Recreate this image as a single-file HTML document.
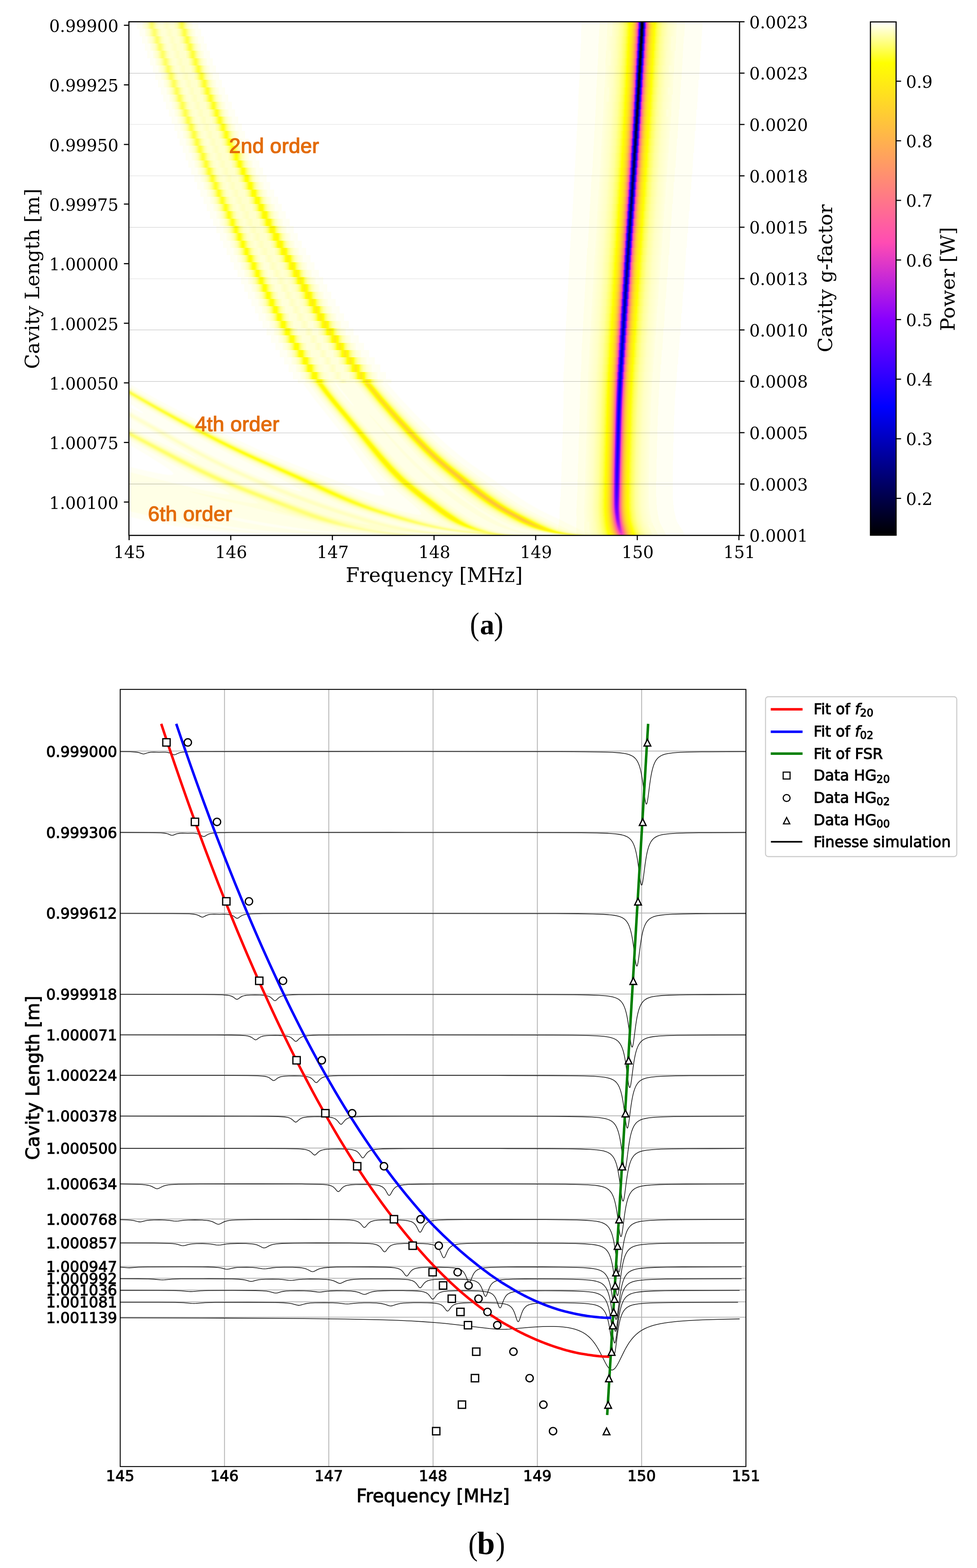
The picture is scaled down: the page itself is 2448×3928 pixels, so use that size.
<!DOCTYPE html>
<html><head><meta charset="utf-8"><title>Cavity scan</title>
<style>
html,body{margin:0;padding:0;background:#fff}
#page{position:relative;width:2448px;height:3928px;overflow:hidden;background:#fff}
#heat i{position:absolute;left:0;width:100%;display:block}
#heat svg.hb{position:absolute;left:0;mix-blend-mode:multiply;filter:blur(1.2px)}
#heat .m{mix-blend-mode:multiply}
#ov{position:absolute;left:0;top:0}
</style></head><body><div id="page">
<div id="heat" style="position:absolute;left:323px;top:54.5px;width:1530px;height:1286.7px;overflow:hidden;background:#fff;isolation:isolate">
<i style="top:0px;height:18.44px;background:linear-gradient(90deg,#fff 0px 20.2px,#fffff3 20.2px 33.2px,#ffffec 33.2px,#ffffcb 44px,#ffffb1 48px,#ffff76 54.5px,#ffff6a 57.5px,#ffff74 60px,#ffffbc 69px,#ffffd4 75.5px,#ffffd8 83.5px,#ffffc2 95px,#ffffd4 105.5px,#ffffd2 112px,#ffffb1 120.5px,#ffff52 130px,#ffff46 132.5px,#ffff54 135.5px,#ffff9d 142px,#ffffc2 146.5px,#ffffdc 152.5px,#ffffec 159.8px,#fffff3 159.8px 173.8px,#fff 173.8px 1134.2px,#fffff3 1134.2px 1178.8px,#ffffe6 1178.8px 1198.8px,#ffffda 1198.8px 1210.8px,#ffffd3 1210.8px,#ffffb7 1226px,#ffff8c 1238px,#ffff51 1247px,#ff0 1254px,#ffe817 1261px,#ffc53a 1266.5px,#ff946b 1271px,#f5a 1274.5px,#fb4ab5 1275px,#e93ec1 1275.5px,#7b00ff 1278px,#1200ff 1280px,#0000f4 1280.5px,#00008e 1282px,#00003a 1283.5px,#000009 1285px,#000002 1286px,#001 1287px,#000035 1288px,#008 1289.5px,#0000ed 1291px,#0d00ff 1291.5px,#8e04fb 1294px,#f848b7 1296.5px,#ff53ac 1297px,#ff926d 1300.5px,#ffc43b 1305px,#ffe718 1310.5px,#ff0 1317.5px,#ffff32 1321.5px,#ffff5d 1326px,#ffff9b 1337px,#ffffc5 1352px,#ffffdf 1372.8px,#ffffe6 1372.8px 1392.8px,#fffff3 1392.8px 1437.2px,#fff 1437.2px 1530px)"></i>
<i style="top:17.94px;height:18.78px;background:linear-gradient(90deg,#fff 0px 26.8px,#fffff3 26.8px 39.8px,#ffffec 39.8px,#ffffc9 51px,#ffff72 61.5px,#ffff68 64px,#ffff73 67px,#ffffba 75.5px,#ffffd4 82.5px,#ffffd7 90px,#ffffc2 102px,#ffffd3 112.5px,#ffffd0 119px,#ffffb1 127px,#ffff93 130.5px,#ffff50 136.5px,#ffff42 139.5px,#ffff4f 142px,#ffff9f 149px,#ffffc2 153.5px,#ffd 159.5px,#ffffec 166.8px,#fffff3 166.8px 180.8px,#fff 180.8px 1133.2px,#fffff3 1133.2px 1178.2px,#ffffe6 1178.2px 1197.8px,#ffffda 1197.8px 1209.8px,#ffffd3 1209.8px,#ffffb7 1225px,#ffff8d 1237px,#ffff56 1245.5px,#fffe01 1253.5px,#ffe619 1260.5px,#ffc23d 1266px,#ff8e71 1270.5px,#fe4cb3 1274px,#7f00ff 1277px,#0000f9 1279.5px,#000094 1281px,#00003f 1282.5px,#00000d 1284px,#000005 1285px,#000014 1286px,#000037 1287px,#008 1288.5px,#0000ed 1290px,#0d00ff 1290.5px,#8e04fb 1293px,#f748b7 1295.5px,#ff53ac 1296px,#ff926d 1299.5px,#ffc43b 1304px,#ffe718 1309.5px,#ff0 1316.5px,#ff3 1320.5px,#ffff5d 1325px,#ffff9b 1336px,#ffffc5 1351px,#ffffdf 1371.8px,#ffffe6 1371.8px 1391.8px,#fffff3 1391.8px 1436.2px,#fff 1436.2px 1530px)"></i>
<i style="top:36.22px;height:18.78px;background:linear-gradient(90deg,#fff 0px 33.2px,#fffff3 33.2px 46.2px,#ffffec 46.2px,#ffffca 57.5px,#ffffaf 61.5px,#ffff73 68px,#ff6 71px,#ffff73 74px,#ffffba 82.5px,#ffffd3 89.5px,#ffffd7 97px,#ffffc2 108.5px,#ffffd2 119px,#ffffd0 125.5px,#ffffae 134px,#ffff4b 143.5px,#ffff3f 146px,#ffff4d 149px,#ffff9f 156px,#ffffc2 160.5px,#ffffdc 166.5px,#ffffec 173.8px,#fffff3 173.8px 187.8px,#fff 187.8px 1132.8px,#fffff3 1132.8px 1177.2px,#ffffe6 1177.2px 1197.2px,#ffffdf 1197.2px,#ffffc5 1218px,#ffff9a 1233px,#ffff5f 1243.5px,#fffe01 1252.5px,#ffe619 1259.5px,#ffc23d 1265px,#ff8f70 1269.5px,#ff4db2 1273px,#8200ff 1276px,#0000fe 1278.5px,#009 1280px,#004 1281.5px,#001 1283px,#000009 1284px,#000017 1285px,#000039 1286px,#00008a 1287.5px,#0000ed 1289px,#0d00ff 1289.5px,#8e04fb 1292px,#f848b7 1294.5px,#ff53ac 1295px,#ff926d 1298.5px,#ffc53a 1303px,#ffe718 1308.5px,#ff0 1315.5px,#ffff51 1322.5px,#ffff8c 1331.5px,#ffffb7 1343.5px,#ffffd3 1358.8px,#ffffda 1358.8px 1370.8px,#ffffe6 1370.8px 1390.2px,#fffff3 1390.2px 1434.8px,#fff 1434.8px 1530px)"></i>
<i style="top:54.5px;height:18.78px;background:linear-gradient(90deg,#fff 0px 39.8px,#fffff3 39.8px 53.2px,#ffffeb 53.2px,#ffffc9 64.5px,#ffffad 68.5px,#ffff6f 75px,#ffff64 77.5px,#ffff6e 80.5px,#ffffb9 89.5px,#ffffd1 95.5px,#ffffd7 102.5px,#ffffc2 114.5px,#ffffc6 119.8px,#ffffcd 119.8px 135.8px,#ffffc6 135.8px,#ffffa8 141.5px,#ffff47 150.5px,#ffff3c 153.5px,#ffff4b 156px,#ff9 162.5px,#ffffbe 167px,#ffffda 173px,#ffffec 181.2px,#fffff3 181.2px 195.2px,#fff 195.2px 1131.8px,#fffff3 1131.8px 1176.2px,#ffffe6 1176.2px 1196.2px,#ffffdf 1196.2px,#ffffc5 1217px,#ffff9b 1232px,#ffff5c 1243px,#fffe01 1251.5px,#ffe619 1258.5px,#ffc33c 1264px,#ff8f70 1268.5px,#ff4fb0 1272px,#c829d6 1273.5px,#8400ff 1275px,#0200ff 1277.5px,#00007e 1279.5px,#000048 1280.5px,#000015 1282px,#00000c 1283px,#00001a 1284px,#00003c 1285px,#00008c 1286.5px,#0000ef 1288px,#0e00ff 1288.5px,#8f05fa 1291px,#f848b7 1293.5px,#ff53ac 1294px,#ff936c 1297.5px,#ffc53a 1302px,#ffe718 1307.5px,#ff0 1314.5px,#ffff51 1321.5px,#ffff8c 1330.5px,#ffffb7 1342.5px,#ffffd3 1357.8px,#ffffda 1357.8px 1369.8px,#ffffe6 1369.8px 1389.2px,#fffff3 1389.2px 1433.8px,#fff 1433.8px 1530px)"></i>
<i style="top:72.79px;height:18.78px;background:linear-gradient(90deg,#fff 0px 46.2px,#fffff3 46.2px 59.8px,#ffffec 59.8px,#ffffc7 71.5px,#ffffab 75.5px,#ffff6c 82px,#ffff61 84.5px,#ffff6c 87.5px,#ffffb6 96px,#ffffd1 102.5px,#ffffd7 109.5px,#ffffc1 121.5px,#ffffc6 126.8px,#ffffcd 126.8px 142.8px,#ffffc5 142.8px,#ffffa7 148.5px,#ff4 157.5px,#ffff38 160.5px,#ffff47 163px,#ffff96 169.5px,#ffffbd 174px,#ffffda 180px,#ffffec 188.2px,#fffff3 188.2px 202.8px,#fff 202.8px 1131.2px,#fffff3 1131.2px 1175.8px,#ffffe6 1175.8px 1195.2px,#ffffda 1195.2px 1207.2px,#ffffd3 1207.2px,#ffffb7 1222.5px,#ffff8c 1234.5px,#ffff54 1243px,#ff0 1250.5px,#ffe619 1257.5px,#ffc33c 1263px,#ff906f 1267.5px,#ff4fb0 1271px,#de37c8 1272px,#8600ff 1274px,#0500ff 1276.5px,#00004c 1279.5px,#000025 1280.5px,#000012 1281.5px,#000014 1282.5px,#00003f 1284px,#00008e 1285.5px,#0000f1 1287px,#1000ff 1287.5px,#7800ff 1289.5px,#9006f9 1290px,#e63dc2 1292px,#f949b6 1292.5px,#ff54ab 1293px,#ff936c 1296.5px,#ffc53a 1301px,#ffe718 1306.5px,#ff0 1313.5px,#ffff2e 1317px,#ffff5a 1321.5px,#ffff9a 1332.5px,#ffffc5 1347.5px,#ffffdf 1368.2px,#ffffe6 1368.2px 1388.2px,#fffff3 1388.2px 1432.2px,#fff 1432.2px 1530px)"></i>
<i style="top:91.07px;height:18.78px;background:linear-gradient(90deg,#fff 0px 52.8px,#fffff3 52.8px 66.2px,#ffffec 66.2px,#ffffc9 78px,#ffffa9 82.5px,#ffff6a 89px,#ffff5f 91.5px,#ffff6a 94.5px,#ffffb5 103px,#ffffd0 109.5px,#ffffd7 116.5px,#ffffc1 128.5px,#ffffc6 133.8px,#ffffcd 133.8px 149.2px,#ffffc7 149.2px,#ffffa6 155.5px,#ffff42 164.5px,#ffff34 167.5px,#ffff43 170px,#ffff98 177px,#ffffbe 181.5px,#ffffda 187.5px,#ffffec 195.8px,#fffff3 195.8px 210.2px,#fff 210.2px 1130.2px,#fffff3 1130.2px 1174.8px,#ffffe6 1174.8px 1194.2px,#ffffda 1194.2px 1206.2px,#ffffd3 1206.2px,#ffffb7 1221.5px,#ffff8c 1233.5px,#ffff50 1242.5px,#ff0 1249.5px,#ffe718 1256.5px,#ffc33c 1262px,#ff906f 1266.5px,#ff50af 1270px,#df38c7 1271px,#8700ff 1273px,#0600ff 1275.5px,#00004f 1278.5px,#000028 1279.5px,#000015 1280.5px,#000018 1281.5px,#000043 1283px,#000092 1284.5px,#0000f4 1286px,#1200ff 1286.5px,#7a00ff 1288.5px,#e83ec1 1291px,#fa4ab5 1291.5px,#f5a 1292px,#ff946b 1295.5px,#ffc53a 1300px,#ffe817 1305.5px,#fffe01 1312px,#ffff5f 1321px,#ffff9a 1331.5px,#ffffc5 1346.5px,#ffffe0 1367.2px,#ffffe6 1367.2px 1386.8px,#fffff3 1386.8px 1431.2px,#fff 1431.2px 1530px)"></i>
<i style="top:109.35px;height:18.78px;background:linear-gradient(90deg,#fff 0px 59.8px,#fffff3 59.8px 73.2px,#ffffec 73.2px,#ffffc8 85px,#ffffa8 89.5px,#ffff67 96px,#ffff5c 98.5px,#ffff68 101.5px,#ffffb4 110px,#ffffcf 116.5px,#ffffd6 123.5px,#ffffc1 135.5px,#ffffc6 141.2px,#ffffcd 141.2px 156.2px,#ffffc6 156.2px,#ffffa2 163px,#ffff41 171.5px,#ffff30 174.5px,#ffff3d 177px,#ffff94 184px,#ffffbf 189px,#ffffda 195px,#ffffec 203.2px,#fffff3 203.2px 217.8px,#fff 217.8px 1129.8px,#fffff3 1129.8px 1173.8px,#ffffe6 1173.8px 1193.8px,#ffffdf 1193.8px,#ffffc5 1214.5px,#ffff9a 1229.5px,#ffff5d 1240px,#ff3 1244.5px,#ff0 1248.5px,#ffe718 1255.5px,#ffc43b 1261px,#ff916e 1265.5px,#ff50af 1269px,#e038c7 1270px,#80f 1272px,#7000ff 1272.5px,#0800ff 1274.5px,#0000e7 1275px,#000087 1276.5px,#000052 1277.5px,#00002c 1278.5px,#000019 1279.5px,#00001b 1280.5px,#000047 1282px,#000096 1283.5px,#0000f8 1285px,#7c00ff 1287.5px,#fc4bb4 1290.5px,#ff8d72 1294px,#ffc23d 1298.5px,#ffe619 1304px,#fffe01 1311px,#ffff57 1319px,#ffff8e 1327.5px,#ffffb7 1339px,#ffffd3 1354.2px,#ffffda 1354.2px 1366.2px,#ffffe6 1366.2px 1385.8px,#fffff3 1385.8px 1429.8px,#fff 1429.8px 1530px)"></i>
<i style="top:127.63px;height:18.78px;background:linear-gradient(90deg,#fff 0px 66.2px,#fffff3 66.2px 79.8px,#ffffec 79.8px,#ffffde 86.5px,#ffffc7 92px,#ffffa6 96.5px,#ffff65 103px,#ffff59 105.5px,#ffff65 108.5px,#ffffb2 117px,#ffffcf 123.5px,#ffffd6 130.5px,#ffffc0 143px,#ffffc7 148.8px,#ffffcd 148.8px 163.2px,#ffffc7 163.2px,#ffffa3 170px,#ffff3b 179px,#ffff2c 182px,#ffff3b 184.5px,#ffff94 191.5px,#ffb 196px,#ffffda 202.5px,#ffffec 210.8px,#fffff3 210.8px 225.8px,#fff 225.8px 1128.8px,#fffff3 1128.8px 1173.2px,#ffffe6 1173.2px 1192.8px,#ffffdf 1192.8px,#ffffc5 1213.5px,#ffff9a 1228.5px,#ffff5e 1239px,#ff3 1243.5px,#ff0 1247.5px,#ffe718 1254.5px,#ffc43b 1260px,#ff916e 1264.5px,#ff50af 1268px,#e039c6 1269px,#8901fe 1271px,#7000ff 1271.5px,#0800ff 1273.5px,#0000e8 1274px,#008 1275.5px,#000054 1276.5px,#00002e 1277.5px,#00001c 1278.5px,#000020 1279.5px,#00004b 1281px,#00009b 1282.5px,#0000fd 1284px,#7f00ff 1286.5px,#fe4cb3 1289.5px,#ff8e71 1293px,#ffc23d 1297.5px,#ffe619 1303px,#fffe01 1310px,#ffff5c 1318.5px,#ffff9b 1329.5px,#ffffc4 1344px,#ffffdf 1364.8px,#ffffe6 1364.8px 1384.8px,#fffff3 1384.8px 1428.8px,#fff 1428.8px 1530px)"></i>
<i style="top:145.91px;height:18.78px;background:linear-gradient(90deg,#fff 0px 72.8px,#fffff3 72.8px 86.8px,#ffffec 86.8px,#ffffde 93.5px,#ffffc7 99px,#ffffa6 103.5px,#ffff63 110px,#ffff56 112.5px,#ffff61 115.5px,#ffffb4 124.5px,#ffffce 130.5px,#ffffd6 138px,#ffffc0 150px,#ffffc6 155.8px,#ffffcd 155.8px 170.8px,#ffffc6 170.8px,#ffffa1 177.5px,#ffff37 186.5px,#ffff29 189.5px,#ffff38 192px,#ffff93 199px,#ffb 203.5px,#ffffda 210px,#ffffec 218.8px,#fffff3 218.8px 233.2px,#fff 233.2px 1128.2px,#fffff3 1128.2px 1172.2px,#ffffe6 1172.2px 1191.8px,#ffffe0 1191.8px,#ffffc5 1212.5px,#ffff9a 1227.5px,#ffff5a 1238.5px,#ff3 1242.5px,#ff0 1246.5px,#ffe718 1253.5px,#ffc43b 1259px,#ff916e 1263.5px,#ff50af 1267px,#e038c7 1268px,#8801fe 1270px,#7000ff 1270.5px,#0800ff 1272.5px,#0000e8 1273px,#000089 1274.5px,#000056 1275.5px,#000031 1276.5px,#000020 1277.5px,#000024 1278.5px,#000051 1280px,#000083 1281px,#0200ff 1283px,#8300ff 1285.5px,#ff4eb1 1288.5px,#ff8f70 1292px,#ffc33c 1296.5px,#ffe619 1302px,#ff0 1309px,#ffff38 1313.5px,#ffff5d 1317.5px,#ffff9c 1328.5px,#ffffc5 1343px,#ffffdf 1363.8px,#ffffe6 1363.8px 1383.2px,#fffff3 1383.2px 1427.2px,#fff 1427.2px 1530px)"></i>
<i style="top:164.2px;height:18.78px;background:linear-gradient(90deg,#fff 0px 79.8px,#fffff3 79.8px 93.8px,#ffffec 93.8px,#ffd 100.5px,#ffffc6 106px,#ffffa5 110.5px,#ffff61 117px,#ffff53 120px,#ffff62 123px,#ffffae 131px,#ffffcd 137.5px,#ffffd6 145px,#ffffc0 157.5px,#ffffc6 163.2px,#ffffcd 163.2px 177.8px,#ffffc6 177.8px,#ffffa0 185px,#ff3 194px,#ffff25 197px,#ffff34 199.5px,#ffff91 206.5px,#ffffb9 211px,#ffffd9 217.5px,#ffffec 226.2px,#fffff3 226.2px 241.2px,#fff 241.2px 1127.2px,#fffff3 1127.2px 1171.2px,#ffffe6 1171.2px 1190.8px,#ffffda 1190.8px 1202.8px,#ffffd3 1202.8px,#ffffb6 1218px,#ffff8d 1229.5px,#ffff51 1238.5px,#ff0 1245.5px,#ffe718 1252.5px,#ffc43b 1258px,#ff916e 1262.5px,#ff50af 1266px,#df38c7 1267px,#80f 1269px,#6f00ff 1269.5px,#0800ff 1271.5px,#0000e8 1272px,#00008a 1273.5px,#000057 1274.5px,#003 1275.5px,#000023 1276.5px,#000028 1277.5px,#000056 1279px,#0700ff 1282px,#8700ff 1284.5px,#de38c7 1286.5px,#ff50af 1287.5px,#ff906f 1291px,#ffc43b 1295.5px,#ffe718 1301px,#ff0 1308px,#ffff51 1315px,#ffff8d 1324px,#ffffb6 1335.5px,#ffffd3 1350.8px,#ffffda 1350.8px 1362.8px,#ffffe6 1362.8px 1382.2px,#fffff3 1382.2px 1426.2px,#fff 1426.2px 1530px)"></i>
<i style="top:182.48px;height:18.78px;background:linear-gradient(90deg,#fff 0px 86.2px,#fffff3 86.2px 100.8px,#ffffec 100.8px,#ffffdc 108px,#ffffc3 113.5px,#ffffa5 117.5px,#ffff5b 124.5px,#ffff50 127px,#ffff5d 130px,#ffffaf 138.5px,#ffffcd 145px,#ffffd5 152.5px,#ffffc0 165px,#ffffc6 170.8px,#ffffcd 170.8px 185.2px,#ffffc6 185.2px,#ffff9f 192.5px,#ffff31 201.5px,#ffff21 204.5px,#ffff30 207px,#ffff8d 214px,#ffb 219px,#ffffd9 225.5px,#ffffec 234.2px,#fffff3 234.2px 249.2px,#fff 249.2px 1126.2px,#fffff3 1126.2px 1170.2px,#ffffe6 1170.2px 1189.8px,#ffffda 1189.8px 1201.8px,#ffffd3 1201.8px,#ffffb6 1217px,#ffff8d 1228.5px,#ffff51 1237.5px,#ff0 1244.5px,#ffe718 1251.5px,#ffc33c 1257px,#ff906f 1261.5px,#ff4fb0 1265px,#de37c8 1266px,#8600ff 1268px,#0700ff 1270.5px,#000058 1273.5px,#000035 1274.5px,#000027 1275.5px,#00002d 1276.5px,#000048 1277.5px,#000090 1279px,#00e 1280.5px,#0c00ff 1281px,#8b02fd 1283.5px,#e23ac5 1285.5px,#ff52ad 1286.5px,#ff926d 1290px,#ffc43b 1294.5px,#ffe718 1300px,#ffff01 1307px,#ffff2f 1310.5px,#ffff5b 1315px,#ffff9b 1326px,#ffffc4 1340.5px,#ffffdf 1361.2px,#ffffe6 1361.2px 1380.8px,#fffff3 1380.8px 1424.8px,#fff 1424.8px 1530px)"></i>
<i style="top:200.76px;height:18.78px;background:linear-gradient(90deg,#fff 0px 93.2px,#fffff3 93.2px 107.2px,#ffffec 107.2px,#ffd 114.5px,#ffffc3 120.5px,#ffffa0 125px,#ffff5a 131.5px,#ffff4d 134px,#ffff59 137px,#ffffb0 146px,#ffc 152px,#ffffd5 160px,#ffffc0 172.5px,#ffffc6 178.2px,#ffffcd 178.2px 192.8px,#ffffc6 192.8px,#ffff9f 200px,#ffff7a 203.5px,#ffff2f 209px,#ffff1c 212px,#ffff2a 214.5px,#ffff89 221.5px,#ffffb8 226.5px,#ffffd8 233px,#ffffec 242.2px,#fffff3 242.2px 257.8px,#fff 257.8px 1125.8px,#fffff3 1125.8px 1169.8px,#ffffe6 1169.8px 1189.2px,#ffffdf 1189.2px,#ffffc4 1210px,#ffff9a 1224.5px,#ffff5e 1235px,#ff3 1239.5px,#ff0 1243.5px,#ffe718 1250.5px,#ffc33c 1256px,#ff906f 1260.5px,#ff4eb1 1264px,#dc36c9 1265px,#8500ff 1267px,#0600ff 1269.5px,#000089 1271.5px,#000059 1272.5px,#000037 1273.5px,#00002a 1274.5px,#000032 1275.5px,#00004e 1276.5px,#000097 1278px,#0000f5 1279.5px,#1200ff 1280px,#9006f9 1282.5px,#f949b6 1285px,#ff54ab 1285.5px,#ff936c 1289px,#ffc53a 1293.5px,#ffe817 1299px,#fffe01 1305.5px,#ffff60 1314.5px,#ffff9b 1325px,#ffffc5 1339.5px,#ffffe0 1360.2px,#ffffe6 1360.2px 1379.8px,#fffff3 1379.8px 1423.8px,#fff 1423.8px 1530px)"></i>
<i style="top:219.04px;height:18.78px;background:linear-gradient(90deg,#fff 0px 100.2px,#fffff3 100.2px 114.2px,#ffffec 114.2px,#ffd 121.5px,#ffffc3 127.5px,#ffffa0 132px,#ffff58 138.5px,#ffff49 141.5px,#ffff58 144.5px,#ffffad 153px,#ffc 159.5px,#ffffd5 167.5px,#ffffc0 180px,#ffffc6 185.8px,#ffffcd 185.8px 200.2px,#ffffc6 200.2px,#ffffb5 204.5px,#ffff9c 208px,#ffff7c 211px,#ffff29 217px,#ffff18 220px,#ffff27 222.5px,#ffff89 229.5px,#ffffb8 234.5px,#ffffd8 241px,#ffffec 250.2px,#fffff3 250.2px 265.8px,#fff 265.8px 1124.8px,#fffff3 1124.8px 1168.8px,#ffffe6 1168.8px 1188.2px,#ffffdf 1188.2px,#ffffc4 1209px,#ffff9a 1223.5px,#ffff5e 1234px,#ff3 1238.5px,#ff0 1242.5px,#ffe718 1249.5px,#ffc33c 1255px,#ff8f70 1259.5px,#ff4db2 1263px,#8200ff 1266px,#0400ff 1268.5px,#008 1270.5px,#000059 1271.5px,#000039 1272.5px,#00002e 1273.5px,#000037 1274.5px,#005 1275.5px,#00009f 1277px,#0000fd 1278.5px,#7e00ff 1281px,#fd4bb4 1284px,#ff8d72 1287.5px,#ffc23d 1292px,#ffe619 1297.5px,#ff0 1304.5px,#ff5 1312px,#ffff8c 1320.5px,#ffffb6 1332px,#ffffd3 1347.2px,#ffffda 1347.2px 1359.2px,#ffffe6 1359.2px 1378.2px,#fffff3 1378.2px 1422.2px,#fff 1422.2px 1530px)"></i>
<i style="top:237.32px;height:18.78px;background:linear-gradient(90deg,#fff 0px 106.8px,#fffff3 106.8px 121.2px,#ffffec 121.2px,#ffffdb 129px,#ffffc0 135px,#ffff9c 139.5px,#ffff52 146px,#ffff45 148.5px,#ffff52 151.5px,#ffffae 160.5px,#ffc 167px,#ffffd5 175px,#ffffc0 187.5px,#ffffc6 193.2px,#ffffcd 193.2px 208.2px,#ffffc6 208.2px,#ffffb4 212.5px,#ffff9a 216px,#ffff79 219px,#ffff25 225px,#ffff14 228px,#ffff24 230.5px,#ffff87 237.5px,#ffffb7 242.5px,#ffffd9 249.5px,#ffffec 258.8px,#fffff3 258.8px 274.2px,#fff 274.2px 1123.8px,#fffff3 1123.8px 1167.8px,#ffffe6 1167.8px 1187.2px,#ffffdf 1187.2px,#ffffc4 1208px,#ffff9a 1222.5px,#ffff5e 1233px,#ffff38 1237px,#ff0 1241.5px,#ffe619 1248.5px,#ffc23d 1254px,#ff8e71 1258.5px,#fe4cb3 1262px,#8000ff 1265px,#0100ff 1267.5px,#0000a3 1269px,#000059 1270.5px,#00003b 1271.5px,#000032 1272.5px,#00003d 1273.5px,#00005c 1274.5px,#00008b 1275.5px,#0000e5 1277px,#0500ff 1277.5px,#8400ff 1280px,#ff4eb1 1283px,#ff8f70 1286.5px,#ffc33c 1291px,#ffe718 1296.5px,#ff0 1303.5px,#ffff34 1307.5px,#ffff5a 1311.5px,#ffff9b 1322.5px,#ffffc4 1337px,#ffffdf 1357.8px,#ffffe6 1357.8px 1377.2px,#fffff3 1377.2px 1421.2px,#fff 1421.2px 1530px)"></i>
<i style="top:255.61px;height:18.78px;background:linear-gradient(90deg,#fff 0px 113.8px,#fffff3 113.8px 128.2px,#ffffec 128.2px,#ffffdb 136px,#ffffc0 142px,#ffff9c 146.5px,#ffff51 153px,#ffff41 156px,#ffff51 159px,#ffa 167.5px,#ffffcb 174px,#ffffd6 182px,#ffffc0 195px,#ffffc7 201.2px,#ffffcd 201.2px 215.8px,#ffffc7 215.8px,#ffff9d 223.5px,#ff7 227px,#ff2 233px,#ffff10 236px,#ffff20 238.5px,#ffff84 245.5px,#ffffb5 250.5px,#ffffd8 257.5px,#ffffec 267.2px,#fffff3 267.2px 282.8px,#fff 282.8px 1122.8px,#fffff3 1122.8px 1166.8px,#ffffe6 1166.8px 1186.2px,#ffffdf 1186.2px,#ffffc4 1207px,#ffff9a 1221.5px,#ffff5d 1232px,#ffff38 1236px,#ff0 1240.5px,#ffe817 1247px,#ffc639 1252.5px,#ff946b 1257px,#ff56a9 1260.5px,#fc4bb4 1261px,#7d00ff 1264px,#0000fd 1266.5px,#0000a0 1268px,#000059 1269.5px,#00003d 1270.5px,#000036 1271.5px,#000043 1272.5px,#000064 1273.5px,#000094 1274.5px,#0000ef 1276px,#0d00ff 1276.5px,#8a02fd 1279px,#e139c6 1281px,#ff51ae 1282px,#ff916e 1285.5px,#ffc43b 1290px,#ffe51a 1295px,#fffe01 1302px,#ffff5f 1311px,#ffff9b 1321.5px,#ffffc5 1336px,#ffffe0 1356.8px,#ffffe6 1356.8px 1375.8px,#fffff3 1375.8px 1419.8px,#fff 1419.8px 1530px)"></i>
<i style="top:273.89px;height:18.78px;background:linear-gradient(90deg,#fff 0px 120.8px,#fffff3 120.8px 135.2px,#ffffec 135.2px,#ffffda 143.5px,#ffffbe 149.5px,#ffff98 154px,#ffff4b 160.5px,#ffff3d 163px,#ffff4a 166px,#ffa 175px,#ffffcb 181.5px,#ffffd6 190px,#ffffbf 203px,#ffffc6 208.8px,#ffffcd 208.8px 223.8px,#ffffc7 223.8px,#ffffb6 228px,#ff9 232px,#ffff71 235.5px,#ffff20 241px,#ffff0c 244px,#ffff1a 246.5px,#ffff86 254px,#ffffb6 259px,#ffffd8 266px,#ffffec 275.8px,#fffff3 275.8px 291.2px,#fff 291.2px 1121.8px,#fffff3 1121.8px 1165.8px,#ffffe6 1165.8px 1185.2px,#ffffdf 1185.2px,#ffffc4 1206px,#ffff9a 1220.5px,#ffff5d 1231px,#fffe01 1239.5px,#ffe817 1246px,#ffc53a 1251.5px,#ff936c 1256px,#ff54ab 1259.5px,#f949b6 1260px,#e63dc2 1260.5px,#9106f9 1262.5px,#7900ff 1263px,#0000f9 1265.5px,#00009e 1267px,#00006c 1268px,#00004a 1269px,#00003a 1270px,#00003f 1271px,#000059 1272px,#00009e 1273.5px,#0000f9 1275px,#1500ff 1275.5px,#9106f9 1278px,#f949b6 1280.5px,#ff54ab 1281px,#ff936c 1284.5px,#ffc53a 1289px,#ffe817 1294.5px,#fffe01 1301px,#ffff5d 1309.5px,#ffff9a 1320px,#ffffc4 1334.5px,#ffffdf 1355.2px,#ffffe6 1355.2px 1374.8px,#fffff3 1374.8px 1418.2px,#fff 1418.2px 1530px)"></i>
<i style="top:292.17px;height:18.78px;background:linear-gradient(90deg,#fff 0px 127.2px,#fffff3 127.2px 142.2px,#ffffec 142.2px,#ffffda 150.5px,#ffffbf 156.5px,#ffff9a 161px,#ffff46 168px,#ffff39 170.5px,#ffff47 173.5px,#ffffa9 182.5px,#ffffca 189px,#ffffd6 197.5px,#ffffc0 210.5px,#ffffc6 216.8px,#ffffcd 216.8px 232.2px,#ffffc5 232.2px,#ffffb4 236.5px,#ffff9a 240px,#ffff72 243.5px,#ffff19 249.5px,#ffff07 252.5px,#ffff18 255px,#ffff80 262px,#ffffb6 267.5px,#ffffd8 274.5px,#ffffec 284.2px,#fffff3 284.2px 300.2px,#fff 300.2px 1121.2px,#fffff3 1121.2px 1164.8px,#ffffe6 1164.8px 1184.2px,#ffffdf 1184.2px,#ffffc5 1204.5px,#ffff9c 1219px,#ffff60 1229.5px,#fffe01 1238.5px,#ffe51a 1245.5px,#ffc53a 1250.5px,#ff926d 1255px,#ff52ad 1258.5px,#e33ac5 1259.5px,#8d03fc 1261.5px,#7500ff 1262px,#1000ff 1264px,#0000f4 1264.5px,#00009a 1266px,#00006b 1267px,#00004b 1268px,#00003e 1269px,#000045 1270px,#000061 1271px,#00008d 1272px,#0000e4 1273.5px,#0400ff 1274px,#8100ff 1276.5px,#ff4cb3 1279.5px,#ff8e71 1283px,#ffc33c 1287.5px,#ffe619 1293px,#ff0 1300px,#ffff34 1304px,#ffff5e 1308.5px,#ffff9b 1319px,#ffffc5 1333.5px,#ffffe0 1354.2px,#ffffe6 1354.2px 1373.2px,#fffff3 1373.2px 1417.2px,#fff 1417.2px 1530px)"></i>
<i style="top:310.45px;height:18.78px;background:linear-gradient(90deg,#fff 0px 134.8px,#fffff3 134.8px 149.2px,#ffffec 149.2px,#ffffdb 157.5px,#ffffbe 164px,#ffff98 168.5px,#ffff42 175.5px,#ffff35 178px,#ffff43 181px,#ffffa7 190px,#ffffca 196.5px,#ffffd6 205.5px,#ffffc0 218.5px,#ffffc7 224.8px,#ffffcd 224.8px 240.2px,#ffffc6 240.2px,#ffffb5 244.5px,#ffff97 248.5px,#ffff6e 252px,#ffff13 258px,#ffff03 261px,#ffff15 263.5px,#ffff80 270.5px,#ffffb2 275.5px,#ffffd6 282.5px,#ffffec 292.8px,#fffff3 292.8px 308.8px,#fff 308.8px 1120.2px,#fffff3 1120.2px 1163.8px,#ffffe6 1163.8px 1183.2px,#ffffdf 1183.2px,#ffffc5 1203.5px,#ffff9c 1218px,#ffff60 1228.5px,#fffe01 1237.5px,#ffe51a 1244.5px,#ffc43b 1249.5px,#ff906f 1254px,#ff4fb0 1257.5px,#de38c7 1258.5px,#8700ff 1260.5px,#0b00ff 1263px,#0000ed 1263.5px,#000096 1265px,#000069 1266px,#00004b 1267px,#000041 1268px,#00004c 1269px,#00006a 1270px,#000098 1271px,#0000f0 1272.5px,#0e00ff 1273px,#8a01fe 1275.5px,#e039c6 1277.5px,#ff50af 1278.5px,#ff916e 1282px,#ffc43b 1286.5px,#ffe51a 1291.5px,#fffe01 1298.5px,#ffff60 1307.5px,#ffff9c 1318px,#ffffc5 1332.5px,#ffffdf 1352.8px,#ffffe6 1352.8px 1372.2px,#fffff3 1372.2px 1415.8px,#fff 1415.8px 1530px)"></i>
<i style="top:328.74px;height:18.78px;background:linear-gradient(90deg,#fff 0px 141.8px,#fffff3 141.8px 156.8px,#ffffec 156.8px,#ffffdb 165px,#ffffbd 171.5px,#ffff96 176px,#ffff3f 183px,#ffff30 185.5px,#ffff3e 188.5px,#ffffa5 197.5px,#ffffca 204.5px,#ffffd6 213.5px,#ffffc0 226.5px,#ffffc7 232.8px,#ffffcd 232.8px 248.8px,#ffffc5 248.8px,#ffffb3 253px,#ff9 256.5px,#ffff72 260px,#ffff0f 266.5px,#ffff01 268px,#ff0 270px,#ffff18 272.5px,#ffff84 279.5px,#ffffb1 284px,#ffffd7 291.5px,#ffffec 301.8px,#fffff3 301.8px 317.8px,#fff 317.8px 1119.2px,#fffff3 1119.2px 1162.8px,#ffffe6 1162.8px 1182.2px,#ffffdf 1182.2px,#ffffc5 1202.5px,#ffff9b 1217px,#ffff5b 1228px,#ffff34 1232px,#ff0 1236px,#ffe718 1243px,#ffc33c 1248.5px,#ff8e71 1253px,#ff4cb3 1256.5px,#8100ff 1259.5px,#0500ff 1262px,#000091 1264px,#006 1265px,#00004c 1266px,#000046 1267px,#000054 1268px,#000075 1269px,#0000a5 1270px,#0000fe 1271.5px,#7c00ff 1274px,#fb4ab5 1277px,#ff8d72 1280.5px,#ffc23d 1285px,#ffe619 1290.5px,#ff0 1297.5px,#ffff38 1302px,#ffff5e 1306px,#ffff9b 1316.5px,#ffffc5 1331px,#ffffe0 1351.8px,#ffffe6 1351.8px 1370.8px,#fffff3 1370.8px 1414.2px,#fff 1414.2px 1530px)"></i>
<i style="top:347.02px;height:18.78px;background:linear-gradient(90deg,#fff 0px 148.8px,#fffff3 148.8px 164.2px,#ffffec 164.2px,#ffffda 172.5px,#ffffbc 179px,#ffff91 184px,#ffff38 191px,#ffff2c 193.5px,#ffff3d 196.5px,#ffffa2 205px,#ffffc9 212px,#ffffd6 221px,#ffffc0 234.5px,#ffffc6 240.8px,#ffffcd 240.8px 256.8px,#ffffc6 256.8px,#ffff9d 264.5px,#ffff70 268.5px,#ffff05 275.5px,#ff0 279px,#ffff13 281px,#ffff81 288px,#ffffaf 292.5px,#ffffd6 300px,#ffffec 310.2px,#fffff3 310.2px 326.8px,#fff 326.8px 1118.2px,#fffff3 1118.2px 1161.8px,#ffffe6 1161.8px 1180.8px,#ffffe0 1180.8px,#ffffc5 1201.5px,#ffff9b 1216px,#ffff5e 1226.5px,#ffff38 1230.5px,#ff0 1235px,#ffe817 1241.5px,#ffc639 1247px,#ff936c 1251.5px,#ff54ab 1255px,#f949b6 1255.5px,#e63dc2 1256px,#7a00ff 1258.5px,#0000fc 1261px,#0000a4 1262.5px,#000076 1263.5px,#000056 1264.5px,#00004a 1265.5px,#000051 1266.5px,#00006d 1267.5px,#000098 1268.5px,#00e 1270px,#0b00ff 1270.5px,#8600ff 1273px,#dd37c8 1275px,#ff4fb0 1276px,#ff906f 1279.5px,#ffc43b 1284px,#ffe51a 1289px,#fffe01 1296px,#ffff60 1305px,#ffff9c 1315.5px,#ffffc5 1330px,#ffffe0 1350.2px,#ffffe6 1350.2px 1369.8px,#fffff3 1369.8px 1412.8px,#fff 1412.8px 1530px)"></i>
<i style="top:365.3px;height:18.78px;background:linear-gradient(90deg,#fff 0px 156.2px,#fffff3 156.2px 171.8px,#ffffec 171.8px,#ffffd9 180.5px,#ffffba 187px,#ffff92 191.5px,#ffff37 198.5px,#ffff28 201px,#ffff36 204px,#ffffa1 213px,#ffffc9 220px,#ffffd6 229.5px,#ffffc0 243px,#ffffc6 248.8px,#ffffcd 248.8px 265.2px,#ffffc6 265.2px,#ffffb2 270px,#ffff8e 274.5px,#ffff68 277.5px,#ffff02 284px,#ff0 288.5px,#ffff7d 296.5px,#ffffb0 301.5px,#ffffd6 309px,#ffffec 319.2px,#fffff3 319.2px 335.8px,#fff 335.8px 1117.2px,#fffff3 1117.2px 1160.8px,#ffffe6 1160.8px 1179.8px,#ffffe0 1179.8px,#ffffc5 1200px,#ffff9c 1214.5px,#ffff60 1225px,#fffe01 1234px,#ffe51a 1241px,#ffc43b 1246px,#ff916e 1250.5px,#ff50af 1254px,#e038c7 1255px,#8901fe 1257px,#7200ff 1257.5px,#0f00ff 1259.5px,#0000f3 1260px,#00009d 1261.5px,#000072 1262.5px,#000056 1263.5px,#00004e 1264.5px,#000059 1265.5px,#000078 1266.5px,#0000a6 1267.5px,#0000fe 1269px,#9206f9 1272px,#f949b6 1274.5px,#ff54ab 1275px,#ff936c 1278.5px,#ffc639 1283px,#ffe817 1288.5px,#ff0 1295px,#ffff38 1299.5px,#ffff5e 1303.5px,#ffff9b 1314px,#ffffc5 1328.5px,#ffffdf 1348.8px,#ffffe6 1348.8px 1368.2px,#fffff3 1368.2px 1411.8px,#fff 1411.8px 1530px)"></i>
<i style="top:383.58px;height:18.78px;background:linear-gradient(90deg,#fff 0px 163.8px,#fffff3 163.8px 179.2px,#ffffec 179.2px,#ffffd8 188.5px,#ffffb8 195px,#ffff90 199.5px,#ff3 206.5px,#ffff23 209px,#ffff32 212px,#ffffa0 221px,#ffffc8 228px,#ffffd6 237.5px,#ffffbf 251.5px,#ffffc6 257.2px,#ffffcd 257.2px 273.8px,#ffffc6 273.8px,#ffffb2 278.5px,#ffff8e 283px,#ffff61 286.5px,#ff0 292.5px 297.5px,#ff7 305px,#ffffb1 310.5px,#ffffd6 318px,#ffffec 328.8px,#fffff3 328.8px 345.2px,#fff 345.2px 1115.8px,#fffff3 1115.8px 1159.2px,#ffffe6 1159.2px 1178.8px,#ffffe0 1178.8px,#ffffc4 1199.5px,#ffff9a 1214px,#ffff5b 1224.5px,#ffff34 1228.5px,#ff0 1232.5px,#ffe718 1239.5px,#ffc33c 1245px,#ff8e71 1249.5px,#fe4cb3 1253px,#8100ff 1256px,#0600ff 1258.5px,#000080 1261px,#000060 1262px,#000052 1263px,#000058 1264px,#000072 1265px,#00009b 1266px,#0000ef 1267.5px,#0c00ff 1268px,#8600ff 1270.5px,#ff4eb1 1273.5px,#ff906f 1277px,#ffc33c 1281.5px,#ffe51a 1286.5px,#fffe01 1293.5px,#ffff60 1302.5px,#ffff9c 1313px,#ffffc5 1327.5px,#ffffe0 1347.8px,#ffffe6 1347.8px 1366.8px,#fffff3 1366.8px 1410.2px,#fff 1410.2px 1530px)"></i>
<i style="top:401.86px;height:18.78px;background:linear-gradient(90deg,#fff 0px 171.2px,#fffff3 171.2px 186.8px,#ffffec 186.8px,#ffffd9 196px,#ffb 202.5px,#ffff8e 207.5px,#ffff30 214.5px,#ffff1e 217.5px,#ffff32 220.5px,#ffff9d 229px,#ffffc7 236px,#ffffd6 246px,#ffffbf 260px,#ffffc6 265.8px,#ffffcd 265.8px 282.2px,#ffffc6 282.2px,#ffffb3 287px,#ffff8f 291.5px,#ffff63 295px,#ff0 301px,#fffe01 306.5px,#ffff09 307.5px,#ffff7e 314.5px,#ffffb0 319.5px,#ffffd6 327px,#ffffec 337.8px,#fffff3 337.8px 354.2px,#fff 354.2px 1114.8px,#fffff3 1114.8px 1158.2px,#ffffe6 1158.2px 1177.8px,#ffffdf 1177.8px,#ffffc5 1198px,#ffff9b 1212.5px,#ffff5e 1223px,#ffff38 1227px,#fffe01 1231.5px,#ffe619 1238.5px,#ffc53a 1243.5px,#ff936c 1248px,#ff53ac 1251.5px,#e43bc4 1252.5px,#8f05fa 1254.5px,#7800ff 1255px,#0000fc 1257.5px,#0000a7 1259px,#00007b 1260px,#00005f 1261px,#005 1262px,#000060 1263px,#00007d 1264px,#00a 1265px,#0100ff 1266.5px,#9207f8 1269.5px,#f949b6 1272px,#ff54ab 1272.5px,#ff936c 1276px,#ffc639 1280.5px,#ffe619 1285.5px,#ff0 1292.5px,#ffff39 1297px,#ffff5e 1301px,#ffff9b 1311.5px,#ffffc5 1326px,#ffffdf 1346.2px,#ffffe6 1346.2px 1365.2px,#fffff3 1365.2px 1408.8px,#fff 1408.8px 1530px)"></i>
<i style="top:420.14px;height:18.78px;background:linear-gradient(90deg,#fff 0px 179.2px,#fffff3 179.2px 194.8px,#ffffec 194.8px,#ffffd9 204px,#ffffb8 211px,#ffff89 216px,#ffff28 223px,#ffff1a 225.5px,#ffff2b 228.5px,#ff7 234px,#ffff9d 237.5px,#ffffc7 244.5px,#ffffd6 254.5px,#ffffbf 268.5px,#ffffc6 274.2px,#ffffcd 274.2px 290.8px,#ffffc7 290.8px,#ffffb1 296px,#ffff8c 300.5px,#ffff5f 304px,#ff0 309.5px 316px,#ffff75 323px,#ffffaf 328.5px,#ffffd5 336px,#ffffec 347.2px,#fffff3 347.2px 364.2px,#fff 364.2px 1113.8px,#fffff3 1113.8px 1157.2px,#ffffe6 1157.2px 1176.2px,#ffffe0 1176.2px,#ffffc5 1196.5px,#ffff9c 1211px,#ffff60 1221.5px,#fffe01 1230.5px,#ffe51a 1237.5px,#ffc33c 1242.5px,#ff906f 1247px,#ff4eb1 1250.5px,#8600ff 1253.5px,#0d00ff 1256px,#0000f1 1256.5px,#000089 1258.5px,#000069 1259.5px,#00005a 1260.5px,#00005f 1261.5px,#000078 1262.5px,#0000a0 1263.5px,#0000f3 1265px,#0e00ff 1265.5px,#8700ff 1268px,#dd37c8 1270px,#ff4fb0 1271px,#ff906f 1274.5px,#ffc43b 1279px,#ffe51a 1284px,#fffe01 1291px,#ffff5c 1299.5px,#ffff9a 1310px,#ffffc4 1324.5px,#ffffdf 1344.8px,#ffffe6 1344.8px 1364.2px,#fffff3 1364.2px 1407.2px,#fff 1407.2px 1530px)"></i>
<i style="top:438.43px;height:18.78px;background:linear-gradient(90deg,#fff 0px 186.8px,#fffff3 186.8px 202.8px,#ffffec 202.8px,#ffffd9 212px,#ffffb8 219px,#ffff8a 224px,#ff2 231.5px,#ffff15 234px,#ffff28 237px,#ffff98 245.5px,#ffffc6 253px,#ffffd6 263px,#ffffbf 277px,#ffffc6 283.2px,#ffffcd 283.2px 299.8px,#ffffc6 299.8px,#ffffb0 305px,#ffff8a 309.5px,#ffff5c 313px,#ffff03 318px,#ff0 325.5px,#ffff78 332.5px,#ffffb1 338px,#ffffd6 345.5px,#ffffec 356.8px,#fffff3 356.8px 373.8px,#fff 373.8px 1112.8px,#fffff3 1112.8px 1156.2px,#ffffe6 1156.2px 1175.2px,#ffffe0 1175.2px,#ffffc5 1195.5px,#ffff9c 1210px,#ffff5f 1220.5px,#ffff34 1225px,#ff0 1229px,#ffe916 1235.5px,#ffc639 1241px,#ff946b 1245.5px,#f5a 1249px,#fb4ab5 1249.5px,#7d00ff 1252.5px,#0400ff 1255px,#000084 1257.5px,#000067 1258.5px,#00005d 1259.5px,#000067 1260.5px,#000084 1261.5px,#0000e6 1263.5px,#0400ff 1264px,#7d00ff 1266.5px,#fa49b6 1269.5px,#ff8c73 1273px,#ffc23d 1277.5px,#ffe619 1283px,#ff0 1290px,#ffff34 1294px,#ffff5f 1298.5px,#ffff9c 1309px,#ffffc5 1323.5px,#ffffe0 1343.8px,#ffffe6 1343.8px 1362.8px,#fffff3 1362.8px 1406.2px,#fff 1406.2px 1530px)"></i>
<i style="top:456.71px;height:18.78px;background:linear-gradient(90deg,#fff 0px 194.8px,#fffff3 194.8px 210.8px,#ffffec 210.8px,#ffffd8 220.5px,#ffffb6 227.5px,#ffff87 232.5px,#ff2 239.5px,#ffff10 242.5px,#ffff25 245.5px,#ffff97 254px,#ffffc6 261.5px,#ffffd6 271.5px,#ffffbf 286px,#ffffc7 292.2px,#ffffcd 292.2px 308.8px,#ffffc6 308.8px,#ffffaf 314px,#ffff8a 318.5px,#ffff5b 322px,#ff0 327px,#fff807 331px,#ff0 335px,#ffff73 341.5px,#ffffae 347px,#ffffd6 355px,#ffffec 366.2px,#fffff3 366.2px 383.2px,#fff 383.2px 1111.8px,#fffff3 1111.8px 1155.2px,#ffffe6 1155.2px 1174.2px,#ffffe0 1174.2px,#ffffc5 1194.5px,#ffff9b 1209px,#ffff5d 1219.5px,#fffe01 1228px,#ffe51a 1235px,#ffc43b 1240px,#ff916e 1244.5px,#ff51ae 1248px,#e139c6 1249px,#8b02fd 1251px,#7400ff 1251.5px,#0000fa 1254px,#000092 1256px,#000071 1257px,#000062 1258px,#000067 1259px,#00007e 1260px,#0000a6 1261px,#0000f7 1262.5px,#10f 1263px,#8901fe 1265.5px,#df38c7 1267.5px,#ff50af 1268.5px,#ff906f 1272px,#ffc43b 1276.5px,#ffe51a 1281.5px,#fffe01 1288.5px,#ffff5d 1297px,#ffff9b 1307.5px,#ffffc5 1322px,#ffffdf 1342.2px,#ffffe6 1342.2px 1361.2px,#fffff3 1361.2px 1404.8px,#fff 1404.8px 1530px)"></i>
<i style="top:474.99px;height:18.78px;background:linear-gradient(90deg,#fff 0px 202.8px,#fffff3 202.8px 219.2px,#ffffec 219.2px,#ffffd7 229px,#ffffb5 236px,#ffff85 241px,#ffff19 248.5px,#ffff0b 251px,#ffff20 254px,#ffff94 262.5px,#ffffc5 270px,#ffffd6 280.5px,#ffffbf 295px,#ffffc7 301.2px,#ffffcd 301.2px 317.8px,#ffffc6 317.8px,#ffffaf 323px,#ffff8a 327.5px,#ffff5c 331px,#ff0 336px,#fff708 340.5px,#ff0 344.5px,#ffff73 351px,#ffffae 356.5px,#ffffd6 364.5px,#ffffec 375.8px,#fffff3 375.8px 393.2px,#fff 393.2px 1110.8px,#fffff3 1110.8px 1153.8px,#ffffe6 1153.8px 1173.2px,#ffffdf 1173.2px,#ffffc4 1193.5px,#ffff9a 1208px,#ffff5c 1218.5px,#ffff30 1223px,#ffff01 1226.5px,#ffe718 1233.5px,#ffc33c 1239px,#ff8e71 1243.5px,#ff4cb3 1247px,#8300ff 1250px,#0b00ff 1252.5px,#0000ef 1253px,#00008d 1255px,#000070 1256px,#000065 1257px,#00006e 1258px,#00008a 1259px,#0000ea 1261px,#0600ff 1261.5px,#7e00ff 1264px,#fb4ab5 1267px,#ff8d72 1270.5px,#ffc23d 1275px,#ffe619 1280.5px,#ff0 1287.5px,#ffff34 1291.5px,#ffff5b 1295.5px,#ffff9a 1306px,#ffffc4 1320.5px,#ffffdf 1340.8px,#ffffe6 1340.8px 1360.2px,#fffff3 1360.2px 1403.2px,#fff 1403.2px 1530px)"></i>
<i style="top:493.27px;height:18.78px;background:linear-gradient(90deg,#fff 0px 211.2px,#fffff3 211.2px 227.2px,#ffffec 227.2px,#ffffd7 237.5px,#ffffb5 244.5px,#ffff84 249.5px,#ffff16 257px,#ffff06 259.5px,#ffff1a 262.5px,#ffff6d 268px,#ffff96 271.5px,#ffffc3 278.5px,#ffffd6 289px,#ffffbe 304px,#ffffc7 310.2px,#ffffcd 310.2px 326.8px,#ffffc6 326.8px,#ffffb0 332px,#ffff8c 336.5px,#ffff56 340.5px,#ffff01 345px,#fff609 349.5px,#fffe01 354px,#ffff72 360.5px,#ffffb1 366.5px,#ffffd7 374.5px,#ffffec 385.8px,#fffff3 385.8px 403.2px,#fff 403.2px 1109.8px,#fffff3 1109.8px 1152.8px,#ffffe6 1152.8px 1171.8px,#ffffe0 1171.8px,#ffffc5 1192px,#ffff9c 1206.5px,#ffff5f 1217px,#ffff39 1221px,#ff0 1225.5px,#ffe619 1232.5px,#ffc53a 1237.5px,#ff936c 1242px,#ff53ac 1245.5px,#e53cc3 1246.5px,#7a00ff 1249px,#0300ff 1251.5px,#0000b2 1253px,#000089 1254px,#000070 1255px,#00006a 1256px,#007 1257px,#000096 1258px,#0000fa 1260px,#8a02fd 1263px,#df38c7 1265px,#ff50af 1266px,#ff906f 1269.5px,#ffc43b 1274px,#ffe51a 1279px,#fffe01 1286px,#ffff5d 1294.5px,#ffff9b 1305px,#ffffc5 1319.5px,#ffffe0 1339.8px,#ffffe6 1339.8px 1358.8px,#fffff3 1358.8px 1401.8px,#fff 1401.8px 1530px)"></i>
<i style="top:511.56px;height:18.78px;background:linear-gradient(90deg,#fff 0px 219.2px,#fffff3 219.2px 235.8px,#ffffec 235.8px,#ffffd7 246px,#ffffb5 253px,#ffff7e 258.5px,#ffff14 265.5px,#ffff02 268px,#ffff14 271px,#ffff6f 277px,#ffff93 280px,#ffffc4 287.5px,#ffffd6 298px,#ffffbe 313px,#ffffc6 319.2px,#ffffcd 319.2px 335.8px,#ffffc7 335.8px,#ffffaf 341.5px,#ffff8a 346px,#ffff5b 349.5px,#fffe01 354.5px,#fff50a 359px,#ff0 364px,#ffff6f 370px,#ffffaf 376px,#ffffd6 384px,#ffffec 395.2px,#fffff3 395.2px 413.2px,#fff 413.2px 1108.2px,#fffff3 1108.2px 1151.8px,#ffffe6 1151.8px 1170.8px,#ffffe0 1170.8px,#ffffc5 1191px,#ffff9b 1205.5px,#ffff5d 1216px,#fffe01 1224.5px,#ffe51a 1231.5px,#ffc43b 1236.5px,#ff906f 1241px,#ff4fb0 1244.5px,#de38c7 1245.5px,#8901fe 1247.5px,#7200ff 1248px,#0000fa 1250.5px,#000097 1252.5px,#00007a 1253.5px,#00006e 1254.5px,#000075 1255.5px,#00008f 1256.5px,#0000ec 1258.5px,#0800ff 1259px,#7e00ff 1261.5px,#fb4ab5 1264.5px,#ff8c73 1268px,#ffc23d 1272.5px,#ffe619 1278px,#ff0 1285px,#ffff35 1289px,#ffff5b 1293px,#ffff9a 1303.5px,#ffffc4 1318px,#ffffdf 1338.2px,#ffffe6 1338.2px 1357.2px,#fffff3 1357.2px 1400.8px,#fff 1400.8px 1530px)"></i>
<i style="top:529.84px;height:18.78px;background:linear-gradient(90deg,#fff 0px 227.8px,#fffff3 227.8px 244.2px,#ffffec 244.2px,#ffffd7 254.5px,#ffffb2 262px,#ffff7f 267px,#ffff13 274px,#ff0 276.5px,#ffff0e 279.5px,#ffff69 285.5px,#ffff94 289px,#ffffc4 296.5px,#ffffd7 307.5px,#ffffbf 322px,#ffffc6 328.2px,#ffffcd 328.2px 345.2px,#ffffc6 345.2px,#ffffae 351px,#ffff89 355.5px,#ffff52 359.5px,#ffff04 363.5px,#fff50a 368.5px,#fffe01 373.5px,#ffff03 374px,#ffff72 380px,#ffffad 385.5px,#ffffd5 393.5px,#ffffec 405.2px,#fffff3 405.2px 423.2px,#fff 423.2px 1107.2px,#fffff3 1107.2px 1150.8px,#ffffe6 1150.8px 1169.8px,#ffffe0 1169.8px,#ffffc5 1190px,#ffff9a 1204.5px,#ffff5c 1215px,#ffff30 1219.5px,#ffff01 1223px,#ffe718 1230px,#ffc23d 1235.5px,#ff8e71 1240px,#fd4cb3 1243.5px,#8200ff 1246.5px,#0c00ff 1249px,#0000f2 1249.5px,#000094 1251.5px,#00007a 1252.5px,#000072 1253.5px,#00007d 1254.5px,#00009a 1255.5px,#0000fb 1257.5px,#8901fe 1260.5px,#de37c8 1262.5px,#ff4fb0 1263.5px,#ff906f 1267px,#ffc43b 1271.5px,#ffe51a 1276.5px,#fffe01 1283.5px,#ffff5d 1292px,#ffff9b 1302.5px,#ffffc5 1317px,#ffffe0 1337.2px,#ffffe6 1337.2px 1356.2px,#fffff3 1356.2px 1399.2px,#fff 1399.2px 1530px)"></i>
<i style="top:548.12px;height:18.78px;background:linear-gradient(90deg,#fff 0px 236.2px,#fffff3 236.2px 252.8px,#ffffec 252.8px,#ffffd7 263px,#ffffb3 270.5px,#ffff81 275.5px,#ffff14 282.5px,#ff0 284.5px,#ffff03 287.5px,#ffff90 297.5px,#ffffad 301px,#ffffc4 305.5px,#ffffd7 316.5px,#ffffbf 331.5px,#ffffc7 337.8px,#ffffcd 337.8px 354.8px,#ffffc6 354.8px,#ffffaf 360.5px,#ffff8a 365px,#ffff5b 368.5px,#fffe01 373.5px,#fff40b 378.5px,#fffe01 383.5px,#ffff74 390px,#ffffad 395.5px,#ffffd5 403.5px,#ffffec 415.2px,#fffff3 415.2px 433.2px,#fff 433.2px 1106.2px,#fffff3 1106.2px 1149.8px,#ffffe6 1149.8px 1168.8px,#ffffdf 1168.8px,#ffffc4 1189px,#ffff9a 1203.5px,#ffff5b 1214px,#ffff34 1218px,#ff0 1222px,#ffe619 1229px,#ffc53a 1234px,#ff936c 1238.5px,#ff53ac 1242px,#e53cc3 1243px,#7b00ff 1245.5px,#0600ff 1248px,#000092 1250.5px,#000076 1252px,#00007b 1253px,#000093 1254px,#0000ec 1256px,#0700ff 1256.5px,#7c00ff 1259px,#e63dc2 1261.5px,#f949b6 1262px,#ff54ab 1262.5px,#ff936c 1266px,#ffc639 1270.5px,#ffe817 1276px,#ff0 1282.5px,#ffff34 1286.5px,#ffff5b 1290.5px,#ffff9a 1301px,#ffffc5 1315.5px,#ffffdf 1335.8px,#ffffe6 1335.8px 1354.8px,#fffff3 1354.8px 1397.8px,#fff 1397.8px 1530px)"></i>
<i style="top:566.4px;height:18.78px;background:linear-gradient(90deg,#fff 0px 244.8px,#fffff3 244.8px 261.8px,#ffffec 261.8px,#ffffd7 272px,#ffffb1 279.5px,#ffff7f 284.5px,#ffff18 291px,#ff0 293px,#ffff01 296.5px,#ffff8a 306px,#ffffad 310px,#ffffc4 314.5px,#ffffd7 325.5px,#ffffbf 340.5px,#ffffc6 346.8px,#ffffcd 346.8px 364.8px,#ffffc6 364.8px,#ffffae 370.5px,#ff8 375px,#ffff50 379px,#ffff01 383px,#fff30c 388.5px,#ffff01 394px,#ffff6b 399.5px,#ffffac 405.5px,#ffffd4 413.5px,#ffffec 425.8px,#fffff3 425.8px 443.8px,#fff 443.8px 1105.2px,#fffff3 1105.2px 1148.2px,#ffffe6 1148.2px 1167.8px,#ffffdf 1167.8px,#ffffc5 1187.5px,#ffff9b 1202px,#ffff5e 1212.5px,#fffe01 1221px,#ffe51a 1228px,#ffc43b 1233px,#ff916e 1237.5px,#ff50af 1241px,#e038c7 1242px,#8c03fc 1244px,#7500ff 1244.5px,#0100ff 1247px,#0000a1 1249px,#000085 1250px,#00007a 1251px,#000082 1252px,#00009d 1253px,#0000fa 1255px,#8700ff 1258px,#ff4eb1 1261px,#ff8f70 1264.5px,#ffc33c 1269px,#ffe51a 1274px,#fffe01 1281px,#ffff5d 1289.5px,#ffff9b 1300px,#ffffc5 1314.5px,#ffffe0 1334.8px,#ffffe6 1334.8px 1353.8px,#fffff3 1353.8px 1396.2px,#fff 1396.2px 1530px)"></i>
<i style="top:584.68px;height:18.78px;background:linear-gradient(90deg,#fff 0px 253.8px,#fffff3 253.8px 270.8px,#ffffec 270.8px,#ffffd7 281px,#ffffb1 288.5px,#ffff7f 293.5px,#ffff17 300px,#ff0 302px,#ffff02 306px,#ffff75 313.5px,#ffffa5 318px,#ffffc2 323px,#ffffd3 329.2px,#ffffda 329.2px 341.2px,#ffffd3 341.2px,#ffffbf 351px,#ffffd3 365px,#ffffc3 376px,#ffffab 381px,#ffff84 385.5px,#ffff53 389px,#ffff04 393px,#fff20d 398.5px,#fffe01 404px,#ffff02 404.5px,#ffff41 407.5px,#ffff73 410.5px,#ffffad 416px,#ffffd4 424px,#ffffec 436.2px,#fffff3 436.2px 454.8px,#fff 454.8px 1104.2px,#fffff3 1104.2px 1147.2px,#ffffe6 1147.2px 1166.2px,#ffffe0 1166.2px,#ffffc5 1186.5px,#ffff9b 1201px,#ffff5d 1211.5px,#fffe01 1220px,#ffe41b 1227px,#ffc33c 1232px,#ff8e71 1236.5px,#ff4db2 1240px,#8500ff 1243px,#0000f9 1246px,#00009e 1248px,#000085 1249px,#00007e 1250px,#000097 1251.5px,#0000ec 1253.5px,#0700ff 1254px,#7a00ff 1256.5px,#e43bc4 1259px,#ff52ad 1260px,#ff926d 1263.5px,#ffc53a 1268px,#ffe619 1273px,#ff0 1280px,#ffff34 1284px,#ffff5b 1288px,#ffff9a 1298.5px,#ffffc5 1313px,#ffffe0 1333.2px,#ffffe6 1333.2px 1352.2px,#fffff3 1352.2px 1395.2px,#fff 1395.2px 1530px)"></i>
<i style="top:602.97px;height:18.78px;background:linear-gradient(90deg,#fff 0px 262.8px,#fffff3 262.8px 279.8px,#ffffec 279.8px,#ffffd5 290.5px,#ffffaf 298px,#ffff7a 303px,#ff1 309.5px,#ff0 311px,#ffff04 315.5px,#ffff72 322.5px,#ffffa6 327.5px,#ffffc3 332.5px,#ffffd3 338.2px,#ffffda 338.2px 351.2px,#ffffd3 351.2px,#ffffbf 361px,#ffffd4 375px,#ffffc5 386px,#ffffad 391px,#ff8 395.5px,#ffff50 399.5px,#ff0 403.5px,#fff10e 409.5px,#ff0 415px,#ffff6a 420.5px,#ffffac 426.5px,#ffffd4 434.5px,#ffffec 446.8px,#fffff3 446.8px 465.2px,#fff 465.2px 1103.2px,#fffff3 1103.2px 1146.2px,#ffffe6 1146.2px 1165.2px,#ffffe0 1165.2px,#ffffc5 1185.5px,#ffff9a 1200px,#ffff5c 1210.5px,#ffff35 1214.5px,#ff0 1218.5px,#ffe916 1225px,#ffc639 1230.5px,#ff936c 1235px,#ff54ab 1238.5px,#fa49b6 1239px,#7f00ff 1242px,#0c00ff 1244.5px,#0000f3 1245px,#00009d 1247px,#000083 1248.5px,#000089 1249.5px,#0000a1 1250.5px,#0000fa 1252.5px,#8400ff 1255.5px,#ff4cb3 1258.5px,#ff8e71 1262px,#ffc33c 1266.5px,#ffe41b 1271.5px,#fffe01 1278.5px,#ffff61 1287.5px,#ffff9b 1297.5px,#ffffc5 1312px,#ffffdf 1331.8px,#ffffe6 1331.8px 1350.8px,#fffff3 1350.8px 1393.8px,#fff 1393.8px 1530px)"></i>
<i style="top:621.25px;height:18.78px;background:linear-gradient(90deg,#fff 0px 271.8px,#fffff3 271.8px 288.8px,#ffffec 288.8px,#ffffd6 299.5px,#ffffb0 307px,#ffff7c 312px,#ff0 320px 324.5px,#ffff74 332px,#ffffa8 337px,#ffffc4 342px,#ffffd3 347.8px,#ffffda 347.8px 361.2px,#ffffd3 361.2px,#ffffc0 370.5px,#ffffd5 385px,#ffffc6 396px,#ffffac 401.5px,#ffff86 406px,#ffff56 409.5px,#fffe01 414px,#fff10e 419.5px,#ff0 425.5px,#ffff71 431.5px,#ffffaf 437.5px,#ffffd5 445.5px,#ffffec 457.8px,#fffff3 457.8px 476.2px,#fff 476.2px 1102.2px,#fffff3 1102.2px 1145.2px,#ffffe6 1145.2px 1164.2px,#ffffe0 1164.2px,#ffffc5 1184.5px,#ffff9a 1199px,#ffff5b 1209.5px,#ff0 1217.5px,#ffe51a 1224.5px,#ffc53a 1229.5px,#ff916e 1234px,#ff51ae 1237.5px,#e23ac5 1238.5px,#8f05fa 1240.5px,#7800ff 1241px,#0700ff 1243.5px,#00009c 1246px,#000087 1247.5px,#00009c 1249px,#0000be 1250px,#0000ed 1251px,#0600ff 1251.5px,#8f05fa 1254.5px,#e23ac5 1256.5px,#ff51ae 1257.5px,#ff916e 1261px,#ffc43b 1265.5px,#ffe51a 1270.5px,#ff0 1277.5px,#ffff5b 1285.5px,#ffff9a 1296px,#ffffc5 1310.5px,#ffffe0 1330.8px,#ffffe6 1330.8px 1349.8px,#fffff3 1349.8px 1392.2px,#fff 1392.2px 1530px)"></i>
<i style="top:639.53px;height:18.78px;background:linear-gradient(90deg,#fff 0px 280.8px,#fffff3 280.8px 297.8px,#ffffec 297.8px,#ffffd6 308.5px,#ffffb0 316px,#ffff7d 321px,#ff0 329px,#ffff02 334px,#ffff71 341px,#ffffa6 346px,#ffffc3 351px,#ffffd3 356.8px,#ffffda 356.8px 371.2px,#ffffd3 371.2px,#ffffc0 380.5px,#ffffd5 395px,#ffffc5 406.5px,#ffa 412px,#ffff83 416.5px,#ffff51 420px,#ff0 424px,#fff00f 430px,#ff0 436px,#ffff6a 441.5px,#ffffab 447.5px,#ffffd5 456px,#ffffec 468.2px,#fffff3 468.2px 486.8px,#fff 486.8px 1101.2px,#fffff3 1101.2px 1144.2px,#ffffe6 1144.2px 1163.2px,#ffffe0 1163.2px,#ffffc5 1183px,#ffff9c 1197.5px,#ffff5e 1208px,#fffe01 1216.5px,#ffe51a 1223.5px,#ffc33c 1228.5px,#ff8f70 1233px,#ff4eb1 1236.5px,#8901fe 1239.5px,#7200ff 1240px,#0200ff 1242.5px,#00a 1244.5px,#000092 1245.5px,#00008c 1246.5px,#0000a5 1248px,#0000fa 1250px,#8200ff 1253px,#fc4bb4 1256px,#ff8d72 1259.5px,#ffc23d 1264px,#ffe718 1269.5px,#ffff01 1276.5px,#ffff30 1280px,#ffff5d 1284.5px,#ffff9b 1295px,#ffffc5 1309.5px,#ffffdf 1329.2px,#ffffe6 1329.2px 1348.2px,#fffff3 1348.2px 1391.2px,#fff 1391.2px 1530px)"></i>
<i style="top:657.81px;height:18.78px;background:linear-gradient(90deg,#fff 0px 289.2px,#fffff3 289.2px 306.8px,#ffffec 306.8px,#ffffd6 317.5px,#ffffaf 325px,#ffff7c 330px,#ff1 336.5px,#fffe01 338px,#ffff01 343px,#ffff6a 349.5px,#ffff9a 353.5px,#ffffbf 359px,#ffffd3 365.8px,#ffffda 365.8px 381.2px,#ffffd2 381.2px,#ffffc0 390px,#ffffd6 404.5px,#ffffc6 416px,#ffffad 421.5px,#ffff87 426px,#ffff58 429.5px,#ff0 434px,#ffef10 440px,#fffe01 446px,#ffff6f 452px,#ffffae 458px,#ffffd4 466px,#ffffec 478.2px,#fffff3 478.2px 497.2px,#fff 497.2px 1100.2px,#fffff3 1100.2px 1143.2px,#ffffe6 1143.2px 1162.2px,#ffffdf 1162.2px,#ffffc5 1182px,#ffff9b 1196.5px,#ffff61 1206.5px,#fffe01 1215.5px,#ffe41b 1222.5px,#ffc23d 1227.5px,#ff8d72 1232px,#fd4bb4 1235.5px,#8300ff 1238.5px,#0000fc 1241.5px,#0000a9 1243.5px,#000091 1245px,#0000a1 1246.5px,#0000c1 1247.5px,#0000ed 1248.5px,#0600ff 1249px,#8c03fc 1252px,#df38c7 1254px,#ff4fb0 1255px,#ff906f 1258.5px,#ffc43b 1263px,#ffe51a 1268px,#fffe01 1275px,#ffff38 1279.5px,#ffff5e 1283.5px,#ffff9c 1294px,#ffffc6 1308.5px,#ffffe0 1328.2px,#ffffe6 1328.2px 1347.2px,#fffff3 1347.2px 1389.8px,#fff 1389.8px 1530px)"></i>
<i style="top:676.09px;height:18.78px;background:linear-gradient(90deg,#fff 0px 298.2px,#fffff3 298.2px 315.2px,#ffffec 315.2px,#ffffd6 326px,#ffffb1 333.5px,#ffff78 339px,#ff0 346.5px,#ffff01 352px,#ffff6c 358.5px,#ffff9b 362.5px,#ffffbf 368px,#ffffd3 374.2px,#ffffda 374.2px 390.2px,#ffffd3 390.2px,#ffffc0 399px,#ffffd6 414px,#ffffc7 425.5px,#ffffae 431px,#ffff89 435.5px,#ffff53 439.5px,#ffff01 443.5px,#ffef10 450px,#fffe01 456px,#ffff70 462px,#ffffae 468px,#ffffd5 476px,#ffffec 488.2px,#fffff3 488.2px 507.2px,#fff 507.2px 1099.2px,#fffff3 1099.2px 1142.2px,#ffffe6 1142.2px 1161.2px,#ffffdf 1161.2px,#ffffc5 1181px,#ffff9b 1195.5px,#ffff5c 1206px,#ffff35 1210px,#ff0 1214px,#ffe817 1220.5px,#ffc53a 1226px,#ff936c 1230.5px,#ff53ac 1234px,#e63cc3 1235px,#7e00ff 1237.5px,#0f00ff 1240px,#0000f8 1240.5px,#0000ca 1241.5px,#0000a9 1242.5px,#000095 1244px,#00a 1245.5px,#00c 1246.5px,#0000f9 1247.5px,#7f00ff 1250.5px,#f949b6 1253.5px,#ff54ab 1254px,#ff936c 1257.5px,#ffc639 1262px,#ffe916 1267.5px,#ff0 1274px,#ffff35 1278px,#ffff5c 1282px,#ffff9b 1292.5px,#ffffc5 1307px,#ffffdf 1326.8px,#ffffe6 1326.8px 1345.8px,#fffff3 1345.8px 1388.2px,#fff 1388.2px 1530px)"></i>
<i style="top:694.38px;height:18.78px;background:linear-gradient(90deg,#fff 0px 306.8px,#fffff3 306.8px 323.8px,#ffffec 323.8px,#ffffd5 335px,#ffffaf 342.5px,#ffff75 348px,#ffff01 355px 361px,#ff6 367px,#ffff97 371px,#ffffbd 376.5px,#ffffd3 383.2px,#ffffda 383.2px 399.8px,#ffffd3 399.8px,#ffffc1 408.5px,#ffffd7 423.5px,#ffffc6 435.5px,#ffffad 441px,#ffff87 445.5px,#ffff57 449px,#fffe01 453.5px,#fe1 460px,#fffe01 466px,#ffff70 472px,#ffffae 478px,#ffffd6 486.5px,#ffffec 498.8px,#fffff3 498.8px 517.8px,#fff 517.8px 1098.2px,#fffff3 1098.2px 1141.2px,#ffffe6 1141.2px 1160.2px,#ffffdf 1160.2px,#ffffc5 1180px,#ffff9a 1194.5px,#ffff5b 1205px,#ffff34 1209px,#ff0 1213px,#ffe51a 1220px,#ffc43b 1225px,#ff916e 1229.5px,#ff51ae 1233px,#e23ac5 1234px,#8f05fa 1236px,#7900ff 1236.5px,#0b00ff 1239px,#0000f4 1239.5px,#0000b8 1241px,#00009b 1242.5px,#0000a7 1244px,#0000c3 1245px,#0000ed 1246px,#0500ff 1246.5px,#8801fe 1249.5px,#ff4db2 1252.5px,#ff8e71 1256px,#ffc33c 1260.5px,#ffe51a 1265.5px,#fffe01 1272.5px,#ffff5e 1281px,#ffff9c 1291.5px,#ffffc6 1306px,#ffffe0 1325.8px,#ffffe6 1325.8px 1344.2px,#fffff3 1344.2px 1387.2px,#fff 1387.2px 1530px)"></i>
<i style="top:712.66px;height:18.78px;background:linear-gradient(90deg,#fff 0px 315.8px,#fffff3 315.8px 332.8px,#ffffec 332.8px,#ffffd6 344px,#ffffb0 351.5px,#ffff76 357px,#ff0 364px 370px,#ffff6a 376.5px,#ffff9a 380.5px,#ffffbf 386px,#ffffd3 392.2px,#ffffda 392.2px 409.8px,#ffffd3 409.8px,#ffffc1 418px,#ffffd7 433.5px,#ffffc6 445.5px,#ffffad 451px,#ffff87 455.5px,#ffff58 459px,#fffe01 463.5px,#ffed12 470px,#ffff01 476.5px,#ffff42 479.5px,#ffff6c 482px,#ffffac 488px,#ffffd5 496.5px,#ffffec 508.8px,#fffff3 508.8px 528.2px,#fff 528.2px 1097.2px,#fffff3 1097.2px 1140.2px,#ffffe6 1140.2px 1159.2px,#ffffdf 1159.2px,#ffffc5 1179px,#ffff9a 1193.5px,#ffff5f 1203.5px,#ffff38 1207.5px,#fffe01 1212px,#ffe51a 1219px,#ffc33c 1224px,#ff8f70 1228.5px,#ff4fb0 1232px,#8b02fd 1235px,#7500ff 1235.5px,#0900ff 1238px,#0000f2 1238.5px,#0000b8 1240px,#0000a0 1241.5px,#0000af 1243px,#0000cd 1244px,#0000f8 1245px,#0e00ff 1245.5px,#7b00ff 1248px,#e33ac5 1250.5px,#ff51ae 1251.5px,#ff916e 1255px,#ffc53a 1259.5px,#ffe817 1265px,#ff0 1271.5px,#ffff34 1275.5px,#ffff5c 1279.5px,#ffff9b 1290px,#ffffc5 1304.5px,#ffffdf 1324.2px,#ffffe6 1324.2px 1343.2px,#fffff3 1343.2px 1385.8px,#fff 1385.8px 1530px)"></i>
<i style="top:730.94px;height:18.78px;background:linear-gradient(90deg,#fff 0px 325.2px,#fffff3 325.2px 342.2px,#ffffec 342.2px,#ffffd5 353.5px,#ffffaf 361px,#ffff76 366.5px,#ff0 373.5px,#ffff02 380px,#ffff68 386px,#ffff98 390px,#ffffbe 395.5px,#ffffd2 401.8px,#ffffda 401.8px 420.2px,#ffffd2 420.2px,#ffffc1 428.5px,#ffffd8 443.5px,#ffffc7 456px,#ffffae 461.5px,#ff8 466px,#ffff51 470px,#ff0 474px,#ffed12 480.5px,#fffe01 487px,#ffff04 487.5px,#ff4 490.5px,#ffff6e 493px,#ffffad 499px,#ffffd5 507.5px,#ffffec 519.8px,#fffff3 519.8px 539.2px,#fff 539.2px 1096.2px,#fffff3 1096.2px 1139.2px,#ffffe6 1139.2px 1158.2px,#ffffdf 1158.2px,#ffffc5 1178px,#ffff9c 1192px,#ffff5e 1202.5px,#fffe01 1211px,#ffe51a 1218px,#ffc33c 1223px,#ff8e71 1227.5px,#ff4db2 1231px,#80f 1234px,#7200ff 1234.5px,#0700ff 1237px,#0000ba 1239px,#0000a5 1240.5px,#0000b7 1242px,#0000eb 1243.5px,#0300ff 1244px,#8300ff 1247px,#fc4ab5 1250px,#ff8c73 1253.5px,#ffc23d 1258px,#ffe41b 1263px,#fffe01 1270px,#ffff61 1279px,#ffff9c 1289px,#ffffc6 1303.5px,#ffffe0 1323.2px,#ffffe6 1323.2px 1341.8px,#fffff3 1341.8px 1384.2px,#fff 1384.2px 1530px)"></i>
<i style="top:749.22px;height:18.78px;background:linear-gradient(90deg,#fff 0px 334.8px,#fffff3 334.8px 352.2px,#ffffec 352.2px,#ffffd6 363.5px,#ffffb0 371px,#ff7 376.5px,#ff0 383.5px,#fffe01 390px,#ffff6b 396.5px,#ffff9a 400.5px,#ffffbf 406px,#ffffd3 412.2px,#ffffda 412.2px 430.8px,#ffffd3 430.8px,#ffffc1 439.5px,#ffffd3 449.2px,#ffffda 449.2px 461.8px,#ffffd3 461.8px,#ffffbe 469.5px,#ffff9a 475.5px,#ff6 480px,#fffe01 485.5px,#ffec13 492px,#fffe01 498.5px,#ffff03 499px,#ff4 502px,#ffff6e 504.5px,#ffffac 510.5px,#ffffd5 519px,#ffffec 531.8px,#fffff3 531.8px 551.2px,#fff 551.2px 1095.2px,#fffff3 1095.2px 1138.2px,#ffffe6 1138.2px 1157.2px,#ffffdf 1157.2px,#ffffc5 1177px,#ffff9c 1191px,#ffff5e 1201.5px,#fffe01 1210px,#ffe41b 1217px,#ffc23d 1222px,#ff8d72 1226.5px,#fd4bb4 1230px,#8500ff 1233px,#0600ff 1236px,#0000bc 1238px,#00a 1239.5px,#0000bf 1241px,#0000f6 1242.5px,#1f00ff 1243.5px,#8b02fd 1246px,#ff4eb1 1249px,#ff8f70 1252.5px,#ffc33c 1257px,#ffe51a 1262px,#fffe01 1269px,#ffff39 1273.5px,#ffff5f 1277.5px,#ffff9a 1287.5px,#ffffc5 1302px,#ffffe0 1321.8px,#ffffe6 1321.8px 1340.8px,#fffff3 1340.8px 1383.2px,#fff 1383.2px 1530px)"></i>
<i style="top:767.5px;height:18.78px;background:linear-gradient(90deg,#fff 0px 345.2px,#fffff3 345.2px 362.8px,#ffffec 362.8px,#ffffd6 374px,#ffffb0 381.5px,#ff7 387px,#ff0 394px 401px,#ffff60 406.5px,#ffff98 411px,#ffffbe 416.5px,#ffffd3 422.8px,#ffffda 422.8px 442.2px,#ffffd3 442.2px,#ffffc1 451px,#ffffd3 460.2px,#ffffda 460.2px 473.8px,#ffffd3 473.8px,#ffffbe 481.5px,#ffff98 487.5px,#ffff5b 492.5px,#ff0 497px,#ffeb14 504px,#ffff01 511px,#ffff43 514px,#ffff6d 516.5px,#ffffac 522.5px,#ffffd4 531px,#ffffec 543.8px,#fffff3 543.8px 563.2px,#fff 563.2px 1094.2px,#fffff3 1094.2px 1137.2px,#ffffe6 1137.2px 1156.2px,#ffffdf 1156.2px,#ffffc5 1176px,#ffff9c 1190px,#ffff62 1200px,#fffe01 1209px,#ffe619 1215.5px,#ffc639 1220.5px,#ff946b 1225px,#f5a 1228.5px,#fb4ab5 1229px,#8400ff 1232px,#0600ff 1235px,#0000bf 1237px,#0000b0 1238.5px,#0000c7 1240px,#00f 1241.5px,#7d00ff 1244.5px,#e33ac5 1247px,#ff51ae 1248px,#ff916e 1251.5px,#ffc53a 1256px,#ffe817 1261.5px,#ff0 1268px,#ffff35 1272px,#ffff5c 1276px,#ffff9b 1286.5px,#ffffc5 1301px,#ffffe0 1320.8px,#ffffe6 1320.8px 1339.2px,#fffff3 1339.2px 1381.8px,#fff 1381.8px 1530px)"></i>
<i style="top:785.78px;height:18.78px;background:linear-gradient(90deg,#fff 0px 355.8px,#fffff3 355.8px 373.8px,#ffffec 373.8px,#ffffd5 385px,#ffffaf 392.5px,#ffff75 398px,#fffe01 405px,#ff0 412px,#ffff67 418px,#ffff98 422px,#ffffbe 427.5px,#ffffd3 433.8px,#ffffda 433.8px 454.2px,#ffffd2 454.2px,#ffffc2 462.5px,#ffffd3 471.8px,#ffffda 471.8px 486.2px,#ffffd3 486.2px,#ffffbc 494px,#ffff95 500px,#ffff5f 504.5px,#fffe01 509.5px,#ffea15 516.5px,#ffff02 523.5px,#ffff43 526.5px,#ffff6d 529px,#ffffac 535px,#ffffd4 543.5px,#ffffec 556.2px,#fffff3 556.2px 576.2px,#fff 576.2px 1093.2px,#fffff3 1093.2px 1136.2px,#ffffe6 1136.2px 1155.2px,#ffffdf 1155.2px,#ffffc5 1175px,#ffff9a 1189.5px,#ffff59 1200px,#ffff30 1204px,#ffff01 1207.5px,#ffe916 1214px,#ffc53a 1219.5px,#ff926d 1224px,#ff54ab 1227.5px,#f948b7 1228px,#8100ff 1231px,#0600ff 1234px,#0000cf 1235.5px,#0000b6 1237px,#0000c4 1238.5px,#0000f4 1240px,#1c00ff 1241px,#8500ff 1243.5px,#fc4ab5 1246.5px,#ff8c73 1250px,#ffc23d 1254.5px,#ffe41b 1259.5px,#fffe01 1266.5px,#ffff5e 1275px,#ffff9c 1285.5px,#ffffc5 1299.5px,#ffffe0 1319.2px,#ffffe6 1319.2px 1337.8px,#fffff3 1337.8px 1380.2px,#fff 1380.2px 1530px)"></i>
<i style="top:804.07px;height:18.78px;background:linear-gradient(90deg,#fff 0px 366.8px,#fffff3 366.8px 384.8px,#ffffec 384.8px,#ffffd5 396px,#ffffb0 403.5px,#ff7 409px,#fffe01 416px,#ff0 423.5px,#ffff63 429px,#ffff95 433px,#ffffbc 438.5px,#ffffd3 445.2px,#ffffda 445.2px 466.2px,#ffffd3 466.2px,#ffffc2 474.5px,#ffffd3 483.2px,#ffffda 483.2px 498.8px,#ffffd3 498.8px,#ffffbd 506.5px,#ffff96 512.5px,#ffff5f 517px,#fffe01 522px,#ffea15 529px,#fffe01 536px,#ffff70 542px,#ffffad 548px,#ffffd5 556.5px,#ffffec 569.2px,#fffff3 569.2px 589.2px,#fff 589.2px 1092.8px,#fffff3 1092.8px 1135.2px,#ffffe6 1135.2px 1154.2px,#ffffdf 1154.2px,#ffffc5 1174px,#ffff9c 1188px,#ffff5d 1198.5px,#ffff36 1202.5px,#ff0 1206.5px,#ffe817 1213px,#ffc53a 1218.5px,#ff916e 1223px,#ff52ad 1226.5px,#e33bc4 1227.5px,#7e00ff 1230px,#0500ff 1233px,#0000d1 1234.5px,#0000bd 1236px,#0000ce 1237.5px,#0100ff 1239px,#8e04fb 1242.5px,#ff4fb0 1245.5px,#ff8f70 1249px,#ffc43b 1253.5px,#ffe51a 1258.5px,#ff0 1265.5px,#ffff34 1269.5px,#ffff5c 1273.5px,#ffff9b 1284px,#ffffc5 1298px,#ffffdf 1317.8px,#ffffe6 1317.8px 1336.8px,#fffff3 1336.8px 1378.8px,#fff 1378.8px 1530px)"></i>
<i style="top:822.35px;height:18.78px;background:linear-gradient(90deg,#fff 0px 377.8px,#fffff3 377.8px 395.8px,#ffffec 395.8px,#ffffd6 407px,#ffffad 415px,#ffff72 420.5px,#ff0 427px,#fff807 431px,#ffff01 435px,#ffff5d 440px,#ffff96 444.5px,#ffffbd 450px,#ffffd2 456.2px,#ffffda 456.2px 478.2px,#ffffd3 478.2px,#ffffc2 486.5px,#ffffd3 495.2px,#ffffda 495.2px 511.8px,#ffffd2 511.8px,#ffb 519.5px,#ffff93 525.5px,#ffff5b 530px,#ff0 534.5px,#ffe916 542px,#fffe01 549px,#ffff48 552.5px,#ffff71 555px,#ffffad 561px,#ffffd5 569.5px,#ffffec 582.2px,#fffff3 582.2px 602.2px,#fff 602.2px 1091.8px,#fffff3 1091.8px 1134.2px,#ffffe6 1134.2px 1153.2px,#ffffdf 1153.2px,#ffffc5 1173px,#ffff9b 1187px,#ffff5c 1197.5px,#ffff35 1201.5px,#ff0 1205.5px,#ffe817 1212px,#ffc43b 1217.5px,#ff906f 1222px,#ff50af 1225.5px,#e039c6 1226.5px,#7b00ff 1229px,#0500ff 1232px,#0000d4 1233.5px,#0000c3 1235px,#0000cd 1236px,#0000f8 1237.5px,#1c00ff 1238.5px,#8300ff 1241px,#f949b6 1244px,#ff54ab 1244.5px,#ff936c 1248px,#ffc53a 1252.5px,#ffe619 1257.5px,#fffe01 1264px,#ffff62 1273px,#ffff9c 1283px,#ffffc5 1297px,#ffffe0 1316.8px,#ffffe6 1316.8px 1335.2px,#fffff3 1335.2px 1377.2px,#fff 1377.2px 1530px)"></i>
<i style="top:840.63px;height:18.78px;background:linear-gradient(90deg,#fff 0px 388.8px,#fffff3 388.8px 406.8px,#ffffec 406.8px,#ffffd6 418px,#ffffae 426px,#ffff73 431.5px,#ff0 438px,#fff807 442px,#ffff04 446.5px,#ffff58 451px,#ffff8e 455px,#ffffb3 459.5px,#ffffce 465.5px,#ffffe0 479px,#ffffdb 487px,#ffffc3 498px,#ffffd3 507.2px,#ffffda 507.2px 524.8px,#ffffd2 524.8px,#ffffbd 532px,#ffff96 538px,#ffff61 542.5px,#fffe01 547.5px,#ffe817 555px,#fffe01 562px,#ffff6f 568px,#ffffac 574px,#ffffd6 583px,#ffffec 595.8px,#fffff3 595.8px 615.8px,#fff 615.8px 1090.8px,#fffff3 1090.8px 1133.8px,#ffffe6 1133.8px 1152.2px,#ffffe0 1152.2px,#ffffc5 1172px,#ffff9b 1186px,#ffff5c 1196.5px,#ffff34 1200.5px,#ff0 1204.5px,#ffe51a 1211.5px,#ffc33c 1216.5px,#ff8f70 1221px,#ff4eb1 1224.5px,#8e04fb 1227.5px,#7900ff 1228px,#0500ff 1231px,#0000d7 1232.5px,#0000cb 1233.5px,#0000ce 1234.5px,#0000f2 1236px,#0400ff 1236.5px,#1400ff 1237px,#8c03fc 1240px,#ff4db2 1243px,#ff8e71 1246.5px,#ffc33c 1251px,#ffe51a 1256px,#ff0 1263px,#ffff5c 1271px,#ffff9b 1281.5px,#ffffc5 1295.5px,#ffffe0 1315.2px,#ffffe6 1315.2px 1333.8px,#fffff3 1333.8px 1375.8px,#fff 1375.8px 1530px)"></i>
<i style="top:858.91px;height:18.78px;background:linear-gradient(90deg,#fff 0px 399.8px,#fffff3 399.8px 417.8px,#ffffec 417.8px,#ffffd6 429px,#ffffaf 437px,#ffff6e 443px,#ffff01 449px,#fff708 453.5px,#fffe01 457.5px,#ffff61 463px,#ffff8f 466.5px,#ffffb4 471px,#ffffce 477px,#ffffe1 491px,#ffffdc 499px,#ffffc3 510.5px,#ffffd3 519.2px,#ffffda 519.2px 537.8px,#ffffd3 537.8px,#ffb 545.5px,#ffff93 551.5px,#ffff5b 556px,#ff0 560.5px,#ffe718 568px,#fffe01 575.5px,#ffff70 581.5px,#ffffad 587.5px,#ffffd6 596.5px,#ffffec 609.2px,#fffff3 609.2px 629.8px,#fff 629.8px 1090.2px,#fffff3 1090.2px 1132.8px,#ffffe6 1132.8px 1151.2px,#ffffe0 1151.2px,#ffffc5 1171px,#ffff9b 1185px,#ffff5c 1195.5px,#ffff34 1199.5px,#ff0 1203.5px,#ffe51a 1210.5px,#ffc33c 1215.5px,#ff956a 1219.5px,#ff4db2 1223.5px,#8d03fc 1226.5px,#7800ff 1227px,#0700ff 1230px,#0000dc 1231.5px,#0000d1 1232.5px,#0000d7 1233.5px,#0000fc 1235px,#2f00ff 1236.5px,#7f00ff 1238.5px,#e33ac5 1241px,#ff51ae 1242px,#ff916e 1245.5px,#ffc43b 1250px,#ffe817 1255.5px,#ff0 1262px,#ffff30 1265.5px,#ffff59 1269.5px,#ffff9a 1280px,#ffffc4 1294px,#ffffdf 1313.8px,#ffffe6 1313.8px 1332.2px,#fffff3 1332.2px 1374.2px,#fff 1374.2px 1530px)"></i>
<i style="top:877.2px;height:18.78px;background:linear-gradient(90deg,#fff 0px 411.2px,#fffff3 411.2px 429.2px,#ffffec 429.2px,#ffffd6 440.5px,#ffffb0 448.5px,#ff7 454px,#ffff02 460.5px,#fffe01 461px,#fff708 465px,#ff0 469.5px,#ffff5c 474.5px,#ffff91 478.5px,#ffffb5 483px,#ffffcf 489px,#ffffe2 503.5px,#ffffdc 512px,#ffffc4 523px,#ffffd3 531.8px,#ffffda 531.8px 551.8px,#ffffd2 551.8px,#ffffbc 559px,#ffff94 565px,#ffff5d 569.5px,#ffff02 574px,#ffe619 582px,#ff0 589.5px,#ffff42 592.5px,#ffff6c 595px,#ffff90 598px,#ffffae 601.5px,#ffffd6 610.5px,#ffffec 623.2px,#fffff3 623.2px 643.8px,#fff 643.8px 1089.2px,#fffff3 1089.2px 1131.8px,#ffffe6 1131.8px 1150.2px,#ffffe0 1150.2px,#ffffc5 1170px,#ffff9c 1184px,#ffff5c 1194.5px,#ffff35 1198.5px,#ff0 1202.5px,#ffe51a 1209.5px,#ffc33c 1214.5px,#ff956a 1218.5px,#ff4db2 1222.5px,#8e04fb 1225.5px,#7900ff 1226px,#2a00ff 1228px,#0000fa 1229.5px,#0000e2 1230.5px,#0000d8 1231.5px,#0000de 1232.5px,#0000f4 1233.5px,#0400ff 1234px,#2300ff 1235px,#8500ff 1237.5px,#fa49b6 1240.5px,#ff54ab 1241px,#ff936c 1244.5px,#ffc639 1249px,#ffe619 1254px,#fffe01 1260.5px,#ffff5f 1269px,#ffff9b 1279px,#ffffc5 1293px,#ffffe0 1312.8px,#ffffe6 1312.8px 1331.2px,#fffff3 1331.2px 1373.2px,#fff 1373.2px 1530px)"></i>
<i style="top:895.48px;height:10.52px;background:linear-gradient(90deg,#fff 0px 423.2px,#fffff3 423.2px 441.2px,#ffffec 441.2px,#ffffd6 453px,#ffffae 461px,#ffff6e 467px,#ff0 473px,#fff609 477.5px,#fffe01 482px,#ffff62 487.5px,#ffff90 491px,#ffffb7 496px,#ffffd0 502px,#ffffe2 516.5px,#ffd 525px,#ffffc4 536.5px,#ffffd3 544.8px,#ffffda 544.8px 565.8px,#ffffd3 565.8px,#ffffbc 573px,#ffff95 579px,#ffff5f 583.5px,#fffe01 588.5px,#ffe619 596px,#fffd02 603.5px,#ffff02 604px,#ff4 607px,#ffff74 610px,#ffffae 616px,#ffffd6 625px,#ffffec 637.8px,#fffff3 637.8px 658.2px,#fff 658.2px 1088.2px,#fffff3 1088.2px 1131.2px,#ffffe6 1131.2px 1149.8px,#ffffdf 1149.8px,#ffffc4 1169.5px,#ffff9a 1183.5px,#ffff5d 1193.5px,#ffff36 1197.5px,#ff0 1201.5px,#ffe817 1208px,#ffc43b 1213.5px,#ff9669 1217.5px,#ff4fb0 1221.5px,#7d00ff 1225px,#2f00ff 1227px,#0100ff 1228.5px,#0000e8 1229.5px,#0000df 1230.5px,#0000e5 1231.5px,#0000fb 1232.5px,#2800ff 1234px,#8901fe 1236.5px,#fc4ab5 1239.5px,#ff936c 1243.5px,#ffc23d 1247.5px,#ffe41b 1252.5px,#fffe01 1259.5px,#ffff39 1264px,#ffff60 1268px,#ffff9b 1278px,#ffffc5 1292px,#ffffdf 1311.2px,#ffffe6 1311.2px 1329.8px,#fffff3 1329.8px 1371.8px,#fff 1371.8px 1530px)"></i>
<i style="top:905.5px;height:4.51px;background:linear-gradient(90deg,#fff 0px 1090.2px,#fffff3 1090.2px 1131.2px,#ffffe6 1131.2px 1149.8px,#ffffe0 1149.8px,#ffffc5 1169px,#ffff9c 1183px,#ffff5c 1193.5px,#ffff34 1197.5px,#ff0 1201.5px,#ffe51a 1208.5px,#ffc23d 1213.5px,#ff946b 1217.5px,#fe4cb3 1221.5px,#8c03fc 1224.5px,#70f 1225px,#2b00ff 1227px,#0000fd 1228.5px,#0000e7 1229.5px,#0000e0 1230.5px,#0000e9 1231.5px,#0100ff 1232.5px,#2e00ff 1234px,#9005fa 1236.5px,#ff4eb1 1239.5px,#ff9669 1243.5px,#ffc33c 1247.5px,#ffe817 1253px,#ff0 1259.5px,#ffff35 1263.5px,#ffff5d 1267.5px,#ffff9a 1277.5px,#ffffc5 1291.5px,#ffffe0 1311.2px,#ffffe6 1311.2px 1329.2px,#fffff3 1329.2px 1370.8px,#fff 1370.8px 1530px)"></i>
<i style="top:909.51px;height:4.51px;background:linear-gradient(90deg,#fff 0px 1089.8px,#fffff3 1089.8px 1131.2px,#ffffe6 1131.2px 1149.8px,#ffffdf 1149.8px,#ffffc5 1169px,#ffff9b 1183px,#ffff5f 1193px,#fffe01 1201.5px,#ffe619 1208px,#ffc53a 1213px,#f96 1217px,#ff53ac 1221px,#f848b7 1221.5px,#8400ff 1224.5px,#3600ff 1226.5px,#0700ff 1228px,#0000e2 1230px,#0000e6 1231px,#0000f9 1232px,#2500ff 1233.5px,#8400ff 1236px,#f848b7 1239px,#ff53ac 1239.5px,#f96 1243.5px,#ffc53a 1247.5px,#ffe619 1252.5px,#fffe01 1259px,#ffff5f 1267.5px,#ffff9b 1277.5px,#ffffc5 1291.5px,#ffffdf 1310.8px,#ffffe6 1310.8px 1329.2px,#fffff3 1329.2px 1370.8px,#fff 1370.8px 1530px)"></i>
<i style="top:913.52px;height:4.51px;background:linear-gradient(90deg,#fff 0px 1089.8px,#fffff3 1089.8px 1131.2px,#ffffe6 1131.2px 1149.2px,#ffffe0 1149.2px,#ffffc5 1169px,#ffff9a 1183px,#ffff5d 1193px,#ffff36 1197px,#ff0 1201px,#ffe817 1207.5px,#ffc33c 1213px,#ff9669 1217px,#ff4fb0 1221px,#7d00ff 1224.5px,#3000ff 1226.5px,#0300ff 1228px,#0000e3 1230px,#0000ea 1231px,#0100ff 1232px,#2c00ff 1233.5px,#8d04fb 1236px,#ff4db2 1239px,#ff956a 1243px,#ffc33c 1247px,#ffe51a 1252px,#ff0 1259px,#ffff35 1263px,#ffff5d 1267px,#ffff9a 1277px,#ffffc4 1291px,#ffffe0 1310.8px,#ffffe6 1310.8px 1328.8px,#fffff3 1328.8px 1370.2px,#fff 1370.2px 1530px)"></i>
<i style="top:917.54px;height:4.51px;background:linear-gradient(90deg,#fff 0px 1089.8px,#fffff3 1089.8px 1131.2px,#ffffe6 1131.2px 1149.2px,#ffffe0 1149.2px,#ffffc5 1168.5px,#ffff9c 1182.5px,#ffff60 1192.5px,#ffff3a 1196.5px,#fffe01 1201px,#ffe41b 1208px,#ffc23d 1213px,#ff946b 1217px,#fc4bb4 1221px,#8a02fd 1224px,#7600ff 1224.5px,#2a00ff 1226.5px,#00f 1228px,#0000ea 1229px,#0000e4 1230px,#0000f9 1231.5px,#2300ff 1233px,#8200ff 1235.5px,#f546b9 1238.5px,#ff51ae 1239px,#ff9867 1243px,#ffc43b 1247px,#ffe619 1252px,#fffe01 1258.5px,#ffff5e 1267px,#ffff9b 1277px,#ffffc5 1291px,#ffffdf 1310.2px,#ffffe6 1310.2px 1328.8px,#fffff3 1328.8px 1370.2px,#fff 1370.2px 1530px)"></i>
<i style="top:921.55px;height:4.51px;background:linear-gradient(90deg,#fff 0px 1089.8px,#fffff3 1089.8px 1130.8px,#ffffe6 1130.8px 1149.2px,#ffffdf 1149.2px,#ffffc5 1168.5px,#ffff9b 1182.5px,#ffff5f 1192.5px,#fffe01 1201px,#ffe619 1207.5px,#ffc53a 1212.5px,#ff9867 1216.5px,#ff52ad 1220.5px,#f647b8 1221px,#8300ff 1224px,#3600ff 1226px,#0800ff 1227.5px,#0000e6 1229.5px,#0000eb 1230.5px,#0100ff 1231.5px,#2b00ff 1233px,#8a02fd 1235.5px,#fc4bb4 1238.5px,#ff946b 1242.5px,#ffc23d 1246.5px,#ffe41b 1251.5px,#fffe01 1258.5px,#ffff3a 1263px,#ffff60 1267px,#ffff9c 1277px,#ffffc5 1291px,#ffffe0 1310.2px,#ffffe6 1310.2px 1328.2px,#fffff3 1328.2px 1369.8px,#fff 1369.8px 1530px)"></i>
<i style="top:925.56px;height:4.51px;background:linear-gradient(90deg,#fff 0px 1089.2px,#fffff3 1089.2px 1130.8px,#ffffe6 1130.8px 1149.2px,#ffffdf 1149.2px,#ffffc5 1168.5px,#ffff9a 1182.5px,#ffff5d 1192.5px,#ffff36 1196.5px,#ff0 1200.5px,#ffe817 1207px,#ffc33c 1212.5px,#ff9669 1216.5px,#ff4eb1 1220.5px,#7c00ff 1224px,#3000ff 1226px,#0500ff 1227.5px,#0000e7 1229.5px,#0000f9 1231px,#2100ff 1232.5px,#7e00ff 1235px,#ff4fb0 1238.5px,#ff9768 1242.5px,#ffc43b 1246.5px,#ffe817 1252px,#ff0 1258.5px,#ffff31 1262px,#ffff5a 1266px,#ffff9b 1276.5px,#ffffc5 1290.5px,#ffffdf 1309.8px,#ffffe6 1309.8px 1328.2px,#fffff3 1328.2px 1369.2px,#fff 1369.2px 1530px)"></i>
<i style="top:929.57px;height:4.51px;background:linear-gradient(90deg,#fff 0px 1089.2px,#fffff3 1089.2px 1130.8px,#ffffe6 1130.8px 1148.8px,#ffffe0 1148.8px,#ffffc5 1168px,#ffff9c 1182px,#ffff60 1192px,#ffff3a 1196px,#fffe01 1200.5px,#ffe718 1207px,#ffc639 1212px,#ff9a65 1216px,#f5a 1220px,#fc4ab5 1220.5px,#8a01fe 1223.5px,#7600ff 1224px,#2b00ff 1226px,#0200ff 1227.5px,#00e 1228.5px,#0000e9 1229.5px,#00f 1231px,#2800ff 1232.5px,#8600ff 1235px,#f949b6 1238px,#ff54ab 1238.5px,#f96 1242.5px,#ffc53a 1246.5px,#ffe619 1251.5px,#fffe01 1258px,#ffff60 1266.5px,#ffff9c 1276.5px,#ffffc5 1290.5px,#ffffe0 1309.8px,#ffffe6 1309.8px 1327.8px,#fffff3 1327.8px 1369.2px,#fff 1369.2px 1530px)"></i>
<i style="top:933.58px;height:4.51px;background:linear-gradient(90deg,#fff 0px 1089.2px,#fffff3 1089.2px 1130.2px,#ffffe6 1130.2px 1148.8px,#ffffe0 1148.8px,#ffffc5 1168px,#ffff9b 1182px,#ffff5f 1192px,#fffe01 1200.5px,#ffe619 1207px,#ffc53a 1212px,#ff9867 1216px,#ff52ad 1220px,#f647b8 1220.5px,#8300ff 1223.5px,#2600ff 1226px,#0000fe 1227.5px,#0000ea 1229px,#0000f9 1230.5px,#1f00ff 1232px,#8e04fb 1235px,#ff4db2 1238px,#ff956a 1242px,#ffc33c 1246px,#ffe718 1251.5px,#ff0 1258px,#ffff35 1262px,#ffff5d 1266px,#ffff9a 1276px,#ffffc5 1290px,#ffffdf 1309.2px,#ffffe6 1309.2px 1327.8px,#fffff3 1327.8px 1368.8px,#fff 1368.8px 1530px)"></i>
<i style="top:937.6px;height:4.51px;background:linear-gradient(90deg,#fff 0px 1089.2px,#fffff3 1089.2px 1130.2px,#ffffe6 1130.2px 1148.8px,#ffffdf 1148.8px,#ffffc5 1168px,#ffff9b 1182px,#ffff5e 1192px,#ffff36 1196px,#ff0 1200px,#ffe817 1206.5px,#ffc33c 1212px,#ff9669 1216px,#ff4eb1 1220px,#7d00ff 1223.5px,#3200ff 1225.5px,#0700ff 1227px,#0000eb 1229px,#0000fe 1230.5px,#2500ff 1232px,#8200ff 1234.5px,#e33ac5 1237px,#ff51ae 1238px,#ff9867 1242px,#ffc43b 1246px,#ffe619 1251px,#fffe01 1257.5px,#ffff5f 1266px,#ffff9b 1276px,#ffffc5 1290px,#ffffe0 1309.2px,#ffffe6 1309.2px 1327.8px,#fffff3 1327.8px 1368.8px,#fff 1368.8px 1530px)"></i>
<i style="top:941.61px;height:4.51px;background:linear-gradient(90deg,#fff 0px 1089.2px,#fffff3 1089.2px 1130.2px,#ffffe6 1130.2px 1148.8px,#ffffdf 1148.8px,#ffffc5 1168px,#ffff9a 1182px,#ffff5c 1192px,#ff0 1200px,#ffe41b 1207px,#ffc23d 1212px,#ff946b 1216px,#fd4bb4 1220px,#8b02fd 1223px,#70f 1223.5px,#2d00ff 1225.5px,#0500ff 1227px,#0000ed 1228.5px,#0000f8 1230px,#1c00ff 1231.5px,#8901fe 1234.5px,#fb4ab5 1237.5px,#ff936c 1241.5px,#ffc13e 1245.5px,#ffe41b 1250.5px,#fffe01 1257.5px,#ffff3a 1262px,#ffff60 1266px,#ffff9c 1276px,#ffffc6 1290px,#ffffe0 1309.2px,#ffffe6 1309.2px 1327.2px,#fffff3 1327.2px 1368.2px,#fff 1368.2px 1530px)"></i>
<i style="top:945.62px;height:4.51px;background:linear-gradient(90deg,#fff 0px 1088.8px,#fffff3 1088.8px 1130.2px,#ffffe6 1130.2px 1148.2px,#ffffe0 1148.2px,#ffffc5 1167.5px,#ffff9c 1181.5px,#ffff5f 1191.5px,#fffe01 1200px,#ffe619 1206.5px,#ffc53a 1211.5px,#f96 1215.5px,#ff53ac 1219.5px,#f848b7 1220px,#8600ff 1223px,#2900ff 1225.5px,#0200ff 1227px,#00e 1228.5px,#0000fd 1230px,#20f 1231.5px,#7c00ff 1234px,#ff4eb1 1237.5px,#ff956a 1241.5px,#ffc33c 1245.5px,#ffe817 1251px,#ff0 1257.5px,#ffff36 1261.5px,#ffff5d 1265.5px,#ffff9b 1275.5px,#ffffc5 1289.5px,#ffffdf 1308.8px,#ffffe6 1308.8px 1327.2px,#fffff3 1327.2px 1368.2px,#fff 1368.2px 1530px)"></i>
<i style="top:949.63px;height:4.51px;background:linear-gradient(90deg,#fff 0px 1088.8px,#fffff3 1088.8px 1130.2px,#ffffe6 1130.2px 1148.2px,#ffffe0 1148.2px,#ffffc5 1167.5px,#ffff9b 1181.5px,#ffff5a 1192px,#ffff31 1196px,#ff0 1199.5px,#ffe817 1206px,#ffc43b 1211.5px,#ff9768 1215.5px,#ff50af 1219.5px,#e139c6 1220.5px,#8000ff 1223px,#3500ff 1225px,#0b00ff 1226.5px,#0100ff 1227px,#0000f0 1228.5px,#0000f8 1229.5px,#0200ff 1230px,#1900ff 1231px,#8300ff 1234px,#f646b9 1237px,#ff51ae 1237.5px,#ff9867 1241.5px,#ffc43b 1245.5px,#ffe619 1250.5px,#fffe01 1257px,#ffff5f 1265.5px,#ffff9b 1275.5px,#ffffc5 1289.5px,#ffffe0 1308.8px,#ffffe6 1308.8px 1326.8px,#fffff3 1326.8px 1368.2px,#fff 1368.2px 1530px)"></i>
<i style="top:953.64px;height:4.51px;background:linear-gradient(90deg,#fff 0px 1088.8px,#fffff3 1088.8px 1129.8px,#ffffe6 1129.8px 1148.2px,#ffffdf 1148.2px,#ffffc5 1167.5px,#ffff9a 1181.5px,#ffff5d 1191.5px,#ffff35 1195.5px,#ff0 1199.5px,#ffe718 1206px,#ffc33c 1211.5px,#ff956a 1215.5px,#ff4db2 1219.5px,#8f05fa 1222.5px,#7b00ff 1223px,#3100ff 1225px,#0800ff 1226.5px,#0000f2 1228px,#0000fc 1229.5px,#2d00ff 1231.5px,#8a02fd 1234px,#fb4ab5 1237px,#ff936c 1241px,#ffc13e 1245px,#ffe41b 1250px,#fffe01 1257px,#ffff5c 1265px,#ffff9a 1275px,#ffffc5 1289px,#ffffdf 1308.2px,#ffffe6 1308.2px 1326.8px,#fffff3 1326.8px 1367.8px,#fff 1367.8px 1530px)"></i>
<i style="top:957.65px;height:4.51px;background:linear-gradient(90deg,#fff 0px 1088.8px,#fffff3 1088.8px 1129.8px,#ffffe6 1129.8px 1148.2px,#ffffdf 1148.2px,#ffffc5 1167.5px,#ffff9a 1181.5px,#ffff5c 1191.5px,#fffe01 1199.5px,#ffe718 1206px,#ffc639 1211px,#ff9a65 1215px,#f5a 1219px,#fb4ab5 1219.5px,#8901fe 1222.5px,#7600ff 1223px,#2d00ff 1225px,#0600ff 1226.5px,#0000f2 1228px,#0100ff 1229.5px,#2300ff 1231px,#7d00ff 1233.5px,#ff4eb1 1237px,#ff956a 1241px,#ffc33c 1245px,#ffe817 1250.5px,#ff0 1257px,#ffff36 1261px,#ffff5e 1265px,#ffff9b 1275px,#ffffc5 1289px,#ffffe0 1308.2px,#ffffe6 1308.2px 1326.8px,#fffff3 1326.8px 1367.8px,#fff 1367.8px 1530px)"></i>
<i style="top:961.67px;height:4.51px;background:linear-gradient(90deg,#fff 0px 1088.8px,#fffff3 1088.8px 1129.8px,#ffffe6 1129.8px 1147.8px,#ffffe0 1147.8px,#ffffc5 1167px,#ffff9c 1181px,#ffff5f 1191px,#fffe01 1199.5px,#ffe619 1206px,#ffc53a 1211px,#ff9867 1215px,#ff52ad 1219px,#f647b8 1219.5px,#8400ff 1222.5px,#3a00ff 1224.5px,#0f00ff 1226px,#0000fb 1227px,#0000f3 1228px,#0000fb 1229px,#0e00ff 1230px,#2800ff 1231px,#8300ff 1233.5px,#f546b9 1236.5px,#ff51ae 1237px,#ff9867 1241px,#ffc43b 1245px,#ffe619 1250px,#fffe01 1256.5px,#ffff5f 1265px,#ffff9b 1275px,#ffffc5 1289px,#ffffe0 1308.2px,#ffffe6 1308.2px 1326.2px,#fffff3 1326.2px 1367.2px,#fff 1367.2px 1530px)"></i>
<i style="top:965.68px;height:4.51px;background:linear-gradient(90deg,#fff 0px 1088.8px,#fffff3 1088.8px 1129.8px,#ffffe6 1129.8px 1147.8px,#ffffe0 1147.8px,#ffffc5 1167px,#ffff9b 1181px,#ffff5a 1191.5px,#ffff31 1195.5px,#ff0 1199px,#ffe817 1205.5px,#ffc33c 1211px,#ff9669 1215px,#ff4fb0 1219px,#8000ff 1222.5px,#3600ff 1224.5px,#0c00ff 1226px,#0000fa 1227px,#0000f5 1228px,#0000fe 1229px,#2e00ff 1231px,#8901fe 1233.5px,#fa49b6 1236.5px,#ff54ab 1237px,#ff9a65 1241px,#ffc639 1245px,#ffe718 1250px,#fffe01 1256.5px,#ffff5c 1264.5px,#ffff9a 1274.5px,#ffffc5 1288.5px,#ffffdf 1307.8px,#ffffe6 1307.8px 1326.2px,#fffff3 1326.2px 1367.2px,#fff 1367.2px 1530px)"></i>
<i style="top:969.69px;height:4.51px;background:linear-gradient(90deg,#fff 0px 1088.2px,#fffff3 1088.2px 1129.2px,#ffffe6 1129.2px 1147.8px,#ffffdf 1147.8px,#ffffc5 1167px,#ffff9b 1181px,#ffff5d 1191px,#ffff35 1195px,#ff0 1199px,#ffe718 1205.5px,#ffc23d 1211px,#ff946b 1215px,#ff4cb3 1219px,#8e04fb 1222px,#7b00ff 1222.5px,#3200ff 1224.5px,#0a00ff 1226px,#0200ff 1226.5px,#0000f6 1227.5px,#0000fa 1228.5px,#0b00ff 1229.5px,#2400ff 1230.5px,#7c00ff 1233px,#ff4db2 1236.5px,#ff956a 1240.5px,#ffc33c 1244.5px,#ffe718 1250px,#ff0 1256.5px,#ffff35 1260.5px,#ffff5d 1264.5px,#ffff9b 1274.5px,#ffffc5 1288.5px,#ffffe0 1307.8px,#ffffe6 1307.8px 1326.2px,#fffff3 1326.2px 1367.2px,#fff 1367.2px 1530px)"></i>
<i style="top:973.7px;height:4.51px;background:linear-gradient(90deg,#fff 0px 1088.2px,#fffff3 1088.2px 1129.2px,#ffffe6 1129.2px 1147.8px,#ffffdf 1147.8px,#ffffc5 1167px,#ffff9a 1181px,#ffff5c 1191px,#fffe01 1199px,#ffe718 1205.5px,#ffc639 1210.5px,#ff9a65 1214.5px,#ff54ab 1218.5px,#fa49b6 1219px,#8a01fe 1222px,#7600ff 1222.5px,#2f00ff 1224.5px,#0900ff 1226px,#0000f7 1227.5px,#0000fd 1228.5px,#2800ff 1230.5px,#8200ff 1233px,#e13ac5 1235.5px,#ff50af 1236.5px,#ff9768 1240.5px,#ffc43b 1244.5px,#ffe817 1250px,#ffff01 1256.5px,#ffff31 1260px,#ffff5a 1264px,#ffff9b 1274.5px,#ffffc5 1288.5px,#ffffe0 1307.8px,#ffffe6 1307.8px 1325.8px,#fffff3 1325.8px 1366.8px,#fff 1366.8px 1530px)"></i>
<i style="top:977.71px;height:4.51px;background:linear-gradient(90deg,#fff 0px 1088.2px,#fffff3 1088.2px 1129.2px,#ffffe6 1129.2px 1147.2px,#ffffe0 1147.2px,#ffffc5 1166.5px,#ffff9c 1180.5px,#ffff5f 1190.5px,#fffe01 1199px,#ffe619 1205.5px,#ffc53a 1210.5px,#ff9867 1214.5px,#ff52ad 1218.5px,#f647b8 1219px,#8500ff 1222px,#3b00ff 1224px,#10f 1225.5px,#00f 1226.5px,#0000f8 1227.5px,#0100ff 1228.5px,#2d00ff 1230.5px,#8700ff 1233px,#f848b7 1236px,#ff53ac 1236.5px,#f96 1240.5px,#ffc53a 1244.5px,#ffe619 1249.5px,#fffe01 1256px,#ffff60 1264.5px,#ffff9c 1274.5px,#ffffc5 1288px,#ffffdf 1307.2px,#ffffe6 1307.2px 1325.8px,#fffff3 1325.8px 1366.8px,#fff 1366.8px 1530px)"></i>
<i style="top:981.73px;height:4.51px;background:linear-gradient(90deg,#fff 0px 1088.2px,#fffff3 1088.2px 1129.2px,#ffffe6 1129.2px 1147.2px,#ffffe0 1147.2px,#ffffc5 1166.5px,#ffff9b 1180.5px,#ffff5a 1191px,#ffff31 1195px,#ff0 1198.5px,#ffe817 1205px,#ffc33c 1210.5px,#ff9669 1214.5px,#ff4fb0 1218.5px,#8100ff 1222px,#3800ff 1224px,#0f00ff 1225.5px,#00f 1226.5px,#0000fc 1228px,#0b00ff 1229px,#2300ff 1230px,#8d03fc 1233px,#fd4bb4 1236px,#ff946b 1240px,#ffc23d 1244px,#ffe718 1249.5px,#ff0 1256px,#ffff35 1260px,#ffff5d 1264px,#ffff9a 1274px,#ffffc5 1288px,#ffffdf 1307.2px,#ffffe6 1307.2px 1325.8px,#fffff3 1325.8px 1366.8px,#fff 1366.8px 1530px)"></i>
<i style="top:985.74px;height:4.51px;background:linear-gradient(90deg,#fff 0px 1088.2px,#fffff3 1088.2px 1129.2px,#ffffe6 1129.2px 1147.2px,#ffffe0 1147.2px,#ffffc5 1166.5px,#ffff9b 1180.5px,#ffff5d 1190.5px,#ffff35 1194.5px,#ff0 1198.5px,#ffe718 1205px,#ffc23d 1210.5px,#ff946b 1214.5px,#ff4db2 1218.5px,#7c00ff 1222px,#3400ff 1224px,#0d00ff 1225.5px,#0000fe 1226.5px,#00f 1228px,#2700ff 1230px,#7f00ff 1232.5px,#ff4eb1 1236px,#ff956a 1240px,#ffc33c 1244px,#ffe817 1249.5px,#ff0 1256px,#ffff36 1260px,#ffff5e 1264px,#ffff9b 1274px,#ffffc5 1288px,#ffffe0 1307.2px,#ffffe6 1307.2px 1325.2px,#fffff3 1325.2px 1366.2px,#fff 1366.2px 1530px)"></i>
<i style="top:989.75px;height:4.51px;background:linear-gradient(90deg,#fff 0px 1087.8px,#fffff3 1087.8px 1128.8px,#ffffe6 1128.8px 1147.2px,#ffffdf 1147.2px,#ffffc5 1166.5px,#ffff9a 1180.5px,#ffff5c 1190.5px,#fffe01 1198.5px,#ffe718 1205px,#ffc639 1210px,#ff9a65 1214px,#f5a 1218px,#fb4ab5 1218.5px,#8b03fc 1221.5px,#7800ff 1222px,#3100ff 1224px,#0c00ff 1225.5px,#0000fe 1226.5px,#0200ff 1228px,#2c00ff 1230px,#8400ff 1232.5px,#f546b9 1235.5px,#ff51ae 1236px,#ff9768 1240px,#ffc43b 1244px,#ffe619 1249px,#fffe01 1255.5px,#ffff5f 1264px,#ffff9c 1274px,#ffffc5 1288px,#ffffe0 1307.2px,#ffffe6 1307.2px 1325.2px,#fffff3 1325.2px 1366.2px,#fff 1366.2px 1530px)"></i>
<i style="top:993.76px;height:4.51px;background:linear-gradient(90deg,#fff 0px 1087.8px,#fffff3 1087.8px 1128.8px,#ffffe6 1128.8px 1147.2px,#ffffdf 1147.2px,#ffffc5 1166.5px,#ffff9c 1180px,#ffff60 1190px,#fffe01 1198.5px,#ffe619 1205px,#ffc53a 1210px,#ff9867 1214px,#ff52ad 1218px,#f748b7 1218.5px,#8700ff 1221.5px,#3e00ff 1223.5px,#1400ff 1225px,#0300ff 1226px,#0000fe 1227.5px,#20f 1229.5px,#8a01fe 1232.5px,#fa49b6 1235.5px,#ff54ab 1236px,#f96 1240px,#ffc53a 1244px,#ffe619 1249px,#fffe01 1255.5px,#ffff5c 1263.5px,#ffff9a 1273.5px,#ffffc5 1287.5px,#ffffdf 1306.8px,#ffffe6 1306.8px 1325.2px,#fffff3 1325.2px 1366.2px,#fff 1366.2px 1530px)"></i>
<i style="top:997.77px;height:4.51px;background:linear-gradient(90deg,#fff 0px 1087.8px,#fffff3 1087.8px 1128.8px,#ffffe6 1128.8px 1146.8px,#ffffe0 1146.8px,#ffffc5 1166px,#ffff9b 1180px,#ffff5a 1190.5px,#ffff31 1194.5px,#ffff01 1198px,#ffe817 1204.5px,#ffc43b 1210px,#ff9768 1214px,#ff50af 1218px,#e23ac5 1219px,#8300ff 1221.5px,#3b00ff 1223.5px,#1200ff 1225px,#0300ff 1226px,#0100ff 1227.5px,#2600ff 1229.5px,#8f05fa 1232.5px,#fe4cb3 1235.5px,#ff946b 1239.5px,#ffc23d 1243.5px,#ffe718 1249px,#ff0 1255.5px,#ffff35 1259.5px,#ffff5d 1263.5px,#ffff9a 1273.5px,#ffffc5 1287.5px,#ffffe0 1306.8px,#ffffe6 1306.8px 1324.8px,#fffff3 1324.8px 1365.8px,#fff 1365.8px 1530px)"></i>
<i style="top:1001.79px;height:4.51px;background:linear-gradient(90deg,#fff 0px 1087.8px,#fffff3 1087.8px 1128.8px,#ffffe6 1128.8px 1146.8px,#ffffe0 1146.8px,#ffffc5 1166px,#ffff9b 1180px,#ffff5e 1190px,#ffff36 1194px,#ff0 1198px,#ffe718 1204.5px,#ffc33c 1210px,#ff956a 1214px,#ff4eb1 1218px,#7f00ff 1221.5px,#1c00ff 1224.5px,#0300ff 1226px,#00f 1227px,#1d00ff 1229px,#8000ff 1232px,#ff4fb0 1235.5px,#ff9669 1239.5px,#ffc33c 1243.5px,#ffe817 1249px,#ff0 1255.5px,#ffff36 1259.5px,#ffff5e 1263.5px,#ffff9b 1273.5px,#ffffc5 1287.5px,#ffffe0 1306.8px,#ffffe6 1306.8px 1324.8px,#fffff3 1324.8px 1365.8px,#fff 1365.8px 1530px)"></i>
<i style="top:1005.8px;height:4.51px;background:linear-gradient(90deg,#fff 0px 1087.8px,#fffff3 1087.8px 1128.8px,#ffffe6 1128.8px 1146.8px,#ffffdf 1146.8px,#ffffc5 1166px,#ffff9a 1180px,#ffff5d 1190px,#ffff35 1194px,#ff0 1198px,#ffe718 1204.5px,#ffc23d 1210px,#ff946b 1214px,#fd4bb4 1218px,#8e04fb 1221px,#7b00ff 1221.5px,#1a00ff 1224.5px,#0300ff 1226px,#0100ff 1227px,#2000ff 1229px,#8600ff 1232px,#f546b9 1235px,#ff51ae 1235.5px,#ff9768 1239.5px,#ffc43b 1243.5px,#ffe619 1248.5px,#fffe01 1255px,#ffff5f 1263.5px,#ffff9c 1273.5px,#ffffc5 1287.5px,#ffffe0 1306.8px,#ffffe6 1306.8px 1324.8px,#fffff3 1324.8px 1365.8px,#fff 1365.8px 1530px)"></i>
<i style="top:1009.81px;height:4.51px;background:linear-gradient(90deg,#fff 0px 1087.2px,#fffff3 1087.2px 1128.2px,#ffffe6 1128.2px 1146.8px,#ffffdf 1146.8px,#ffffc5 1166px,#ffff9c 1179.5px,#ffff60 1189.5px,#fffe01 1198px,#ffe619 1204.5px,#ffc53a 1209.5px,#f96 1213.5px,#ff54ab 1217.5px,#fa49b6 1218px,#8a02fd 1221px,#70f 1221.5px,#4100ff 1223px,#1800ff 1224.5px,#0300ff 1226px 1227px,#2400ff 1229px,#8a02fd 1232px,#fa49b6 1235px,#ff54ab 1235.5px,#f96 1239.5px,#ffc53a 1243.5px,#ffe619 1248.5px,#fffe01 1255px,#ffff60 1263.5px,#ffff9c 1273.5px,#ffffc5 1287px,#ffffdf 1306.2px,#ffffe6 1306.2px 1324.8px,#fffff3 1324.8px 1365.8px,#fff 1365.8px 1530px)"></i>
<i style="top:1013.82px;height:4.51px;background:linear-gradient(90deg,#fff 0px 1087.2px,#fffff3 1087.2px 1128.2px,#ffffe6 1128.2px 1146.8px,#ffffdf 1146.8px,#ffffc4 1166px,#ffff9c 1179.5px,#ffff5f 1189.5px,#fffe01 1198px,#ffe619 1204.5px,#ffc43b 1209.5px,#ff9768 1213.5px,#ff51ae 1217.5px,#f647b8 1218px,#8600ff 1221px,#2100ff 1224px,#0600ff 1225.5px,#0200ff 1226.5px,#1b00ff 1228.5px,#7c00ff 1231.5px,#fe4cb3 1235px,#ff946b 1239px,#ffc23d 1243px,#ffe718 1248.5px,#ff0 1255px,#ffff35 1259px,#ffff5d 1263px,#ffff9a 1273px,#ffffc5 1287px,#ffffe0 1306.2px,#ffffe6 1306.2px 1324.2px,#fffff3 1324.2px 1365.2px,#fff 1365.2px 1530px)"></i>
<i style="top:1017.83px;height:4.51px;background:linear-gradient(90deg,#fff 0px 1087.2px,#fffff3 1087.2px 1128.2px,#ffffe6 1128.2px 1146.2px,#ffffe0 1146.2px,#ffffc5 1165.5px,#ffff9b 1179.5px,#ffff5e 1189.5px,#ffff36 1193.5px,#ff0 1197.5px,#ffe817 1204px,#ffc33c 1209.5px,#ff9669 1213.5px,#ff4fb0 1217.5px,#8200ff 1221px,#1f00ff 1224px,#0600ff 1225.5px,#0300ff 1226.5px,#1f00ff 1228.5px,#8100ff 1231.5px,#ff4eb1 1235px,#ff956a 1239px,#ffc33c 1243px,#ffe817 1248.5px,#ff0 1255px,#ffff36 1259px,#ffff5e 1263px,#ffff9b 1273px,#ffffc5 1287px,#ffffe0 1306.2px,#ffffe6 1306.2px 1324.2px,#fffff3 1324.2px 1365.2px,#fff 1365.2px 1530px)"></i>
<i style="top:1021.85px;height:4.51px;background:linear-gradient(90deg,#fff 0px 1087.2px,#fffff3 1087.2px 1128.2px,#ffffe6 1128.2px 1146.2px,#ffffe0 1146.2px,#ffffc5 1165.5px,#ffff9b 1179.5px,#ffff5d 1189.5px,#ffff35 1193.5px,#ff0 1197.5px,#ffe718 1204px,#ffc23d 1209.5px,#ff946b 1213.5px,#ff4db2 1217.5px,#7e00ff 1221px,#1d00ff 1224px,#0600ff 1225.5px,#0400ff 1226.5px,#20f 1228.5px,#8600ff 1231.5px,#f546b9 1234.5px,#ff51ae 1235px,#ff9768 1239px,#ffc43b 1243px,#ffe619 1248px,#fffe01 1254.5px,#ffff5f 1263px,#ffff9b 1273px,#ffffc5 1287px,#ffffe0 1306.2px,#ffffe6 1306.2px 1324.2px,#fffff3 1324.2px 1365.2px,#fff 1365.2px 1530px)"></i>
<i style="top:1025.86px;height:4.51px;background:linear-gradient(90deg,#fff 0px 1086.8px,#fffff3 1086.8px 1127.8px,#ffffe6 1127.8px 1146.2px,#ffffdf 1146.2px,#ffffc5 1165.5px,#ffff9a 1179.5px,#ffff5c 1189.5px,#fffe01 1197.5px,#ffe718 1204px,#ffc639 1209px,#ff9a65 1213px,#f5a 1217px,#fc4bb4 1217.5px,#8e04fb 1220.5px,#7b00ff 1221px,#1c00ff 1224px,#0600ff 1225.5px 1226.5px,#2600ff 1228.5px,#8b02fd 1231.5px,#f949b6 1234.5px,#ff54ab 1235px,#f96 1239px,#ffc53a 1243px,#ffe619 1248px,#fffe01 1254.5px,#ffff60 1263px,#ffff9c 1273px,#ffffc5 1286.5px,#ffffdf 1305.8px,#ffffe6 1305.8px 1324.2px,#fffff3 1324.2px 1365.2px,#fff 1365.2px 1530px)"></i>
<i style="top:1029.87px;height:4.51px;background:linear-gradient(90deg,#fff 0px 1086.8px,#fffff3 1086.8px 1127.8px,#ffffe6 1127.8px 1146.2px,#ffffdf 1146.2px,#ffffc4 1165.5px,#ffff9c 1179px,#ffff5f 1189px,#fffe01 1197.5px,#ffe619 1204px,#ffc53a 1209px,#ff9867 1213px,#ff53ac 1217px,#f848b7 1217.5px,#8a01fe 1220.5px,#70f 1221px,#4200ff 1222.5px,#1a00ff 1224px,#0600ff 1225.5px,#0700ff 1226.5px,#2900ff 1228.5px,#7d00ff 1231px,#fe4cb3 1234.5px,#ff936c 1238.5px,#ffc23d 1242.5px,#ffe718 1248px,#fffe01 1254.5px,#ffff5c 1262.5px,#ffff9a 1272.5px,#ffffc5 1286.5px,#ffffdf 1305.8px,#ffffe6 1305.8px 1324.2px,#fffff3 1324.2px 1365.2px,#fff 1365.2px 1530px)"></i>
<i style="top:1033.88px;height:4.51px;background:linear-gradient(90deg,#fff 0px 1086.8px,#fffff3 1086.8px 1127.8px,#ffffe6 1127.8px 1145.8px,#ffffe0 1145.8px,#ffffc5 1165px,#ffff9b 1179px,#ffff5a 1189.5px,#ffff31 1193.5px,#ff0 1197px,#ffe817 1203.5px,#ffc43b 1209px,#ff9768 1213px,#ff51ae 1217px,#f546b9 1217.5px,#8600ff 1220.5px,#2300ff 1223.5px,#0a00ff 1225px,#0600ff 1226px,#2000ff 1228px,#8100ff 1231px,#ff4eb1 1234.5px,#ff956a 1238.5px,#ffc33c 1242.5px,#ffe718 1248px,#ff0 1254.5px,#ffff36 1258.5px,#ffff5d 1262.5px,#ffff9b 1272.5px,#ffffc5 1286.5px,#ffffe0 1305.8px,#ffffe6 1305.8px 1323.8px,#fffff3 1323.8px 1364.8px,#fff 1364.8px 1530px)"></i>
<i style="top:1037.89px;height:4.51px;background:linear-gradient(90deg,#fff 0px 1086.8px,#fffff3 1086.8px 1127.8px,#ffffe6 1127.8px 1145.8px,#ffffe0 1145.8px,#ffffc5 1165px,#ffff9b 1179px,#ffff5d 1189px,#ffff36 1193px,#ff0 1197px,#ffe718 1203.5px,#ffc33c 1209px,#ff956a 1213px,#ff4eb1 1217px,#8200ff 1220.5px,#2100ff 1223.5px,#0900ff 1225px,#0700ff 1226px,#2400ff 1228px,#8600ff 1231px,#f546b9 1234px,#ff51ae 1234.5px,#ff9768 1238.5px,#ffc43b 1242.5px,#ffe817 1248px,#ff0 1254.5px,#ffff31 1258px,#ffff5a 1262px,#ffff9b 1272.5px,#ffffc5 1286.5px,#ffffe0 1305.8px,#ffffe6 1305.8px 1323.8px,#fffff3 1323.8px 1364.8px,#fff 1364.8px 1530px)"></i>
<i style="top:1041.9px;height:4.51px;background:linear-gradient(90deg,#fff 0px 1086.2px,#fffff3 1086.2px 1127.2px,#ffffe6 1127.2px 1145.8px,#ffffdf 1145.8px,#ffffc5 1165px,#ffff9a 1179px,#ffff5c 1189px,#fffe01 1197px,#ffe718 1203.5px,#ffc23d 1209px,#ff946b 1213px,#ff4cb3 1217px,#7e00ff 1220.5px,#1f00ff 1223.5px,#0900ff 1225px,#0800ff 1226px,#2700ff 1228px,#8b02fd 1231px,#f949b6 1234px,#ff53ac 1234.5px,#ff9867 1238.5px,#ffc53a 1242.5px,#ffe619 1247.5px,#fffe01 1254px,#ffff5f 1262.5px,#ffff9c 1272.5px,#ffffc4 1286px,#ffffdf 1305.2px,#ffffe6 1305.2px 1323.8px,#fffff3 1323.8px 1364.8px,#fff 1364.8px 1530px)"></i>
<i style="top:1045.92px;height:4.51px;background:linear-gradient(90deg,#fff 0px 1086.2px,#fffff3 1086.2px 1127.2px,#ffffe6 1127.2px 1145.8px,#ffffdf 1145.8px,#ffffc5 1165px,#ffff9c 1178.5px,#ffff60 1188.5px,#fffe01 1197px,#ffe619 1203.5px,#ffc53a 1208.5px,#f96 1212.5px,#ff54ab 1216.5px,#fb4ab5 1217px,#8d04fb 1220px,#7b00ff 1220.5px,#4600ff 1222px,#1e00ff 1223.5px,#0a00ff 1225px 1226px,#2b00ff 1228px,#7d00ff 1230.5px,#fd4bb4 1234px,#ff936c 1238px,#ffc13e 1242px,#ffe718 1247.5px,#fffe01 1254px,#ffff5c 1262px,#ffff9a 1272px,#ffffc5 1286px,#ffffdf 1305.2px,#ffffe6 1305.2px 1323.8px,#fffff3 1323.8px 1364.8px,#fff 1364.8px 1530px)"></i>
<i style="top:1049.93px;height:4.51px;background:linear-gradient(90deg,#fff 0px 1086.2px,#fffff3 1086.2px 1127.2px,#ffffe6 1127.2px 1145.2px,#ffffe0 1145.2px,#ffffc5 1164.5px,#ffff9b 1178.5px,#ffff5f 1188.5px,#fffe01 1197px,#ffe619 1203.5px,#ffc43b 1208.5px,#ff9867 1212.5px,#ff52ad 1216.5px,#f748b7 1217px,#8a01fe 1220px,#70f 1220.5px,#4300ff 1222px,#1c00ff 1223.5px,#0900ff 1225.5px,#20f 1227.5px,#8200ff 1230.5px,#ff4eb1 1234px,#ff956a 1238px,#ffc23d 1242px,#ffe718 1247.5px,#ff0 1254px,#ffff35 1258px,#ffff5d 1262px,#ffff9a 1272px,#ffffc5 1286px,#ffffe0 1305.2px,#ffffe6 1305.2px 1323.2px,#fffff3 1323.2px 1364.8px,#fff 1364.8px 1530px)"></i>
<i style="top:1053.94px;height:4.51px;background:linear-gradient(90deg,#fff 0px 1086.2px,#fffff3 1086.2px 1127.2px,#ffffe6 1127.2px 1145.2px,#ffffe0 1145.2px,#ffffc5 1164.5px,#ffff9b 1178.5px,#ffff5e 1188.5px,#ffff36 1192.5px,#ff0 1196.5px,#ffe817 1203px,#ffc33c 1208.5px,#ff9669 1212.5px,#ff50af 1216.5px,#f445ba 1217px,#8600ff 1220px,#2500ff 1223px,#0d00ff 1224.5px,#0a00ff 1225.5px,#2600ff 1227.5px,#8600ff 1230.5px,#f446b9 1233.5px,#ff50af 1234px,#ff9669 1238px,#ffc33c 1242px,#ffe817 1247.5px,#ff0 1254px,#ffff36 1258px,#ffff5e 1262px,#ffff9b 1272px,#ffffc5 1286px,#ffffe0 1305.2px,#ffffe6 1305.2px 1323.2px,#fffff3 1323.2px 1364.2px,#fff 1364.2px 1530px)"></i>
<i style="top:1057.95px;height:4.51px;background:linear-gradient(90deg,#fff 0px 1085.8px,#fffff3 1085.8px 1126.8px,#ffffe6 1126.8px 1145.2px,#ffffdf 1145.2px,#ffffc5 1164.5px,#ffff9a 1178.5px,#ffff5d 1188.5px,#ffff35 1192.5px,#ff0 1196.5px,#ffe718 1203px,#ffc23d 1208.5px,#ff956a 1212.5px,#ff4eb1 1216.5px,#8200ff 1220px,#2400ff 1223px,#0d00ff 1224.5px,#0c00ff 1225.5px,#2900ff 1227.5px,#8b02fd 1230.5px,#f948b7 1233.5px,#ff53ac 1234px,#ff9867 1238px,#ffc43b 1242px,#ffe619 1247px,#fffe01 1253.5px,#ffff5f 1262px,#ffff9b 1272px,#ffffc5 1286px,#ffffe0 1305.2px,#ffffe6 1305.2px 1323.2px,#fffff3 1323.2px 1364.2px,#fff 1364.2px 1530px)"></i>
<i style="top:1061.96px;height:4.51px;background:linear-gradient(90deg,#fff 0px 1085.8px,#fffff3 1085.8px 1126.8px,#ffffe6 1126.8px 1145.2px,#ffffdf 1145.2px,#ffffc5 1164.5px,#ffff9a 1178.5px,#ffff5c 1188.5px,#fffe01 1196.5px,#ffe718 1203px,#ffc13e 1208.5px,#ff936c 1212.5px,#fe4cb3 1216.5px,#7e00ff 1220px,#20f 1223px,#0d00ff 1224.5px 1225.5px,#2d00ff 1227.5px,#7d00ff 1230px,#fd4bb4 1233.5px,#ff936c 1237.5px,#ffc13e 1241.5px,#ffe619 1247px,#fffe01 1253.5px,#ffff60 1262px,#ffff9c 1272px,#ffffc5 1285.5px,#ffffdf 1304.8px,#ffffe6 1304.8px 1323.2px,#fffff3 1323.2px 1364.2px,#fff 1364.2px 1530px)"></i>
<i style="top:1065.98px;height:4.51px;background:linear-gradient(90deg,#fff 0px 1085.8px,#fffff3 1085.8px 1126.8px,#ffffe6 1126.8px 1144.8px,#ffffe0 1144.8px,#ffffc5 1164px,#ffff9b 1178px,#ffff5f 1188px,#fffe01 1196.5px,#ffe619 1203px,#ffc53a 1208px,#f96 1212px,#ff54ab 1216px,#fa49b6 1216.5px,#8d04fb 1219.5px,#7b00ff 1220px,#4800ff 1221.5px,#2000ff 1223px,#0e00ff 1224.5px,#0f00ff 1225.5px,#3000ff 1227.5px,#8200ff 1230px,#ff4eb1 1233.5px,#ff946b 1237.5px,#ffc23d 1241.5px,#ffe718 1247px,#ff0 1253.5px,#ffff5c 1261.5px,#ffff9a 1271.5px,#ffffc5 1285.5px,#ffffdf 1304.8px,#ffffe6 1304.8px 1323.2px,#fffff3 1323.2px 1364.2px,#fff 1364.2px 1530px)"></i>
<i style="top:1069.99px;height:4.51px;background:linear-gradient(90deg,#fff 0px 1085.8px,#fffff3 1085.8px 1126.8px,#ffffe6 1126.8px 1144.8px,#ffffe0 1144.8px,#ffffc5 1164px,#ffff9b 1178px,#ffff5a 1188.5px,#ffff31 1192.5px,#ff0 1196px,#ffe817 1202.5px,#ffc43b 1208px,#ff9768 1212px,#ff52ad 1216px,#f747b8 1216.5px,#8a01fe 1219.5px,#70f 1220px,#4500ff 1221.5px,#1f00ff 1223px,#0e00ff 1225px,#2800ff 1227px,#8700ff 1230px,#ff50af 1233.5px,#ff9669 1237.5px,#ffc33c 1241.5px,#ffe817 1247px,#ff0 1253.5px,#ffff36 1257.5px,#ffff5d 1261.5px,#ffff9b 1271.5px,#ffffc5 1285.5px,#ffffe0 1304.8px,#ffffe6 1304.8px 1322.8px,#fffff3 1322.8px 1364.2px,#fff 1364.2px 1530px)"></i>
<i style="top:1074px;height:4.51px;background:linear-gradient(90deg,#fff 0px 1085.2px,#fffff3 1085.2px 1126.2px,#ffffe6 1126.2px 1144.8px,#ffffdf 1144.8px,#ffffc5 1164px,#ffff9a 1178px,#ffff5d 1188px,#ffff35 1192px,#ff0 1196px,#ffe718 1202.5px,#ffc33c 1208px,#ff9669 1212px,#ff50af 1216px,#8600ff 1219.5px,#2800ff 1222.5px,#10f 1224px,#0f00ff 1225px,#2b00ff 1227px,#8b02fd 1230px,#f848b7 1233px,#ff52ad 1233.5px,#ff9867 1237.5px,#ffc43b 1241.5px,#ffe817 1247px,#ff0 1253.5px,#ffff31 1257px,#ffff5a 1261px,#ffff9b 1271.5px,#ffffc5 1285.5px,#ffffe0 1304.8px,#ffffe6 1304.8px 1322.8px,#fffff3 1322.8px 1363.8px,#fff 1363.8px 1530px)"></i>
<i style="top:1078.01px;height:4.51px;background:linear-gradient(90deg,#fff 0px 1085.2px,#fffff3 1085.2px 1126.2px,#ffffe6 1126.2px 1144.8px,#ffffdf 1144.8px,#ffffc5 1164px,#ffff9a 1178px,#ffff5c 1188px,#fffe01 1196px,#ffe718 1202.5px,#ffc23d 1208px,#ff946b 1212px,#ff4db2 1216px,#8300ff 1219.5px,#2700ff 1222.5px,#10f 1224px 1225px,#2f00ff 1227px,#7e00ff 1229.5px,#fc4ab5 1233px,#ff926d 1237px,#ffc13e 1241px,#ffe619 1246.5px,#fffe01 1253px,#ffff5f 1261.5px,#ffff9c 1271.5px,#ffffc5 1285.5px,#ffffe0 1304.8px,#ffffe6 1304.8px 1322.8px,#fffff3 1322.8px 1363.8px,#fff 1363.8px 1530px)"></i>
<i style="top:1082.02px;height:4.51px;background:linear-gradient(90deg,#fff 0px 1085.2px,#fffff3 1085.2px 1126.2px,#ffffe6 1126.2px 1144.2px,#ffffe0 1144.2px,#ffffc5 1163.5px,#ffff9c 1177.5px,#ffff5f 1187.5px,#fffe01 1196px,#ffe619 1202.5px,#ffc13e 1208px,#ff936c 1212px,#fd4bb4 1216px,#8000ff 1219.5px,#2500ff 1222.5px,#1200ff 1224px 1225px,#3200ff 1227px,#8200ff 1229.5px,#ff4db2 1233px,#ff946b 1237px,#ffc23d 1241px,#ffe718 1246.5px,#fffe01 1253px,#ffff5c 1261px,#ffff9a 1271px,#ffffc5 1285px,#ffffdf 1304.2px,#ffffe6 1304.2px 1322.8px,#fffff3 1322.8px 1363.8px,#fff 1363.8px 1530px)"></i>
<i style="top:1086.04px;height:4.51px;background:linear-gradient(90deg,#fff 0px 1084.8px,#fffff3 1084.8px 1126.2px,#ffffe6 1126.2px 1144.2px,#ffffe0 1144.2px,#ffffc5 1163.5px,#ffff9b 1177.5px,#ffff5a 1188px,#ffff31 1192px,#ffff01 1195.5px,#ffe817 1202px,#ffc43b 1207.5px,#ff9867 1211.5px,#ff54ab 1215.5px,#fa49b6 1216px,#7c00ff 1219.5px,#4a00ff 1221px,#2400ff 1222.5px,#1200ff 1224.5px,#2a00ff 1226.5px,#8700ff 1229.5px,#ff4fb0 1233px,#ff956a 1237px,#ffc33c 1241px,#ffe718 1246.5px,#ff0 1253px,#ffff35 1257px,#ffff5d 1261px,#ffff9a 1271px,#ffffc5 1285px,#ffffdf 1304.2px,#ffffe6 1304.2px 1322.8px,#fffff3 1322.8px 1363.8px,#fff 1363.8px 1530px)"></i>
<i style="top:1090.05px;height:4.51px;background:linear-gradient(90deg,#fff 0px 1084.8px,#fffff3 1084.8px 1125.8px,#ffffe6 1125.8px 1144.2px,#ffffdf 1144.2px,#ffffc5 1163.5px,#ffff9b 1177.5px,#ffff5e 1187.5px,#ffff36 1191.5px,#ff0 1195.5px,#ffe817 1202px,#ffc43b 1207.5px,#ff9768 1211.5px,#ff52ad 1215.5px,#f747b8 1216px,#8b02fd 1219px,#7900ff 1219.5px,#4800ff 1221px,#2300ff 1222.5px,#1300ff 1224.5px,#2d00ff 1226.5px,#8b02fd 1229.5px,#f747b8 1232.5px,#ff52ad 1233px,#ff9768 1237px,#ffc43b 1241px,#ffe817 1246.5px,#ff0 1253px,#ffff36 1257px,#ffff5d 1261px,#ffff9b 1271px,#ffffc5 1285px,#ffffdf 1304.2px,#ffffe6 1304.2px 1322.8px,#fffff3 1322.8px 1363.8px,#fff 1363.8px 1530px)"></i>
<i style="top:1094.06px;height:4.51px;background:linear-gradient(90deg,#fff 0px 1084.8px,#fffff3 1084.8px 1125.8px,#ffffe6 1125.8px 1144.2px,#ffffdf 1144.2px,#ffffc5 1163.5px,#ffff9a 1177.5px,#ffff5d 1187.5px,#ffff35 1191.5px,#ff0 1195.5px,#ffe718 1202px,#ffc33c 1207.5px,#ff956a 1211.5px,#ff50af 1215.5px,#80f 1219px,#7600ff 1219.5px,#2c00ff 1222px,#1600ff 1223.5px,#1400ff 1224.5px,#3100ff 1226.5px,#7e00ff 1229px,#fb4ab5 1232.5px,#ff54ab 1233px,#ff9867 1237px,#ffc43b 1241px,#ffe817 1246.5px,#ffff01 1253px,#ffff31 1256.5px,#ffff5a 1260.5px,#ffff9b 1271px,#ffffc5 1285px,#ffffe0 1304.2px,#ffffe6 1304.2px 1322.2px,#fffff3 1322.2px 1363.8px,#fff 1363.8px 1530px)"></i>
<i style="top:1098.07px;height:4.51px;background:linear-gradient(90deg,#fff 0px 1084.8px,#fffff3 1084.8px 1125.8px,#ffffe6 1125.8px 1143.8px,#ffffe0 1143.8px,#ffffc5 1163px,#ffff9c 1177px,#ffff60 1187px,#ffff39 1191px,#fffe01 1195.5px,#ffe718 1202px,#ffc23d 1207.5px,#ff946b 1211.5px,#ff4eb1 1215.5px,#8500ff 1219px,#2b00ff 1222px,#1700ff 1223.5px,#1600ff 1224.5px,#3400ff 1226.5px,#8200ff 1229px,#fe4cb3 1232.5px,#ff936c 1236.5px,#ffc13e 1240.5px,#ffe619 1246px,#fffe01 1252.5px,#ffff5f 1261px,#ffff9b 1271px,#ffffc5 1285px,#ffffe0 1304.2px,#ffffe6 1304.2px 1322.2px,#fffff3 1322.2px 1363.2px,#fff 1363.2px 1530px)"></i>
<i style="top:1102.08px;height:4.51px;background:linear-gradient(90deg,#fff 0px 1084.2px,#fffff3 1084.2px 1125.8px,#ffffe6 1125.8px 1143.8px,#ffffe0 1143.8px,#ffffc5 1163px,#ffff9b 1177px,#ffff5f 1187px,#fffe01 1195.5px,#ffe619 1202px,#ffc13e 1207.5px,#ff936c 1211.5px,#fe4cb3 1215.5px,#8200ff 1219px,#2a00ff 1222px,#1700ff 1223.5px,#1800ff 1224.5px,#3800ff 1226.5px,#8600ff 1229px,#ff4eb1 1232.5px,#ff946b 1236.5px,#ffc23d 1240.5px,#ffe718 1246px,#fffe01 1252.5px,#ffff39 1257px,#ffff60 1261px,#ffff9c 1271px,#ffffc5 1285px,#ffffe0 1304.2px,#ffffe6 1304.2px 1322.2px,#fffff3 1322.2px 1363.2px,#fff 1363.2px 1530px)"></i>
<i style="top:1106.1px;height:4.51px;background:linear-gradient(90deg,#fff 0px 1084.2px,#fffff3 1084.2px 1125.2px,#ffffe6 1125.2px 1143.8px,#ffffe0 1143.8px,#ffffc5 1163px,#ffff9b 1177px,#ffff5a 1187.5px,#ffff31 1191.5px,#ffff01 1195px,#ffe817 1201.5px,#ffc43b 1207px,#ff9867 1211px,#f5a 1215px,#fb4ab5 1215.5px,#7f00ff 1219px,#4e00ff 1220.5px,#2900ff 1222px,#1700ff 1224px,#2f00ff 1226px,#8b02fd 1229px,#f546b9 1232px,#ff51ae 1232.5px,#ff9669 1236.5px,#ffc33c 1240.5px,#ffe718 1246px,#ff0 1252.5px,#ffff35 1256.5px,#ffff5d 1260.5px,#ffff9a 1270.5px,#ffffc5 1284.5px,#ffffdf 1303.8px,#ffffe6 1303.8px 1322.2px,#fffff3 1322.2px 1363.2px,#fff 1363.2px 1530px)"></i>
<i style="top:1110.11px;height:4.51px;background:linear-gradient(90deg,#fff 0px 1084.2px,#fffff3 1084.2px 1125.2px,#ffffe6 1125.2px 1143.8px,#ffffdf 1143.8px,#ffffc5 1163px,#ffff9a 1177px,#ffff5d 1187px,#ffff36 1191px,#ff0 1195px,#ffe817 1201.5px,#ffc43b 1207px,#ff9768 1211px,#ff53ac 1215px,#f948b7 1215.5px,#7d00ff 1219px,#30f 1221.5px,#1c00ff 1223px,#1900ff 1224px,#30f 1226px,#8f05fa 1229px,#f949b6 1232px,#ff53ac 1232.5px,#ff9768 1236.5px,#ffc43b 1240.5px,#ffe817 1246px,#ff0 1252.5px,#ffff36 1256.5px,#ffff5d 1260.5px,#ffff9b 1270.5px,#ffffc5 1284.5px,#ffffdf 1303.8px,#ffffe6 1303.8px 1322.2px,#fffff3 1322.2px 1363.2px,#fff 1363.2px 1530px)"></i>
<i style="top:1114.12px;height:4.51px;background:linear-gradient(90deg,#fff 0px 1084.2px,#fffff3 1084.2px 1125.2px,#ffffe6 1125.2px 1143.8px,#ffffdf 1143.8px,#ffffc5 1163px,#ffff9a 1177px,#ffff5c 1187px,#ffff34 1191px,#ff0 1195px,#ffe718 1201.5px,#ffc33c 1207px,#ff9669 1211px,#ff51ae 1215px,#f647b8 1215.5px,#8c03fc 1218.5px,#7a00ff 1219px,#3200ff 1221.5px,#1c00ff 1223px,#1a00ff 1224px,#3600ff 1226px,#8100ff 1228.5px,#fc4bb4 1232px,#ff926d 1236px,#ffc53a 1240.5px,#ffe817 1246px,#ffff01 1252.5px,#ffff31 1256px,#ffff5a 1260px,#ffff9b 1270.5px,#ffffc5 1284.5px,#ffffdf 1303.8px,#ffffe6 1303.8px 1322.2px,#fffff3 1322.2px 1363.2px,#fff 1363.2px 1530px)"></i>
<i style="top:1118.13px;height:4.51px;background:linear-gradient(90deg,#fff 0px 1083.8px,#fffff3 1083.8px 1125.2px,#ffffe6 1125.2px 1143.2px,#ffffe0 1143.2px,#ffffc5 1162.5px,#ffff9c 1176.5px,#ffff60 1186.5px,#ffff39 1190.5px,#fffe01 1195px,#ffe718 1201.5px,#ffc23d 1207px,#ff956a 1211px,#ff4fb0 1215px,#8901fe 1218.5px,#7800ff 1219px,#3100ff 1221.5px,#1d00ff 1223px,#1c00ff 1224px,#3900ff 1226px,#8600ff 1228.5px,#ff4db2 1232px,#ff936c 1236px,#ffc13e 1240px,#ffe619 1245.5px,#fffe01 1252px,#ffff5f 1260.5px,#ffff9b 1270.5px,#ffffc5 1284.5px,#ffffe0 1303.8px,#ffffe6 1303.8px 1321.8px,#fffff3 1321.8px 1363.2px,#fff 1363.2px 1530px)"></i>
<i style="top:1122.14px;height:4.51px;background:linear-gradient(90deg,#fff 0px 1083.8px,#fffff3 1083.8px 1125.2px,#ffffe6 1125.2px 1143.2px,#ffffe0 1143.2px,#ffffc5 1162.5px,#ffff9b 1176.5px,#ffff5f 1186.5px,#fffe01 1195px,#ffe619 1201.5px,#ffc13e 1207px,#ff946b 1211px,#ff4eb1 1215px,#8700ff 1218.5px,#3000ff 1221.5px,#1e00ff 1223px 1224px,#3d00ff 1226px,#8a01fe 1228.5px,#ff4fb0 1232px,#ff956a 1236px,#ffc23d 1240px,#ffe718 1245.5px,#fffe01 1252px,#ffff60 1260.5px,#ffff9c 1270.5px,#ffffc5 1284.5px,#ffffe0 1303.8px,#ffffe6 1303.8px 1321.8px,#fffff3 1321.8px 1363.2px,#fff 1363.2px 1530px)"></i>
<i style="top:1126.15px;height:4.51px;background:linear-gradient(90deg,#fff 0px 1083.8px,#fffff3 1083.8px 1124.8px,#ffffe6 1124.8px 1143.2px,#ffffdf 1143.2px,#ffffc5 1162.5px,#ffff9b 1176.5px,#ffff5a 1187px,#ffff31 1191px,#ffff01 1194.5px,#ffe817 1201px,#ffc53a 1206.5px,#ff926d 1211px,#ff4cb3 1215px,#8500ff 1218.5px,#5400ff 1220px,#3000ff 1221.5px,#1e00ff 1223.5px,#3500ff 1225.5px,#8e04fb 1228.5px,#f647b8 1231.5px,#ff51ae 1232px,#ff9669 1236px,#ffc33c 1240px,#ffe718 1245.5px,#fffe01 1252px,#ffff5c 1260px,#ffff9c 1270.5px,#ffffc5 1284.5px,#ffffe0 1303.8px,#ffffe6 1303.8px 1321.8px,#fffff3 1321.8px 1363.2px,#fff 1363.2px 1530px)"></i>
<i style="top:1130.17px;height:4.51px;background:linear-gradient(90deg,#fff 0px 1083.8px,#fffff3 1083.8px 1124.8px,#ffffe6 1124.8px 1143.2px,#ffffdf 1143.2px,#ffffc5 1162.5px,#ffff9b 1176.5px,#ffff5d 1186.5px,#ffff36 1190.5px,#ff0 1194.5px,#ffe817 1201px,#ffc43b 1206.5px,#ff9867 1210.5px,#f5a 1214.5px,#fc4bb4 1215px,#8300ff 1218.5px,#5300ff 1220px,#3000ff 1221.5px,#2000ff 1223.5px,#3800ff 1225.5px,#8000ff 1228px,#fa49b6 1231.5px,#ff53ac 1232px,#ff9768 1236px,#ffc33c 1240px,#ffe817 1245.5px,#ff0 1252px,#ffff35 1256px,#ffff5d 1260px,#ffff9a 1270px,#ffffc5 1284px,#ffffdf 1303.2px,#ffffe6 1303.2px 1321.8px,#fffff3 1321.8px 1362.8px,#fff 1362.8px 1530px)"></i>
<i style="top:1134.18px;height:4.51px;background:linear-gradient(90deg,#fff 0px 1083.8px,#fffff3 1083.8px 1124.8px,#ffffe6 1124.8px 1142.8px,#ffffe0 1142.8px,#ffffc5 1162.5px,#ffff9a 1176.5px,#ffff5d 1186.5px,#ffff35 1190.5px,#ff0 1194.5px,#ffe817 1201px,#ffc33c 1206.5px,#ff9768 1210.5px,#ff54ab 1214.5px,#fa49b6 1215px,#8100ff 1218.5px,#3900ff 1221px,#2400ff 1222.5px,#2100ff 1223.5px,#3b00ff 1225.5px,#8400ff 1228px,#fd4bb4 1231.5px,#ff926d 1235.5px,#ffc43b 1240px,#ffe817 1245.5px,#ff0 1252px,#ffff36 1256px,#ffff5d 1260px,#ffff9b 1270px,#ffffc5 1284px,#ffffdf 1303.2px,#ffffe6 1303.2px 1321.8px,#fffff3 1321.8px 1362.8px,#fff 1362.8px 1530px)"></i>
<i style="top:1138.19px;height:4.51px;background:linear-gradient(90deg,#fff 0px 1083.2px,#fffff3 1083.2px 1124.8px,#ffffe6 1124.8px 1142.8px,#ffffe0 1142.8px,#ffffc5 1162px,#ffff9c 1176px,#ffff5c 1186.5px,#fffe01 1194.5px,#ffe718 1201px,#ffc33c 1206.5px,#ff9669 1210.5px,#ff52ad 1214.5px,#f848b7 1215px,#7f00ff 1218.5px,#3900ff 1221px,#2500ff 1222.5px,#2300ff 1223.5px,#3e00ff 1225.5px,#80f 1228px,#ff4db2 1231.5px,#ff936c 1235.5px,#ffc53a 1240px,#ffe817 1245.5px,#ffff01 1252px,#ffff31 1255.5px,#ffff5a 1259.5px,#ffff9b 1270px,#ffffc5 1284px,#ffffdf 1303.2px,#ffffe6 1303.2px 1321.8px,#fffff3 1321.8px 1362.8px,#fff 1362.8px 1530px)"></i>
<i style="top:1142.2px;height:4.51px;background:linear-gradient(90deg,#fff 0px 1083.2px,#fffff3 1083.2px 1124.8px,#ffffe6 1124.8px 1142.8px,#ffffe0 1142.8px,#ffffc5 1162px,#ffff9c 1176px,#ffff60 1186px,#fffe01 1194.5px,#ffe718 1201px,#ffc23d 1206.5px,#ff956a 1210.5px,#ff51ae 1214.5px,#f647b8 1215px,#7e00ff 1218.5px,#3900ff 1221px,#2600ff 1222.5px,#2500ff 1223.5px,#4200ff 1225.5px,#8c03fc 1228px,#ff4fb0 1231.5px,#ff946b 1235.5px,#ffc13e 1239.5px,#ffe619 1245px,#fffe01 1251.5px,#ffff5f 1260px,#ffff9b 1270px,#ffffc5 1284px,#ffffdf 1303.2px,#ffffe6 1303.2px 1321.8px,#fffff3 1321.8px 1362.8px,#fff 1362.8px 1530px)"></i>
<i style="top:1146.21px;height:4.51px;background:linear-gradient(90deg,#fff 0px 1083.2px,#fffff3 1083.2px 1124.2px,#ffffe6 1124.2px 1142.8px,#ffffdf 1142.8px,#ffffc5 1162px,#ffff9b 1176px,#ffff5f 1186px,#fffe01 1194.5px,#ffe619 1201px,#ffc23d 1206.5px,#ff946b 1210.5px,#ff50af 1214.5px,#8d04fb 1218px,#7d00ff 1218.5px,#3900ff 1221px,#2700ff 1222.5px 1223.5px,#4500ff 1225.5px,#7f00ff 1227.5px,#f647b8 1231px,#ff51ae 1231.5px,#ff956a 1235.5px,#ffc23d 1239.5px,#ffe718 1245px,#fffe01 1251.5px,#ffff5f 1260px,#ffff9b 1270px,#ffffc5 1284px,#ffffe0 1303.2px,#ffffe6 1303.2px 1321.8px,#fffff3 1321.8px 1362.8px,#fff 1362.8px 1530px)"></i>
<i style="top:1150.23px;height:4.51px;background:linear-gradient(90deg,#fff 0px 1083.2px,#fffff3 1083.2px 1124.2px,#ffffe6 1124.2px 1142.8px,#ffffdf 1142.8px,#ffffc5 1162px,#ffff9b 1176px,#ffff5e 1186px,#fffe01 1194.5px,#ffe619 1201px,#ffc13e 1206.5px,#ff946b 1210.5px,#ff4fb0 1214.5px,#8c03fc 1218px,#7b00ff 1218.5px,#3900ff 1221px,#2800ff 1222.5px,#2a00ff 1223.5px,#4800ff 1225.5px,#8200ff 1227.5px,#f949b6 1231px,#ff53ac 1231.5px,#ff9669 1235.5px,#ffc33c 1239.5px,#ffe718 1245px,#fffe01 1251.5px,#ffff3a 1256px,#ffff60 1260px,#ffff9c 1270px,#ffffc5 1284px,#ffffe0 1303.2px,#ffffe6 1303.2px 1321.2px,#fffff3 1321.2px 1362.8px,#fff 1362.8px 1530px)"></i>
<i style="top:1154.24px;height:4.51px;background:linear-gradient(90deg,#fff 0px 1083.2px,#fffff3 1083.2px 1124.2px,#ffffe6 1124.2px 1142.8px,#ffffdf 1142.8px,#ffffc5 1162px,#ffff9b 1176px,#ffff59 1186.5px,#ffff31 1190.5px,#ff0 1194px,#ffe817 1200.5px,#ffc53a 1206px,#ff936c 1210.5px,#ff4eb1 1214.5px,#8b02fd 1218px,#7a00ff 1218.5px,#3a00ff 1221px,#2a00ff 1223px,#4000ff 1225px,#8600ff 1227.5px,#fc4bb4 1231px,#ff916e 1235px,#ffc43b 1239.5px,#ffe718 1245px,#ff0 1251.5px,#ffff35 1255.5px,#ffff5c 1259.5px,#ffff9a 1269.5px,#ffffc4 1283.5px,#ffffe0 1303.2px,#ffffe6 1303.2px 1321.2px,#fffff3 1321.2px 1362.8px,#fff 1362.8px 1530px)"></i>
<i style="top:1158.25px;height:4.51px;background:linear-gradient(90deg,#fff 0px 1082.8px,#fffff3 1082.8px 1124.2px,#ffffe6 1124.2px 1142.2px,#ffffe0 1142.2px,#ffffc5 1162px,#ffff9a 1176px,#ffff5d 1186px,#ffff36 1190px,#ff0 1194px,#ffe817 1200.5px,#ffc43b 1206px,#ff926d 1210.5px,#ff4db2 1214.5px,#8a02fd 1218px,#7a00ff 1218.5px,#3b00ff 1221px,#2c00ff 1223px,#40f 1225px,#8901fe 1227.5px,#ff4cb3 1231px,#ff926d 1235px,#ffc43b 1239.5px,#ffe817 1245px,#ff0 1251.5px,#ffff35 1255.5px,#ffff5d 1259.5px,#ffff9a 1269.5px,#ffffc5 1283.5px,#ffffe0 1303.2px,#ffffe6 1303.2px 1321.2px,#fffff3 1321.2px 1362.8px,#fff 1362.8px 1530px)"></i>
<i style="top:1162.26px;height:4.51px;background:linear-gradient(90deg,#fff 0px 1082.8px,#fffff3 1082.8px 1124.2px,#ffffe6 1124.2px 1142.2px,#ffffe0 1142.2px,#ffffc4 1162px,#ffff9a 1176px,#ffff5c 1186px,#ffff35 1190px,#ff0 1194px,#ffe817 1200.5px,#ffc43b 1206px,#ff916e 1210.5px,#fe4cb3 1214.5px,#8901fe 1218px,#7900ff 1218.5px,#3b00ff 1221px,#2e00ff 1223px,#4700ff 1225px,#8d04fb 1227.5px,#ff4eb1 1231px,#ff936c 1235px,#ffc53a 1239.5px,#ffe817 1245px,#ff0 1251.5px,#ffff30 1255px,#ffff5e 1259.5px,#ffff9a 1269.5px,#ffffc5 1283.5px,#ffffdf 1302.8px,#ffffe6 1302.8px 1321.2px,#fffff3 1321.2px 1362.8px,#fff 1362.8px 1530px)"></i>
<i style="top:1166.27px;height:4.51px;background:linear-gradient(90deg,#fff 0px 1082.8px,#fffff3 1082.8px 1123.8px,#ffffe6 1123.8px 1142.2px,#ffffe0 1142.2px,#ffffc5 1161.5px,#ffff9c 1175.5px,#ffff60 1185.5px,#ffff39 1189.5px,#fffe01 1194px,#ffe718 1200.5px,#ffc33c 1206px,#ff906f 1210.5px,#fd4bb4 1214.5px,#8801fe 1218px,#7900ff 1218.5px,#3d00ff 1221px,#3100ff 1223px,#4b00ff 1225px,#8100ff 1227px,#ff50af 1231px,#ff946b 1235px,#ffc639 1239.5px,#ffe619 1244.5px,#fffe01 1251px,#ffff5e 1259.5px,#ffff9b 1269.5px,#ffffc5 1283.5px,#ffffdf 1302.8px,#ffffe6 1302.8px 1321.2px,#fffff3 1321.2px 1362.8px,#fff 1362.8px 1530px)"></i>
<i style="top:1170.29px;height:4.51px;background:linear-gradient(90deg,#fff 0px 1082.2px,#fffff3 1082.2px 1123.8px,#ffffe6 1123.8px 1142.2px,#ffffdf 1142.2px,#ffffc5 1161.5px,#ffff9b 1175.5px,#ffff5f 1185.5px,#fffe01 1194px,#ffe718 1200.5px,#ffc738 1205.5px,#ff9768 1210px,#ff54ab 1214px,#fb4ab5 1214.5px,#80f 1218px,#7900ff 1218.5px,#3e00ff 1221px,#3400ff 1223px,#4f00ff 1225px,#8500ff 1227px,#f948b7 1230.5px,#ff52ad 1231px,#ff956a 1235px,#ffc639 1239.5px,#ffe619 1244.5px,#fffe01 1251px,#ffff5e 1259.5px,#ffff9b 1269.5px,#ffffc5 1283.5px,#ffffdf 1302.8px,#ffffe6 1302.8px 1321.2px,#fffff3 1321.2px 1362.8px,#fff 1362.8px 1530px)"></i>
<i style="top:1174.3px;height:4.51px;background:linear-gradient(90deg,#fff 0px 1082.2px,#fffff3 1082.2px 1123.8px,#ffffe6 1123.8px 1142.2px,#ffffdf 1142.2px,#ffffc5 1161.5px,#ffff9b 1175.5px,#ffff5e 1185.5px,#fffe01 1194px,#ffe619 1200.5px,#ffc639 1205.5px,#ff9669 1210px,#ff53ac 1214px,#fa49b6 1214.5px,#80f 1218px,#7900ff 1218.5px,#4000ff 1221px,#3700ff 1223px,#5300ff 1225px,#8a01fe 1227px,#fc4ab5 1230.5px,#ff906f 1234.5px,#ffc33c 1239px,#ffe718 1244.5px,#fffe01 1251px,#ffff5f 1259.5px,#ffff9b 1269.5px,#ffffc5 1283.5px,#ffffdf 1302.8px,#ffffe6 1302.8px 1321.2px,#fffff3 1321.2px 1362.8px,#fff 1362.8px 1530px)"></i>
<i style="top:1178.31px;height:4.51px;background:linear-gradient(90deg,#fff 0px 1082.2px,#fffff3 1082.2px 1123.2px,#ffffe6 1123.2px 1141.8px,#ffffe0 1141.8px,#ffffc4 1161.5px,#ffff9a 1175.5px,#ffff5d 1185.5px,#ffff31 1190px,#ff0 1193.5px,#ffe817 1200px,#ffc639 1205.5px,#ff956a 1210px,#ff52ad 1214px,#f949b6 1214.5px,#80f 1218px,#7900ff 1218.5px,#4300ff 1221px,#3900ff 1222.5px,#3f00ff 1223.5px,#5800ff 1225px,#8e04fb 1227px,#ff4db2 1230.5px,#ff916e 1234.5px,#ffc33c 1239px,#ffe718 1244.5px,#fffe01 1251px,#ffff5f 1259.5px,#ffff9b 1269.5px,#ffffc5 1283.5px,#ffffdf 1302.8px,#ffffe6 1302.8px 1321.2px,#fffff3 1321.2px 1362.8px,#fff 1362.8px 1530px)"></i>
<i style="top:1182.32px;height:4.51px;background:linear-gradient(90deg,#fff 0px 1081.8px,#fffff3 1081.8px 1123.2px,#ffffe6 1123.2px 1141.8px,#ffffdf 1141.8px,#ffffc4 1161.5px,#ffff9a 1175.5px,#ffff5d 1185.5px,#ffff35 1189.5px,#ff0 1193.5px,#ffe817 1200px,#ffc53a 1205.5px,#ff946b 1210px,#ff52ad 1214px,#f848b7 1214.5px,#8801fe 1218px,#7a00ff 1218.5px,#4500ff 1221px,#3d00ff 1222.5px,#4300ff 1223.5px,#5c00ff 1225px,#8300ff 1226.5px,#ff4fb0 1230.5px,#ff926d 1234.5px,#ffc43b 1239px,#ffe718 1244.5px,#fffe01 1251px,#ffff39 1255.5px,#ffff5f 1259.5px,#ffff9b 1269.5px,#ffffc5 1283.5px,#ffffdf 1302.8px,#ffffe6 1302.8px 1321.2px,#fffff3 1321.2px 1362.8px,#fff 1362.8px 1530px)"></i>
<i style="top:1186.33px;height:4.51px;background:linear-gradient(90deg,#fff 0px 1081.8px,#fffff3 1081.8px 1123.2px,#ffffe6 1123.2px 1141.2px,#ffffe0 1141.2px,#ffffc5 1161px,#ffff9b 1175px,#ffff5c 1185.5px,#ffff34 1189.5px,#ff0 1193.5px,#ffe817 1200px,#ffc53a 1205.5px,#ff946b 1210px,#ff51ae 1214px,#f748b7 1214.5px,#8901fe 1218px,#7b00ff 1218.5px,#4800ff 1221px,#4100ff 1222.5px,#4800ff 1223.5px,#6100ff 1225px,#80f 1226.5px,#ff50af 1230.5px,#ff936c 1234.5px,#ffc43b 1239px,#ffe817 1244.5px,#fffe01 1251px,#ffff39 1255.5px,#ffff5f 1259.5px,#ffff9b 1269.5px,#ffffc5 1283.5px,#ffffe0 1303.2px,#ffffe6 1303.2px 1321.2px,#fffff3 1321.2px 1363.2px,#fff 1363.2px 1530px)"></i>
<i style="top:1190.35px;height:4.51px;background:linear-gradient(90deg,#fff 0px 1081.2px,#fffff3 1081.2px 1122.8px,#ffffe6 1122.8px 1141.2px,#ffffe0 1141.2px,#ffffc5 1161px,#ffff9b 1175px,#ffff5f 1185px,#ffff39 1189px,#fffe01 1193.5px,#ffe718 1200px,#ffc43b 1205.5px,#ff936c 1210px,#ff51ae 1214px,#f747b8 1214.5px,#8b02fd 1218px,#7d00ff 1218.5px,#4c00ff 1221px,#4500ff 1222px,#4c00ff 1223.5px,#60f 1225px,#8c03fc 1226.5px,#f949b6 1230px,#ff52ad 1230.5px,#ff946b 1234.5px,#ffc53a 1239px,#ffe817 1244.5px,#ff0 1251px,#ffff5b 1259px,#ffff9b 1269.5px,#ffffc5 1283.5px,#ffffe0 1303.2px,#ffffe6 1303.2px 1321.8px,#fffff3 1321.8px 1363.2px,#fff 1363.2px 1530px)"></i>
<i style="top:1194.36px;height:4.51px;background:linear-gradient(90deg,#fff 0px 1080.8px,#fffff3 1080.8px 1122.8px,#ffffe6 1122.8px 1141.2px,#ffffdf 1141.2px,#ffffc4 1161px,#ffff9a 1175px,#ffff5e 1185px,#fffe01 1193.5px,#ffe718 1200px,#ffc43b 1205.5px,#ff936c 1210px,#ff51ae 1214px,#f747b8 1214.5px,#7f00ff 1218.5px,#4f00ff 1221px,#4900ff 1222px,#5100ff 1223.5px,#6a00ff 1225px,#9106f9 1226.5px,#fc4ab5 1230px,#ff54ab 1230.5px,#ff956a 1234.5px,#ffc53a 1239px,#ffe817 1244.5px,#ff0 1251px,#ffff5b 1259px,#ffff9b 1269.5px,#ffffc5 1283.5px,#ffffe0 1303.2px,#ffffe6 1303.2px 1321.8px,#fffff3 1321.8px 1363.2px,#fff 1363.2px 1530px)"></i>
<i style="top:1198.37px;height:4.51px;background:linear-gradient(90deg,#fff 0px 1080.8px,#fffff3 1080.8px 1122.2px,#ffffe6 1122.2px 1140.8px,#ffffe0 1140.8px,#ffffc5 1160.5px,#ffff9c 1174.5px,#ffff61 1184.5px,#fffe01 1193.5px,#ffe718 1200px,#ffc33c 1205.5px,#ff926d 1210px,#ff51ae 1214px,#f848b7 1214.5px,#8100ff 1218.5px,#5300ff 1221px,#4e00ff 1222px,#5600ff 1223.5px,#8700ff 1226px,#fe4cb3 1230px,#ff956a 1234.5px,#ffc53a 1239px,#ffe817 1244.5px,#ff0 1251px,#ffff5b 1259px,#ffff9b 1269.5px,#ffffc4 1283.5px,#ffffdf 1303.2px,#ffffe6 1303.2px 1321.8px,#fffff3 1321.8px 1363.8px,#fff 1363.8px 1530px)"></i>
<i style="top:1202.38px;height:4.51px;background:linear-gradient(90deg,#fff 0px 1080.2px,#fffff3 1080.2px 1122.2px,#ffffe6 1122.2px 1140.8px,#ffffe0 1140.8px,#ffffc5 1160.5px,#ffff9b 1174.5px,#ffff5d 1185px,#ffff30 1189.5px,#ff0 1193px,#ffe916 1199.5px,#ffc738 1205px,#f96 1209.5px,#ff52ad 1214px,#f948b7 1214.5px,#8400ff 1218.5px,#5800ff 1221px,#5300ff 1222px,#5b00ff 1223.5px,#8b02fd 1226px,#ff4eb1 1230px,#ff9669 1234.5px,#ffc53a 1239px,#ffe817 1244.5px,#fffe01 1251px,#ffff39 1255.5px,#ffff5f 1259.5px,#ffff9a 1269.5px,#ffffc4 1283.5px,#ffffdf 1303.2px,#ffffe6 1303.2px 1322.2px,#fffff3 1322.2px 1363.8px,#fff 1363.8px 1530px)"></i>
<i style="top:1206.39px;height:4.51px;background:linear-gradient(90deg,#fff 0px 1079.8px,#fffff3 1079.8px 1121.8px,#ffffe6 1121.8px 1140.8px,#ffffdf 1140.8px,#ffffc4 1160.5px,#ffff9b 1174.5px,#ffff5c 1185px,#ffff35 1189px,#ff0 1193px,#ffe916 1199.5px,#ffc738 1205px,#f96 1209.5px,#ff53ac 1214px,#fa49b6 1214.5px,#9408f7 1218px,#7c00ff 1219px,#5900ff 1221.5px,#5f00ff 1223.5px,#8f05fa 1226px,#ff4fb0 1230px,#ff9669 1234.5px,#ffc639 1239px,#ffe817 1244.5px,#fffe01 1251px,#ffff5e 1259.5px,#ffff9a 1269.5px,#ffffc5 1284px,#ffffe0 1303.8px,#ffffe6 1303.8px 1322.2px,#fffff3 1322.2px 1364.2px,#fff 1364.2px 1530px)"></i>
<i style="top:1210.4px;height:4.51px;background:linear-gradient(90deg,#fff 0px 1079.8px,#fffff3 1079.8px 1121.8px,#ffffe6 1121.8px 1140.2px,#ffffe0 1140.2px,#ffffc5 1160px,#ffff9b 1174.5px,#ffff5b 1185px,#ffff34 1189px,#ff0 1193px,#ffe916 1199.5px,#ffc738 1205px,#ff9a65 1209.5px,#ff54ab 1214px,#fc4bb4 1214.5px,#8100ff 1219px,#5e00ff 1221.5px,#6400ff 1223.5px,#8700ff 1225.5px,#ff50af 1230px,#ff9669 1234.5px,#ffc53a 1239px,#ffe817 1244.5px,#fffe01 1251px,#ffff5e 1259.5px,#ffff9c 1270px,#ffffc5 1284px,#ffffdf 1303.8px,#ffffe6 1303.8px 1322.8px,#fffff3 1322.8px 1364.8px,#fff 1364.8px 1530px)"></i>
<i style="top:1214.42px;height:4.51px;background:linear-gradient(90deg,#fff 0px 1079.2px,#fffff3 1079.2px 1121.8px,#ffffe6 1121.8px 1140.2px,#ffffe0 1140.2px,#ffffc5 1160px,#ffff9a 1174.5px,#ffff5c 1185px,#ffff35 1189px,#ff0 1193px,#ffe718 1200px,#ffc43b 1205.5px,#ff956a 1210px,#ff4eb1 1214.5px,#8700ff 1219px,#6400ff 1221.5px,#6800ff 1223.5px,#8901fe 1225.5px,#ff4fb0 1230px,#ff956a 1234.5px,#ffc43b 1239px,#ffe718 1244.5px,#ffff01 1251.5px,#ffff30 1255px,#ffff5c 1259.5px,#ffff9b 1270px,#ffffc5 1284.5px,#ffffe0 1304.2px,#ffffe6 1304.2px 1322.8px,#fffff3 1322.8px 1365.2px,#fff 1365.2px 1530px)"></i>
<i style="top:1218.43px;height:4.51px;background:linear-gradient(90deg,#fff 0px 1079.2px,#fffff3 1079.2px 1121.2px,#ffffe6 1121.2px 1140.2px,#ffffdf 1140.2px,#ffffc5 1160px,#ffff9b 1174.5px,#ffff60 1184.5px,#fffe01 1193.5px,#ffe718 1200px,#ffc53a 1205.5px,#ff9768 1210px,#ff52ad 1214.5px,#fa49b6 1215px,#8500ff 1219.5px,#6800ff 1222px,#7100ff 1224px,#8901fe 1225.5px,#ff4db2 1230px,#ff936c 1234.5px,#ffc33c 1239px,#ffe619 1244.5px,#fffe01 1251.5px,#ffff38 1256px,#ffff5e 1260px,#ffff9c 1270.5px,#ffffc5 1285px,#ffffe0 1304.8px,#ffffe6 1304.8px 1323.2px,#fffff3 1323.2px 1365.8px,#fff 1365.8px 1530px)"></i>
<i style="top:1222.44px;height:4.51px;background:linear-gradient(90deg,#fff 0px 1078.8px,#fffff3 1078.8px 1121.2px,#ffffe6 1121.2px 1140.2px,#ffffe0 1140.2px,#ffffc5 1160px,#ffff9b 1174.5px,#ffff5e 1185px,#ffff38 1189px,#ff0 1193.5px,#ffe619 1200.5px,#ffc33c 1206px,#ff956a 1210.5px,#ff4fb0 1215px,#8600ff 1220px,#6d00ff 1222.5px,#7900ff 1224.5px,#9307f8 1226px,#fa4ab5 1230px,#ff52ad 1230.5px,#ff9768 1235px,#ffc53a 1239.5px,#ffe718 1245px,#ff0 1252px,#ffff34 1256px,#ffff5b 1260px,#ffff9a 1270.5px,#ffffc5 1285px,#ffffe0 1305.2px,#ffffe6 1305.2px 1323.8px,#fffff3 1323.8px 1366.2px,#fff 1366.2px 1530px)"></i>
<i style="top:1226.45px;height:4.51px;background:linear-gradient(90deg,#fff 0px 1078.8px,#fffff3 1078.8px 1121.2px,#ffffe6 1121.2px 1140.2px,#ffffe0 1140.2px,#ffffc5 1160.5px,#ffff9a 1175px,#ffff5b 1185.5px,#ffff2f 1190px,#ffff01 1193.5px,#ffe718 1200.5px,#ffc639 1206px,#ff926d 1211px,#ff4db2 1215.5px,#b11be4 1218.5px,#8700ff 1220.5px,#7300ff 1222.5px,#7a00ff 1224.5px,#9b0df2 1226.5px,#ff4eb1 1230.5px,#ff936c 1235px,#ffc23d 1239.5px,#ffe51a 1245px,#fffe01 1252px,#ffff60 1261px,#ffff9c 1271.5px,#ffffc6 1286px,#ffffe0 1305.8px,#ffffe6 1305.8px 1324.8px,#fffff3 1324.8px 1367.2px,#fff 1367.2px 1530px)"></i>
<i style="top:1230.46px;height:4.51px;background:linear-gradient(90deg,#fff 0px 1078.8px,#fffff3 1078.8px 1121.2px,#ffffe6 1121.2px 1140.2px,#ffffe0 1140.2px,#ffffc5 1160.5px,#ffff9b 1175px,#ffff5e 1185.5px,#ffff38 1189.5px,#ff0 1194px,#ffe718 1201px,#ffc53a 1206.5px,#ff9768 1211px,#ff4cb3 1216px,#a614eb 1219.5px,#8400ff 1221.5px,#7800ff 1223.5px,#80f 1225.5px,#ae19e6 1227.5px,#fb4ab5 1230.5px,#ff52ad 1231px,#ff956a 1235.5px,#ffc33c 1240px,#ffe619 1245.5px,#fffe01 1252.5px,#ffff5c 1261px,#ffff9a 1271.5px,#ffffc5 1286px,#ffffe0 1306.2px,#ffffe6 1306.2px 1325.2px,#fffff3 1325.2px 1367.8px,#fff 1367.8px 1530px)"></i>
<i style="top:1234.48px;height:4.51px;background:linear-gradient(90deg,#fff 0px 1078.8px,#fffff3 1078.8px 1121.2px,#ffffe6 1121.2px 1140.8px,#ffffdf 1140.8px,#ffffc5 1160.5px,#ffff9c 1175px,#ffff60 1185.5px,#fffe01 1194.5px,#ffe619 1201.5px,#ffc43b 1207px,#ff9669 1211.5px,#ff4cb3 1216.5px,#a915ea 1220px,#8300ff 1222.5px,#7e00ff 1224px,#8f05fa 1226px,#b51de2 1228px,#ff4db2 1231px,#ff9768 1236px,#ffc43b 1240.5px,#ffe619 1246px,#fffe01 1253px,#ffff5c 1261.5px,#ffff9a 1272px,#ffffc4 1286.5px,#ffffdf 1306.8px,#ffffe6 1306.8px 1325.8px,#fffff3 1325.8px 1368.8px,#fff 1368.8px 1530px)"></i>
<i style="top:1238.49px;height:4.51px;background:linear-gradient(90deg,#fff 0px 1078.8px,#fffff3 1078.8px 1121.8px,#ffffe6 1121.8px 1140.8px,#ffffdf 1140.8px,#ffffc5 1161px,#ffff9b 1175.5px,#ffff5a 1186.5px,#ffff2e 1191px,#ff0 1194.5px,#ffe817 1201.5px,#ffc33c 1207.5px,#ff9669 1212px,#ff4cb3 1217px,#a211ee 1221px,#8500ff 1223.5px,#8600ff 1225px,#9609f6 1226.5px,#ff50af 1231.5px,#f96 1236.5px,#ffc53a 1241px,#ffe619 1246.5px,#fffe01 1253.5px,#ffff3c 1258.5px,#ffff60 1262.5px,#ffff9c 1273px,#ffffc5 1287.5px,#ffffe0 1307.8px,#ffffe6 1307.8px 1326.8px,#fffff3 1326.8px 1369.8px,#fff 1369.8px 1530px)"></i>
<i style="top:1242.5px;height:2.51px;background:linear-gradient(90deg,#fff 0px 1078.8px,#fffff3 1078.8px 1121.8px,#ffffe6 1121.8px 1140.8px,#ffffe0 1140.8px,#ffffc5 1161px,#ffff9c 1175.5px,#ffff60 1186px,#ffff3c 1190px,#fffe01 1195px,#ffe718 1202px,#ffc639 1207.5px,#ff9a65 1212px,#ff53ac 1217px,#fc4bb4 1217.5px,#a311ee 1221.5px,#8f05fa 1223px,#8801fe 1224.5px,#9006f9 1226px,#a513ec 1227.5px,#ff4cb3 1231.5px,#ff956a 1236.5px,#ffc23d 1241px,#ffe718 1247px,#ff0 1254px,#ffff38 1258.5px,#ffff5d 1262.5px,#ffff9a 1273px,#ffffc4 1287.5px,#ffffe0 1308.2px,#ffffe6 1308.2px 1327.2px,#fffff3 1327.2px 1370.2px,#fff 1370.2px 1530px)"></i>
<i style="top:1244.51px;height:2.51px;background:linear-gradient(90deg,#fff 0px 1078.2px,#fffff3 1078.2px 1121.8px,#ffffe6 1121.8px 1140.8px,#ffffe0 1140.8px,#ffffc4 1161.5px,#ffff9a 1176px,#ffff5d 1186.5px,#ff3 1191px,#ff0 1195px,#ffe817 1202px,#ffc33c 1208px,#ff9768 1212.5px,#ff4fb0 1217.5px,#a916e9 1221.5px,#9408f7 1223px,#8c03fc 1224.5px,#9106f9 1226px,#a312ed 1227.5px,#ff52ad 1232px,#ff9867 1237px,#ffc53a 1241.5px,#ffe619 1247px,#fffe01 1254px,#ffff5f 1263px,#ffff9b 1273.5px,#ffffc4 1288px,#ffffe0 1308.8px,#ffffe6 1308.8px 1327.8px,#fffff3 1327.8px 1370.8px,#fff 1370.8px 1530px)"></i>
<i style="top:1246.52px;height:2.51px;background:linear-gradient(90deg,#fff 0px 1078.2px,#fffff3 1078.2px 1121.8px,#ffffe6 1121.8px 1140.8px,#ffffe0 1140.8px,#ffffc4 1161.5px,#ffff9b 1176px,#ffff5f 1186.5px,#fffe01 1195.5px,#ffe619 1202.5px,#ffc53a 1208px,#ff946b 1213px,#ff4cb3 1218px,#a815ea 1222px,#9509f6 1223.5px,#8f05fa 1225px,#960af5 1226.5px,#aa16e9 1228px,#ff4eb1 1232px,#ff956a 1237px,#ffc639 1242px,#ffe718 1247.5px,#fffe01 1254.5px,#ffff3c 1259.5px,#ffff60 1263.5px,#ffff9b 1274px,#ffffc5 1288.5px,#ffffe0 1309.2px,#ffffe6 1309.2px 1328.2px,#fffff3 1328.2px 1371.8px,#fff 1371.8px 1530px)"></i>
<i style="top:1248.53px;height:2.51px;background:linear-gradient(90deg,#fff 0px 1078.2px,#fffff3 1078.2px 1121.8px,#ffffe6 1121.8px 1140.8px,#ffffe0 1140.8px,#ffffc5 1161.5px,#ffff9b 1176px,#ffff5c 1187px,#ffff37 1191px,#ff0 1195.5px,#ffe718 1202.5px,#ffc738 1208px,#ff9867 1213px,#ff52ad 1218px,#fb4ab5 1218.5px,#a815ea 1222.5px,#9307f8 1225px,#970af5 1226.5px,#a815ea 1228px,#fc4bb4 1232px,#ff52ad 1232.5px,#ff9867 1237.5px,#ffc837 1242.5px,#ffe817 1248px,#ff0 1255px,#ffff37 1259.5px,#ffff5c 1263.5px,#ffff9b 1274.5px,#ffffc5 1289px,#ffffe0 1309.8px,#ffffe6 1309.8px 1328.8px,#fffff3 1328.8px 1372.2px,#fff 1372.2px 1530px)"></i>
<i style="top:1250.54px;height:2.51px;background:linear-gradient(90deg,#fff 0px 1077.8px,#fffff3 1077.8px 1121.2px,#ffffe6 1121.2px 1140.8px,#ffffe0 1140.8px,#ffffc6 1161px,#ffff9c 1176px,#ffff5e 1187px,#fffe01 1196px,#ffe619 1203px,#ffc639 1208.5px,#ff9669 1213.5px,#ff50af 1218.5px,#b01ae5 1222.5px,#960af5 1225.5px,#9c0df2 1227px,#ae19e6 1228.5px,#ff4eb1 1232.5px,#ff946b 1237.5px,#ffc53a 1242.5px,#ffe817 1248.5px,#ff0 1255.5px,#ff3 1259.5px,#ffff5d 1264px,#ffff9b 1275px,#ffffc5 1290px,#ffffe0 1310.2px,#ffffe6 1310.2px 1329.8px,#fffff3 1329.8px 1373.2px,#fff 1373.2px 1530px)"></i>
<i style="top:1252.55px;height:2.51px;background:linear-gradient(90deg,#fff 0px 1077.8px,#fffff3 1077.8px 1121.2px,#ffffe6 1121.2px 1140.8px,#ffffda 1140.8px 1152.8px,#ffffd3 1152.8px,#ffffb6 1168px,#ffff8d 1179.5px,#ffff53 1188.5px,#ff0 1196px,#ffe817 1203px,#ffc43b 1209px,#ff946b 1214px,#ff4fb0 1219px,#b11be4 1223px,#9a0cf3 1226px,#ad18e7 1228.5px,#ff51ae 1233px,#ff9669 1238px,#ffc639 1243px,#ffe817 1249px,#ff0 1256px,#ff3 1260px,#ffff59 1264px,#ff9 1275px,#ffffc4 1290px,#ffffdf 1310.8px,#ffffe6 1310.8px 1330.2px,#fffff3 1330.2px 1374.2px,#fff 1374.2px 1530px)"></i>
<i style="top:1254.55px;height:2.51px;background:linear-gradient(90deg,#fff 0px 1077.2px,#fffff3 1077.2px 1121.2px,#ffffe6 1121.2px 1140.8px,#ffffda 1140.8px 1152.8px,#ffffd3 1152.8px,#ffffb7 1168px,#ffff8e 1179.5px,#ff5 1188.5px,#fffe01 1196.5px,#ffe718 1203.5px,#ffc33c 1209.5px,#ff926d 1214.5px,#ff4eb1 1219.5px,#b31ce3 1223.5px,#9e0ff0 1226.5px,#b920df 1229.5px,#ff4db2 1233px,#ff9768 1238.5px,#ffc639 1243.5px,#ffe916 1249.5px,#ff0 1256.5px,#ff3 1260.5px,#ffff5c 1265px,#ffff9b 1276px,#ffffc5 1291px,#ffffe0 1311.8px,#ffffe6 1311.8px 1331.2px,#fffff3 1331.2px 1375.2px,#fff 1375.2px 1530px)"></i>
<i style="top:1256.56px;height:2.51px;background:linear-gradient(90deg,#fff 0px 1076.8px,#fffff3 1076.8px 1121.2px,#ffffe6 1121.2px 1140.8px,#ffffda 1140.8px 1152.8px,#ffffd3 1152.8px,#ffffb7 1168px,#ffff8d 1180px,#ffff53 1189px,#ff0 1196.5px,#ffe817 1203.5px,#ffc639 1209.5px,#ff9768 1214.5px,#ff4eb1 1220px,#b51de2 1224px,#a311ee 1226.5px,#b71ee1 1229.5px,#ff50af 1233.5px,#f96 1239px,#ffc738 1244px,#ffe916 1250px,#ff0 1257px,#ffff54 1264.5px,#ffff8d 1273.5px,#ffffb7 1285.5px,#ffffd3 1300.8px,#ffffda 1300.8px 1312.8px,#ffffe6 1312.8px 1332.2px,#fffff3 1332.2px 1376.2px,#fff 1376.2px 1530px)"></i>
<i style="top:1258.57px;height:2.51px;background:linear-gradient(90deg,#fff 0px 1076.8px,#fffff3 1076.8px 1121.2px,#ffffe6 1121.2px 1140.8px,#ffffda 1140.8px 1152.8px,#ffffd3 1152.8px,#ffffb7 1168px,#ffff8e 1180px,#ff5 1189px,#fffe01 1197px,#ffe718 1204px,#ffc53a 1210px,#ff9669 1215px,#ff4eb1 1220.5px,#b81fe0 1224.5px,#a714eb 1227px,#b51de2 1229.5px,#ff52ad 1234px,#f96 1239.5px,#ffc738 1244.5px,#ffe916 1250.5px,#ff0 1257.5px,#ffff32 1261.5px,#ffff5b 1266px,#ffff9a 1277px,#ffffc4 1292px,#ffffdf 1313.2px,#ffffe6 1313.2px 1333.2px,#fffff3 1333.2px 1377.8px,#fff 1377.8px 1530px)"></i>
<i style="top:1260.58px;height:2.51px;background:linear-gradient(90deg,#fff 0px 1076.2px,#fffff3 1076.2px 1120.8px,#ffffe6 1120.8px 1140.8px,#ffffda 1140.8px 1152.8px,#ffffd3 1152.8px,#ffffb6 1168.5px,#ffff8c 1180.5px,#ffff53 1189.5px,#ff0 1197px,#ffe718 1204.5px,#ffc43b 1210.5px,#ff9669 1215.5px,#ff4fb0 1221px,#bb21de 1225px,#ab17e8 1227.5px,#c024db 1230.5px,#ff4db2 1234px,#ff956a 1239.5px,#ffc43b 1244.5px,#ffe619 1250.5px,#ff0 1258px,#ffff52 1265.5px,#ffff8c 1274.5px,#ffffb6 1286.5px,#ffffd3 1302.2px,#ffffda 1302.2px 1314.2px,#ffffe6 1314.2px 1334.2px,#fffff3 1334.2px 1378.8px,#fff 1378.8px 1530px)"></i>
<i style="top:1262.59px;height:2.51px;background:linear-gradient(90deg,#fff 0px 1075.8px,#fffff3 1075.8px 1120.8px,#ffffe6 1120.8px 1140.8px,#ffffda 1140.8px 1152.8px,#ffffd3 1152.8px,#ffffb7 1168.5px,#ffff8d 1180.5px,#ff5 1189.5px,#ff0 1197.5px,#ffe619 1205px,#ffc43b 1211px,#ff956a 1216px,#ff4fb0 1221.5px,#bf23dc 1225.5px,#b01ae5 1228px,#bf23dc 1230.5px,#ff4fb0 1234.5px,#ff956a 1240px,#ffc43b 1245px,#ffe619 1251px,#ff0 1258.5px,#ff5 1266.5px,#ffff8d 1275.5px,#ffffb7 1287.5px,#ffffd3 1303.2px,#ffffda 1303.2px 1315.2px,#ffffe6 1315.2px 1335.2px,#fffff3 1335.2px 1380.2px,#fff 1380.2px 1530px)"></i>
<i style="top:1264.6px;height:2.51px;background:linear-gradient(90deg,#fff 0px 1075.8px,#fffff3 1075.8px 1120.8px,#ffffe6 1120.8px 1140.8px,#ffffda 1140.8px 1152.8px,#ffffd3 1152.8px,#ffffb7 1168.5px,#ffff8e 1180.5px,#ffff57 1189.5px,#fffe01 1198px,#ffe817 1205px,#ffc738 1211px,#ff9b64 1216px,#ff50af 1222px,#c326d9 1226px,#b51de2 1228.5px,#c426d9 1231px,#ff51ae 1235px,#ff9b64 1241px,#ffc738 1246px,#ffe817 1252px,#fffe01 1259px,#ffff54 1267px,#ffff8f 1276.5px,#ffffb7 1288.5px,#ffffd3 1304.2px,#ffffda 1304.2px 1316.2px,#ffffe6 1316.2px 1336.2px,#fffff3 1336.2px 1381.2px,#fff 1381.2px 1530px)"></i>
<i style="top:1266.61px;height:2.51px;background:linear-gradient(90deg,#fff 0px 1075.2px,#fffff3 1075.2px 1120.8px,#ffffe6 1120.8px 1140.8px,#ffffda 1140.8px 1152.8px,#ffffd3 1152.8px,#ffffb6 1169px,#ffff8d 1181px,#ffff52 1190.5px,#ff0 1198px,#ffe718 1205.5px,#ffc639 1211.5px,#ff9b64 1216.5px,#ff52ad 1222.5px,#c729d6 1226.5px,#ba20df 1229px,#c82ad5 1231.5px,#ff4db2 1235px,#ff9669 1241px,#ffc43b 1246px,#ffe619 1252px,#fffe01 1259.5px,#ffff57 1268px,#ffff8e 1277px,#ffffb7 1289px,#ffffd3 1304.8px,#ffffda 1304.8px 1317.2px,#ffffe6 1317.2px 1337.2px,#fffff3 1337.2px 1382.8px,#fff 1382.8px 1530px)"></i>
<i style="top:1268.62px;height:2.51px;background:linear-gradient(90deg,#fff 0px 1074.8px,#fffff3 1074.8px 1120.8px,#ffffe6 1120.8px 1140.8px,#ffffda 1140.8px 1153.2px,#ffffd3 1153.2px,#ffffb6 1169.5px,#ffff8c 1181.5px,#ffff54 1190.5px,#ff0 1198.5px,#ffe718 1206px,#ffc639 1212px,#ff9b64 1217px,#ff4db2 1223.5px,#cc2cd3 1227px,#bf24db 1229.5px,#cd2dd2 1232px,#ff4fb0 1235.5px,#ff9c63 1242px,#ffc738 1247px,#ffe817 1253px,#ff0 1260.5px,#ffff51 1268px,#ffff8d 1277.5px,#ffffb6 1289.5px,#ffffd3 1305.8px,#ffffda 1305.8px 1317.8px,#ffffe6 1317.8px 1338.2px,#fffff3 1338.2px 1384.2px,#fff 1384.2px 1530px)"></i>
<i style="top:1270.63px;height:2.51px;background:linear-gradient(90deg,#fff 0px 1074.8px,#fffff3 1074.8px 1120.8px,#ffffe6 1120.8px 1140.8px,#ffffda 1140.8px 1153.2px,#ffffd3 1153.2px,#ffffb7 1169px,#ffff8d 1181.5px,#ffff53 1191px,#fffe01 1199px,#ffe718 1206.5px,#ffc639 1212.5px,#ff9b64 1217.5px,#ff50af 1224px,#d12fd0 1227.5px,#c427d8 1230px,#d230cf 1232.5px,#ff51ae 1236px,#ff9c63 1242.5px,#ffc738 1247.5px,#ffe718 1253.5px,#ff0 1261px,#ffff54 1269px,#ffff8e 1278.5px,#ffffb8 1291px,#ffffd3 1306.8px,#ffffda 1306.8px 1318.8px,#ffffe6 1318.8px 1339.2px,#fffff3 1339.2px 1385.2px,#fff 1385.2px 1530px)"></i>
<i style="top:1272.64px;height:2.51px;background:linear-gradient(90deg,#fff 0px 1074.2px,#fffff3 1074.2px 1120.8px,#ffffe6 1120.8px 1141.2px,#ffffda 1141.2px 1153.2px,#ffffd3 1153.2px,#ffffb7 1169.5px,#ffff8d 1182px,#ffff56 1191px,#fffe01 1199.5px,#ffe718 1207px,#ffc738 1213px,#ff9c63 1218px,#ff4db2 1225px,#d733cc 1228px,#ca2bd4 1230.5px,#d633cc 1233px,#ff4db2 1236px,#ff9c63 1243px,#ffc639 1248px,#ffe718 1254px,#fffe01 1261.5px,#ffff56 1270px,#ffff8d 1279px,#ffffb7 1291.5px,#ffffd3 1307.8px,#ffffda 1307.8px 1319.8px,#ffffe6 1319.8px 1340.2px,#fffff3 1340.2px 1386.8px,#fff 1386.8px 1530px)"></i>
<i style="top:1274.65px;height:2.51px;background:linear-gradient(90deg,#fff 0px 1074.2px,#fffff3 1074.2px 1120.8px,#ffffe6 1120.8px 1141.2px,#ffffda 1141.2px 1153.8px,#ffffd3 1153.8px,#ffffb7 1170px,#ffff8c 1182.5px,#ffff52 1192px,#fffe01 1200px,#ffe718 1207.5px,#ffc738 1213.5px,#ff9e61 1218.5px,#ff51ae 1225.5px,#d934cb 1229px,#d02fd0 1231px,#db36c9 1233.5px,#ff4eb1 1236.5px,#ff9c63 1243.5px,#ffc639 1248.5px,#ffe817 1255px,#ff0 1262.5px,#ffff54 1270.5px,#ffff8e 1280px,#ffffb7 1292.5px,#ffffd3 1308.8px,#ffffda 1308.8px 1320.8px,#ffffe6 1320.8px 1341.2px,#fffff3 1341.2px 1387.8px,#fff 1387.8px 1530px)"></i>
<i style="top:1276.65px;height:2.51px;background:linear-gradient(90deg,#fff 0px 1074.8px,#fffff3 1074.8px 1121.2px,#ffffe6 1121.2px 1141.8px,#ffffda 1141.8px 1154.2px,#ffffd3 1154.2px,#ffffb6 1170.5px,#ffff8c 1183px,#ffff53 1192.5px,#ff0 1200.5px,#ffe817 1208px,#ffc936 1214px,#ffa05f 1219px,#ff50af 1226.5px,#dc36c9 1230px,#d733cc 1232px,#e039c6 1234px,#ff50af 1237px,#ffa05f 1244.5px,#ffc837 1249.5px,#ffe817 1255.5px,#fffe01 1263px,#ffff52 1271px,#ffff8c 1280.5px,#ffffb6 1293px,#ffffd3 1309.2px,#ffffda 1309.2px 1321.8px,#ffffe6 1321.8px 1342.2px,#fffff3 1342.2px 1389.2px,#fff 1389.2px 1530px)"></i>
<i style="top:1278.66px;height:2.51px;background:linear-gradient(90deg,#fff 0px 1074.8px,#fffff3 1074.8px 1121.2px,#ffffe6 1121.2px 1142.2px,#ffffda 1142.2px 1154.8px,#ffffd3 1154.8px,#ffffb7 1171px,#ffff8d 1183.5px,#ffff53 1193px,#ff0 1201px,#ffe916 1208.5px,#ffca35 1214.5px,#ffa35c 1219.5px,#fe4cb3 1228px,#e43bc4 1230.5px,#dd37c8 1232.5px,#e53cc3 1234.5px,#ff4db2 1237px,#ff9f60 1245px,#ffcb34 1250.5px,#ffeb14 1257px,#ffff01 1264px,#ffff50 1271.5px,#ffff8d 1281.5px,#ffffb7 1294px,#ffffd3 1310.2px,#ffffda 1310.2px 1322.8px,#ffffe6 1322.8px 1343.2px,#fffff3 1343.2px 1390.2px,#fff 1390.2px 1530px)"></i>
<i style="top:1280.67px;height:2.51px;background:linear-gradient(90deg,#fff 0px 1075.2px,#fffff3 1075.2px 1121.8px,#ffffe6 1121.8px 1142.8px,#ffffda 1142.8px 1155.2px,#ffffd3 1155.2px,#ffffb7 1171.5px,#ffff8d 1184px,#ff5 1193.5px,#fffe01 1202px,#ffe916 1209px,#fc3 1215px,#ffa659 1220px,#ff4db2 1229px,#e43bc4 1233px,#ea3fc0 1235px,#ff4fb0 1237.5px,#ffa35c 1246px,#ffcd32 1251.5px,#ffea15 1257.5px,#ff0 1264.5px,#ffff52 1272.5px,#ffff8c 1282px,#ffffb6 1294.5px,#ffffd3 1311.2px,#ffffda 1311.2px 1323.8px,#ffffe6 1323.8px 1344.2px,#fffff3 1344.2px 1391.2px,#fff 1391.2px 1530px)"></i>
<i style="top:1282.68px;height:2.51px;background:linear-gradient(90deg,#fff 0px 1075.2px,#fffff3 1075.2px 1122.2px,#ffffe6 1122.2px 1143.2px,#ffffda 1143.2px 1155.8px,#ffffd3 1155.8px,#ffffb6 1172.5px,#ffff8c 1185px,#ffff52 1194.5px,#ff0 1202.5px,#ffea15 1209.5px,#ffce31 1215.5px,#ffa55a 1221px,#ff53ac 1229.5px,#eb40bf 1234px,#ff4db2 1237.5px,#ffa758 1247px,#fc3 1252px,#ffe916 1258px,#fffe01 1265px,#ffff54 1273.5px,#ffff8d 1283px,#ffffb6 1295.5px,#ffffd3 1312.2px,#ffffda 1312.2px 1324.8px,#ffffe6 1324.8px 1345.2px,#fffff3 1345.2px 1392.2px,#fff 1392.2px 1530px)"></i>
<i style="top:1284.69px;height:2.51px;background:linear-gradient(90deg,#fff 0px 1076.2px,#fffff3 1076.2px 1122.8px,#ffffe6 1122.8px 1143.8px,#ffffda 1143.8px 1156.2px,#ffffd3 1156.2px,#ffffb6 1173px,#ffff8d 1185.5px,#ffff54 1195px,#fffe01 1203.5px,#ffea15 1210.5px,#ffcd32 1216.5px,#ffa857 1221.5px,#f5a 1230.5px,#f345ba 1234.5px,#ff57a8 1239px,#fa5 1248px,#ffce31 1253px,#ffeb14 1259px,#ff0 1266px,#ffff52 1274px,#ffff8c 1283.5px,#ffffb6 1296px,#ffffd3 1312.8px,#ffffda 1312.8px 1325.2px,#ffffe6 1325.2px 1346.2px,#fffff3 1346.2px 1393.2px,#fff 1393.2px 1530px)"></i>
<svg class="hb" style="top:905.5px" width="1530" height="381.2" viewBox="323 960 1530 381.2"><g fill-rule="evenodd"><path fill="#fffff3" d="M315.6 978l1.1-18 5 0 71.6 40 78.1 41 100.5 50 70.8 33 41.7 18 46.8 19 159.6 62 24.9 9 18.9 6 13.9 3.3 9 0.9 4.5-1.2 1-1 0.5-2-1.4-5-4.3-7-20.4-26-11.8-16-46.1-66.6-16.5-22.8-72.7-91.6-32-43 211.8 0 32.4 36.9 40.5 43 46.5 46.3 31.5 29 28.5 23.9 30 23.1 111 77.4 31.3 20.4 24.2 14 19.4 10 39.1 18.6 52.9 26.4 11.2 4 12.2 3 18.1 3 37.8 5-60.2 0.9-52.5-0.4-367.5 0.3-329.1-0.8-90.9-5.4-55.5-4-45-4.1-45-5.1-48-6.8-40.5-7-39-8.2-46.5-11.2-0.8-18.2-0.2-83 1-23.6 52.1 12.6 39.4 7.9 12 1.6 7.5 0.5 5.6-1 1-1 0.2-1-1.6-3-4.2-4-18.1-13-41.4-26-52.5-31.5-1.4-26.5 1.2-28-1-23 1.2-16.2 32.7 16.2 7.8 3.1 1.9-0.1-2.9-3-8.2-6-31.3-20.7z"/><path fill="#ffffe6" d="M315.7 978l1.3-13.8 43.4 24.8 43.5 24 45 24 54.2 28 92.8 46 38.9 18 43.3 19 130.9 54.6 88.4 38.4 46.9 19 30.6 11 32.6 10 28 7 9 1.5 6 0.4 4-0.9 0.8-1-0.1-2-2.4-4-5.3-6-13.5-12.6-32.1-27.4-26.8-24-14.2-14-15.9-18-20-25-48.5-64-75.6-93-28.4-38 66 0 8 11.5 12 15.5 13.5 15.9 13.5 14.2 1.4-0.1-5.9-8.3-38.3-48.7 111.4 0 31.9 37 40.5 43.9 45 46 33 31.3 28.5 24.7 28.5 22.6 34.5 25.5 73.5 52.8 29.2 19.2 26 15 66.1 33 36.3 17 15.2 5 13.2 3 19.3 3 39.4 5-37.7 0.8-51-0.7-58.5 0.6-208.5-0.5-100.5 0.4-54-0.6-92.3 0-155.2-7.5-72-5.1-76.5-8-93.3-13.4-19.2-2.2-3.2 0.2 1.5 1 6.1 2 12.2 3 20.6 4 60.3 9.2 58.4 6.8 0.1 0.6 9.2 0.4-9.3 0-1.4-0.5-12.8-0.5-24.3-2-48.9-5-39.3-5-39.1-6-33.4-6-33.7-7-101.5-24.3-0.5-87.7 0.5-10.3 112.5 28.3 84.8 20 29.1 6 18.1 3 10.5 0.8 3-0.8 0.1-1-3.4-3-10.5-6-59.7-28.3-46.5-24.1-40.5-22.1-97.5-54.7-1.3-15.8 1.3-16.1 139.5 68.1 31.5 13.9 6 1.9 0.5-0.8-10.1-7-27.9-17-139.5-82.9-0.9-9.1 0.9-8.7 57.1 31.7 105 57 48 25 45.1 22 53.7 24 54.2 22 30.1 11 23.8 8 13.7 4 5.8 1.2 2.7-0.2-1.1-2-8.6-6-32-18-42-21-88.5-42.3-42-21.1-66-35.1-75-42-84-49.5zM886.8 1018l0.4 0-0.2-0.9zM1273.7 1333l7.8 2 6.6 1 7.9 0-16.6-3-3.9-0.4zM1348.3 1337l10.2 2 17.2 2 29.9 2 8.3 0-48.7-5zM533.8 1288l0.7 1 2.7 1 21 6 29 7 28.2 6 51.1 9 58.5 8 57.4 6 51 4 110.5 6 27.1 1.1 15.7-0.1-23.7-2-116.5-7.5-43.5-4-36-4-57-8.1-48-7.9-97.6-17.5-19.2-3z"/><path fill="#ffffda" d="M315.8 979l1.2-11.7 64.6 36.7 62.9 34 73.3 38 70.5 35 67.4 31 139.8 59.4 108 47.6 48 19 44.9 15 73.1 21 16.9 4 12.1 1.6 2.6-0.6-0.9-2-2.1-2-15.4-12-73.6-60-28.6-25-15.1-15-26.9-31-56-72.1-56.1-67.9-22.5-28-25.4-34 47 0 24 31.4 30 35.7 88.5 100.9 21 22.9 19.5 20 25.5 24.1 18 14.9 46.5 35.1 50.8 36 36.7 24 11.9 7 21.8 10 21.4 8 14.7 4 17.7 3 40.4 3 20.1 0.5 4.2-0.5-34-6-18.1-4-21.2-6-18.7-7-23.2-10.8-23.7-13.2-30.3-18.7-24.8-17.3-28.8-22-28.9-24.1-27-23.9-27-25.8-28.5-30.2-48-54.9-28.5-34.1-1.9-3 0.4-0.9 87.7 92.9 27.4 27 25.9 23.7 24 20.4 34.5 25.9 31.5 22.6 44.7 30.4 29.8 18 22.9 13 24.1 11 16.5 6.1 15 4.3 19.5 4 31.5 3.6 39.4 3-31.9 0.6-93-0.1-40.5-0.8-28.5 0.6-29.8-0.3-111.1-7-46.6-2.3-4.2 0.3 5.2 1 17.6 2 79.5 6-57.6 0.5-28.8-0.5-109.3-8-52-5-14.9-2-10.3-2-1.5-1 0.1-1-1.6-1-6.2-2-97.8-26-36.5-9-132.6-31-59.2-15-35.5-10 3.6 0 5.2 1 79.3 16.5 49.5 9.2 16.5 2.5 12 1.1 6.1-0.3 1.1-1-0.5-1-6-4-12.5-6-94.7-40.5-40.5-19-61.5-32-114-62.8-1.1-11.7 1.1-12.2 160.4 81.2 43.7 21 42 19 39 16 65.2 24 51.8 18 16 5 2.6 0-105.7-46.4-37.5-17.1-54-26.1-42-21.9-55.5-31-126-72.9-0.6-5.6 0.6-5.5 154.7 85.5 43.4 23 35.8 18 44.7 21 47.9 21 39.5 16 60 23 58.8 21 59.8 20 78.2 24 40 11 40.4 9 41.7 7 23.6 3 31.6 3 18.9 1.2 10.9-0.2-40.9-4.6-39-5.9-25.5-4.9-39-9.2-54-14.9-42-12.7-33-11.3-33-13.1-42-18.9-88.6-43.5-118.4-55.5-46.5-23.1-48-25-49.5-26.9-46.5-26-84-49.1zM890 960l57.2 0 38.8 45.1 40.5 43.9 45 45.9 37.5 35.1 30 25.4 34.5 26.6 75 55.1 39.9 26.9 20.5 12 26.8 14 50.6 25 19.3 9 12.3 5 13.2 4 13.8 3 19.7 3 40.3 5-31.4 0.7-33-1.1-52.5-5.1-25.5-3-19.5-3.1-22.5-4.7-16.5-4.2-12-3.7-30-12.3-12-5.9-16.5-9.1-36-20.8-21.5-14.7-31.6-25-63.3-56-28.4-27-32.9-35-52.4-59-39.4-47z"/><path fill="#ffffcd" d="M315.9 979l1.1-9.8 62.9 35.8 64.5 35 75.1 39 66.3 33 67.2 31 132 56.5 85.9 38.5 32.5 14 27.2 11 27.1 10 62.9 20 40.5 12 22.3 6 30.5 7 10.8 2 9.8 1.1 1.2-0.1 0.2-1-1.3-1-25.6-14.3-19.2-12.7-63.9-50-24-20-18.2-16-12.2-12-16.4-18-22.4-27-48.7-62.1-66.9-80.9-19.6-25-15.4-21 39 0 22.4 29.5 28.5 34.4 93 106.9 21 23.1 16.5 17.2 27 25.8 18 15 43.5 33.4 51.1 36.7 35.2 23 16 9 28.2 12 22.3 7 21.3 4 22.2 2 36.1 2 40.6 1.1 28.1 1.9-23.6 0.5-108.3-0.5-57.9-4 5.7-0.4 1.7-0.6-61.7-5.5-42-4.9-42-7-52.5-12-64.5-18-51-16.1-40.5-15-46.5-20.1-94.6-45.4-115.4-53.4-58.5-29-48-25.1-57-31-58.5-33-49.5-28.9-10.5-6.3zM895.5 960l47.6 0 38.4 44.9 40.5 44.1 43.5 44.8 36 34.1 31.5 27.2 34.5 26.9 73.5 54.5 38.9 26.5 20.1 12 26.3 14 48.2 24 21.6 10 12.2 5 12.4 4 17.8 4 20.1 3 40.6 5-21.2 0.6-21-0.5-42-3.6-28.5-2.9-22.5-3-16.5-3-18-4.1-15-4-12-4-28.5-12.2-33-17.8-31.5-18.5-28.9-20-32.2-25-55.2-47-17.7-16-16.7-16-34.6-36-49.5-55-39.2-46zM316 1082l1-8.9 172.4 87.9 48.4 23 43.3 19 85.4 33 105.2 39 31.6 11 29.2 9 29.8 8 31.3 7 27.9 4.5 4.5 0.1 1.3-0.6-1.9-1-110.4-36.3-61.5-22.1-39-15.1-39-16-45-19.1-37.5-16.9-36-17.1-36-18-37.5-20.1-39-21.8-127.5-73.4 0-6.2 165 91.2 47.6 24.9 40.9 20 55.3 25 45.5 19 71.8 28 66.4 24 56.5 19 68.4 21 32.7 9 39.5 9 33.8 6 37.6 5 31 3 61 4-1.6 1 6 1 38.6 3-20.1 0-119.9-7.5-109.5-9.6-5.7 0.1-0.3 1 3 1 27.2 5 25.1 3 54.4 5 13.5 2-39.1 0-73.6-5.7-36-3.5-52.5-8.2-49.5-10.1-36-9-85.2-23.5-17.7-6-2.7-2-0.4-3-1.6-2-6.3-4-8.2-4-138.9-57.5-28.5-13.2-37.5-18.7-43.5-23-106.5-58.2z"/><path fill="#ffffc0" d="M316 979l1-8.4 58.6 33.4 64.3 35 76.6 40 66.1 33 69.2 32 124.2 53.4 90.2 40.6 41.9 18 30.6 12 28.5 10 41.1 13 53.5 16 30.6 8 26.3 6 22.3 4 19 2 0.4-1-2-1-20.9-8.6-19.5-9.8-14.4-8.6-14.4-10-45.4-35-28.6-23-26.7-23-20.1-20-25.3-29-54.6-69-64-77-22.2-28-17.7-24 33.7 0 25.2 33.1 30 35.9 90 104 21 23.2 18 18.7 24 22.9 19.5 16.3 43.5 33.5 48 34.6 33.1 21.8 17.7 10 25.6 11 11.4 4 13.7 4 20.8 4 21.7 2 37.5 2.1 67.7 2.9-30.2 0.3-60-1.9-3 0.4-0.5 1.2-25.9 0-24.9-2-32.2-4-56-4.6-42-4.9-42-7-52.5-11.9-64.5-18.1-54-17-40.5-15.1-46.5-20-93.3-44.4-112.2-51.6-57-27.9-46.5-24.1-55.5-29.9-54-30.1-45-25.9-31.5-18.7zM898.8 960l41.4 0 36.8 43.2 39 42.8 46.5 48.1 34.5 33 28.5 24.9 31.5 25.1 76.5 57.3 38.5 26.6 23.1 14 28.2 15 44 22 23.8 11 12.4 5 16.5 5 14.1 3 61.1 8-18.7 0.5-18.2-0.5-58.3-5.5-37.5-5-31.5-7-22.5-7.1-30-13-40.5-22.1-25.5-15.3-28.8-20-32.2-25-56.8-48-31.5-29-35.8-37-49.9-55-41.8-49zM370.7 1065l0.3-0.5 1.5 0.5 96 52.4 43.5 23.1 36 18.1 36 17 46.5 20.7 39 16.2 66 25.9 60 22 55.5 19.1 57 17.9 37.5 11 36 9 33 6.7 31.5 5 33 4 61.1 5.9-2.6 0.4-14.7-0.4-67.8-4.8-37.3-4.2-25.7-4.4-39-9.3-43.5-12-67.5-21.2-49.5-16.9-57-21.2-52.6-21-56.7-24-54.4-25-40.6-20-43.4-23-56.9-32zM316.1 1082l0.9-7.4 162.2 83.4 43.3 21 46.5 21 27 11 64.6 25 126.1 47 27.2 9 26.4 8 55.6 15 25.9 8 16.1 4 21.1 4 19.9 3 66.9 7 24 3-19.7 0-82.1-6.6-34.5-4-45-6.9-40.5-7.9-34.5-8.1-46.5-13-37.4-11.5-9.8-4-17.1-9-18.1-8-79.6-31.6-63-26-22.5-10-27-13-60-30.9-115.5-62.8z"/><path fill="#ffffb4" d="M316.1 979l0.9-7.4 67.5 38.4 72.1 39 85.2 44 67.8 33 41.8 19 121.6 52.5 94.2 42.5 42.2 18 31 12 29 10 67.7 21 31 9 36 9 24.3 5 32.9 5 15.2 1.1 0.9-0.1-1.2-1-26.7-9.4-16.5-7.2-16.5-8.7-15.4-9.7-24.7-18-47.4-37-33.4-28-18-17-19.3-21-17.7-21-49.1-61.8-70-84.2-18.1-23-16.2-22-0.7-1 29.8 0 22.7 30 31.5 38 91.5 106 18 20.1 18 18.9 24 23.3 21 17.8 46.5 35.9 45 32.5 32.6 21.5 17.8 10 25.5 11 11.4 4 13.6 4 20.5 4 21.3 2 58.3 3.4 46.8 1.6-27.3 0.1-27-1.4-40.5-1.1-6.6 0.4 4.1 1-1 1-10.5 0-24.4-2-22.9-3-67.7-5.6-48-5.8-40.5-7-52.5-12.2-63-17.7-51-16.1-40.5-15-49.5-21.2-91.6-43.4-112.4-51.5-55.5-27-46.5-23.9-45-24.1-93-52-52.5-30.8zM901.1 960l37 0 37.4 44 39 42.8 46.5 48.3 34.5 33 28.5 25 30 24 76.5 57.6 36.5 25.3 22.8 14 27.9 15 45.8 23 21.6 10 12.1 5 15.5 5 18.1 4 61.2 8-15.5 0.4-14.7-0.4-66.3-6.4-16.5-2.1-18-3-28.5-6.7-19.5-6.3-30-13-40.5-22-28.5-17.1-31.8-22.4-30.6-24-53.6-45-16.8-15-17.9-17-35.9-37-48.2-53-41.9-49zM316.2 1082l0.8-6.2 159.2 82.2 43.1 21 43.8 20 31.7 13 64.3 25 116.9 44 26.2 9 31.5 10 60 18 27.3 7 19.8 4 25.7 4.2 78 8.8-12.8 0-60-5-45.7-5.7-42-6.7-36-7.2-33-8-34.5-9.7-34.5-11-10.5-4-40.8-17.7-80.7-31.6-54-21.8-28.5-12.2-25.5-11.9-63-32-126-68.1zM1014.9 1327l6.1 0 32.5 4.4 45 4.6-12.2 0-33.1-3-22.2-3z"/><path fill="#ffffa7" d="M316.2 979l0.8-6.5 66 37.5 72 39 81 42 63.1 31 47.9 22 121.5 52.6 95.9 43.4 42.1 18 30.9 12 29 10 70.6 22 31.3 9 36.3 9 25 5 33.5 5 24.5 2 0-1-27.6-8.7-19.5-7.8-18-9-15.7-9.5-24-17-46.5-36-32.8-27-19.9-18-20.7-22-19.7-23-50.2-62.9-70-84.1-18.1-23-16.3-22-0.6-1 26.7 0 18.3 24.4 24 29.5 100.5 117.1 22.5 25.2 21 21.9 21 20.2 15 12.7 31.5 24.9 39 29.1 28.2 20 33.7 22 10.8 6 12.8 6 26.1 10 22 6 20.6 3 30.3 2.5 14.9 0.5-7.4 0.4-24.8-0.4 0.8 1 3 1.1-13.5-0.1-35-4-56.5-4.6-30-3.1-30-3.9-24-3.8-39-8.1-48-12-64.5-18.8-48-16-36-14-42-18.3-85.4-40.4-117.1-53.5-55.5-27-46.5-23.9-45-24.1-91.5-51-54-31.7zM902.9 960l33.5 0 39.1 45.9 42 46.1 43.5 45 34.5 33 28.5 24.9 31.5 25.1 70.5 53.3 38.3 26.7 22.7 14 25.9 14 47.6 24 21.7 10 12.2 5 15.6 5 18.2 4 61.1 8-24.6 0-67.7-6.5-33-5-30-7.2-21-7.1-28.5-12.6-40.5-22-28.5-17.2-31.7-22.4-30.6-24-53.8-45-18-16-16.8-16-38.8-40-48.1-53-40.2-47zM316.3 1082l0.7-5.2 154.7 80.2 44.9 22 39.1 18 31.1 13 58.7 23 113 43 27.7 10 30 10 60.3 19 21.6 6 27.9 6.4 27 4.9 30 4.2 16.9 1.5-10.1 0-51.8-6-34.3-5-36.2-6.5-28.5-6.2-30-7.7-31.5-9.3-25.5-8.6-50.7-20.7-73.8-28.5-52.5-21-36-15-24-11-33-16.1-34.5-17.7-130.5-70.3z"/><path fill="#ffff9b" d="M316.3 979l0.7-5.8 62.9 35.8 73.7 40 80.9 42 63 31 52.3 24 118.7 51.5 91.4 41.5 46.6 20 31.2 12 32.3 11 70.9 22 32.1 9 32.8 8 27.2 5.2 34.5 4.9 27 2.1 2.3-0.2-1.7-1-29.1-8.5-21-8-16.5-8-18-10.5-24.3-17-46.8-36-32.9-27-21.2-19-20.8-22-19.8-23-50.2-62.7-71-85.3-30-39-4.3-6 24.2 0 18.1 24.1 22.5 27.8 112.5 131.1 21 22.9 19.5 19.8 15 14.2 18 15 34.5 27.1 46.5 34.3 39.8 26.7 17.3 10 10.4 5 17 7 24.8 8 20.1 4 23.6 2.4 11.1 0.6-16.9 1 2.4 1-1.1 0.4-10.5-0.4-26-3-58-4.8-30-3.1-30-4-28.5-4.6-46.5-10.1-42-11-64.5-18.9-46.5-15.8-33-13.1-39-16.9-88.5-41.7-115.5-52.6-55.5-26.9-84-43.9-88.5-49-66-38.6zM904.3 960l30.8 0 37.4 44.1 39 43.1 45 46.9 36 34.7 28.5 25.1 30 24.1 75 56.9 34.5 24.1 22.5 14 31.5 17 43.6 22 19.4 9 14.6 6 15.6 5 18.3 4 60.7 8-19.4 0-40.3-3.6-34.5-3.7-27-4.3-28.5-6.9-21-7.1-28.5-12.6-45-24.5-25.5-15.5-30.9-21.8-28.2-22-58.8-49-32.7-30-36.1-37-46.6-51-40.6-47zM316.5 1082l0.5-4.3 121.4 63.3 45.2 23 54.3 26 41.5 18 84.1 33 116.5 44 87.8 29 22.2 6.3 26.5 6.7-5.1 0-19.8-3-40.6-7.9-36-8.9-36-10.7-28.5-10.1-48.5-19.4-82-31.5-52.5-21-28.5-12.1-24-11-34.5-16.9-39-20.1-124.5-66.9z"/><path fill="#ffff8e" d="M316.4 979l0.6-5.2 69 39.2 64.5 35 82.7 43 62.9 31 52.2 24 132.2 57.6 84.2 38.4 44.7 19 34.6 13 36.2 12 68.3 21 38 10.1 31.5 7 31.5 5.3 34.5 3.9 18 0.8 1.2-0.1-1.3-1-26.9-7.4-22.5-7.8-18-8.1-19.5-10.9-25.8-17.8-45.7-35-34.4-28-19.3-17-19.5-20-22.7-26-53.1-66.1-66.8-79.9-30.3-39-7.2-10 22.2 0 19.1 25.5 24 29.5 108 126 18 20 19.5 20.2 16.5 15.9 15 13 40.5 31.9 43.5 32.2 41 27.8 16.9 10 12.3 6 14.4 6 13.8 5 13.3 4 20 4 22.8 2.7 9 0.3-22.5 1.1-80.4-7.1-45.3-5-44.8-7-48.5-10.6-37.5-9.8-64.5-18.9-48-16.3-33-13-39-17-83.9-39.4-120.1-54.6-55.5-26.9-82.5-43-87-48-70.5-41.1zM905.5 960l28.4 0 35.6 42.1 40.5 44.8 45 47 37.5 36.2 27 23.8 30 24.2 73.5 55.9 34.5 24.2 23.7 14.8 27.5 15 45.3 23 33.5 15 14.8 5 16.4 4 18.4 3 47.1 6-12.2 0.1-10.5-0.8-42-3.8-27-3.1-28.5-4.7-28.5-7.3-19.5-6.8-28.5-12.8-40.5-22.1-30-18.2-30.3-21.5-31.9-25-54.1-45-18-16-17.8-17-36-37-46.6-51-40.4-47zM316.6 1082l0.4-3.5 160.7 83.5 47.3 23 40.1 18 83 33 115 44 40.1 14 78.4 26-3.6 0.2-7.6-1.2-37.2-8-28.7-7.7-28.5-9-21-7.7-127.5-49.1-75-30.2-22.5-9.8-31.5-15-64.5-33-117-62.9z"/><path fill="#ffff82" d="M791.1 960l20.3 0 17.1 22.9 22.5 27.8 114 133.3 21 23 19.5 19.9 15 14 18 15.1 34.5 27.1 43.5 32.2 38 25.7 16.5 10 9.8 5 13.7 6 12.9 5 15.4 5 16.9 4 25.7 3-1.9 0.9-3 0.3-7.5 0.1-49.7-4.3-1.3-0.6-9.1-0.4 13.6-0.2 1.8-0.8-28.8-7.6-21-6.9-21-9.1-19.5-10.7-28.7-19.7-54.6-42-26.7-22-17-15-14.8-15-16.4-18-21-25-45.8-57.1-65.2-77.9-19.7-25zM906.5 960l26.5 0 38 44.9 39 43.1 42 44 36 35.1 31.5 27.9 28.5 23 73.5 56 34.1 24 24 15 27.4 15 45.3 23 33.5 15 14.8 5 16.4 4 18.4 3 45.9 6-8.4 0-21.9-1.8-57-5.8-28.5-4.8-28.5-7.2-19.5-7-28.5-12.8-46.5-25.4-26.1-16.2-34.8-25-37.5-30-46.6-39-31.3-29-38.9-40-46.5-51-40.4-47zM316.5 979l0.5-4.6 64.3 36.6 66.2 36 82.6 43 58.5 29 53.9 25 127.5 55.6 84 38.4 34.3 15 29.5 12 30.1 11 33.5 11 55.6 17.2 24 7 31.5 8.1 22.5 5 20.8 3.7-5.8 0.1-8.5-1.1-36.8-6-40.2-8.7-34.5-8.8-52.5-15-42-13.2-33-11.9-34.5-13.9-31.5-13.8-82.3-38.7-120.2-54.5-37.5-17.9-36-18.1-78-41.1-81-44.9-64.5-37.7zM316.7 1082l0.3-2.7 156 81.3 42 20.6 42 19.2 84 33.7 109.5 42.3 27 9.9 63.1 21.7 10.7 4 3.7 2-12.8-2-20.8-5-24.5-7-21.1-7-146.8-55.8-82.2-33.2-51.3-23.9-60.6-31.1-117.9-63.2z"/><path fill="#ffff76" d="M791.9 960l18.7 0 16.4 22 22.5 27.9 115.5 135.2 21 23 19.5 19.8 15 14 18 15 34.5 27 42 31.2 38.2 25.9 16.5 10 9.8 5 16 7 26 9.2 16.2 3.8 25 3-5.2 0.8-9-0.1-40.8-3.7 6.4-1-2.7-1-36.4-9.4-15-5.1-15-6.2-21-10.8-22.3-14.5-21.9-16-46.5-36-25.4-21-16.9-15-14.7-15-16.4-18-21-25-44.4-55.3-66.7-79.7-19.7-25zM907.4 960l24.7 0 38.9 45.9 39 43.1 42 44 36 35 31.5 28 28.5 22.9 70.5 53.8 31.5 22.4 23.1 14.9 24.9 14 50.7 26 33 15 17.4 6 16.4 4 19 3.1 37 4.9-7 0.1-22.5-1.9-52.5-5.6-27-5-27-7.2-12-4.2-13.5-5.6-24-11.3-43.5-23.9-27.6-17.4-34.5-25-49.6-40-37.8-32-26.7-25-36.1-37-46.7-51-38.8-45zM316.5 979l0.5-4 61.6 35 66.1 36 76.5 40 64.2 32 53.7 25 129.4 56.6 97.4 44.4 45.1 19 44 16 89.5 28.2 55.5 14.8-5.6 0-11.3-2-41.5-9-33.1-8.5-52.5-15-34.5-10.8-27-9.4-28.5-11-33-14-97.5-45.3-120-54.4-36-17.1-36-18-70.5-37-78-42.9-78-45.4zM316.8 1083l0.2-2.9 150 78.4 46.5 22.9 39 18 84 33.9 111 43.2 24 8.9 48 16.6 12.3 5-1.8 0.4-3-0.4-12.4-3-20.4-6-17.5-6-145.9-55-53.1-21-31.2-13-45.1-21-49.5-25-134.9-72z"/><path fill="#ffff69" d="M792.6 960l17.3 0 17.1 22.9 22.5 27.9 115.5 135.3 18 19.8 19.5 20 15 14.2 16.5 14 34.5 27.2 46.5 34.6 38.5 26.1 15 9 11.9 6 13.8 6 25.8 9.3 15.7 3.7 24.1 3-11.3 0.4-28.6-2.4-4-1 1.9-1-27.8-6.6-19.5-5.7-12-4.3-13.5-5.7-21-10.9-21.2-13.8-23.2-17-47.7-37-24.2-20-14.6-13-16.9-17-16.2-18-21-25-44.5-55.2-65.1-77.8-19.8-25zM908.2 960l23.2 0 33.6 40 40.5 45.1 43.5 45.7 36 35.3 30 26.9 27 22 69 53 34.5 24.9 24.8 16.1 24.6 14 52.5 27 30.6 14 16.5 6 19.6 5 47.8 7-7.9 0.1-21-1.9-43.5-4.8-27-5.1-28.5-7.8-25.5-10.1-22.5-10.8-43.5-24-29.3-18.6-34.2-25-48.3-39-34.4-29-30.1-28-36.1-37-44.8-49-40.7-47zM316.6 979l0.4-3.5 82.4 46.5 89.9 48 82.7 42 70.5 33 124.5 54.4 97.5 44.6 44.9 19 26.5 10 29.5 10 71.6 22.6 35.2 10.4-4.2 0-10-2-34.1-8-46.9-12.9-39-11.7-27-8.8-25.5-9.3-27-10.7-33-14.2-93.1-43.4-118.4-53.6-37.5-17.9-36-18-70.5-37.1-76.5-42.2-76.5-44.5zM316.9 1083l0.1-1.9 1.7 0.9 142.3 74.6 36 17.9 37.5 17.8 42 18.1 139.4 55.6-1.4 0.3-4.5-1.3-76.5-28-58.4-23-42-18-37.7-18-43.3-22-135-72zM715.9 1267l0.1-0.6 2 0.6z"/><path fill="#ffff5c" d="M793.2 960l16 0 17.8 23.8 22.5 27.8 114 133.6 18 19.9 18 18.6 15 14.5 15 12.9 39 30.9 42 31.3 39 26.7 16.1 10 11.5 6 13.5 6 30.9 11.5 9 2.1 25.8 3.4-10.8 0-22.9-2 0-1-1.1-1.1-27-5.8-21-5.9-13.5-4.7-16.5-7-21-11.2-21.6-14.3-43.9-33-26.7-21-24-20-13.4-12-16.8-17-16.2-18-21-25-44.4-55.1-63.6-75.9-19.9-25zM908.9 960l21.7 0 32.9 39.1 37.5 41.9 43.5 46 37.5 37 28.5 25.8 25.5 21.2 67.5 52.1 34.5 25.3 28 18.6 25.9 15 52.3 27 30.2 14 15.8 6 18.1 5 17.2 3.2 27.1 3.8-7.6 0.1-21-1.9-39-4.7-28.5-5.9-24-7-27-11.1-22.5-11.1-43.5-24.2-29.5-19.2-32.5-24-54.3-44-31.6-27-25.5-24-34.2-35-46.8-51-38.9-45zM316.7 979l0.3-3 78 44 83.8 45 84.1 43 67.5 32 129.1 56.6 94.7 43.4 46.3 20 25.7 10 23.8 8.4 97.5 31.6-3.2 0-9.2-2-31.3-8-42.4-12-36.9-11.4-24-8.3-24-9-54-22.9-82.3-38.4-123.2-55.6-37.5-17.9-36-18-69-36.1-69-37.9-48-27.4-39-23.1-1.5-0.9zM559.8 1206l0.2-0.4 1.8 0.4-0.3 0.4zM564.4 1208l0.1-0.6 2.1 0.6-0.6 0.4zM567 1209l0.5-0.4 1.7 0.4-0.2 0.7zM571.7 1211l0.3-0.7 2.1 0.7-0.6 0.5zM574.1 1212l0.9-0.5 1.7 0.5 25 10-2.7 0zM601.7 1223l0.3-0.7 2.1 0.7-0.6 0.4zM604.4 1224l0.6-0.4 1.7 0.4-0.2 0.5z"/><path fill="#ffff50" d="M793.9 960l14.7 0 18.4 24.6 21 26 109.5 128.6 31.5 34.6 15 15.1 15 14 34.5 28.1 30 23 34.5 25.3 32 21.7 12.8 8 13.3 7 16.9 7.5 21.3 8.5-3.8 0-14.5-3-27-7.6-22.5-9-21-10.9-20.8-13.5-23.3-17-45.3-35-35.9-30-10.7-10-13.5-14-26.5-30-53.5-66-65.3-78-20.6-26zM909.5 960l20.5 0 32 38.1 37.5 42 43.5 46.1 36 35.7 28.5 26 24 20.1 64.5 50 34.5 25.8 28.2 19.2 23.2 14 55.3 29 29.3 14 16.9 7 15.7 5 18.9 4.2 25.5 3.8-7.5 0.1-21-2-34.5-4.6-27-6-22.5-6.9-31.5-13.4-31.5-16.5-33-18.8-29.7-19.9-29.5-22-55.4-45-30.2-26-25.4-24-36-37-46.6-51-40.4-47zM316.8 979l0.2-2.4 88.5 49.7 97.5 51.7 63.1 32 56.7 27 139.7 61.5 88.5 40.6 43.5 19 45 17.3 83.1 27.6-0.6 0.4-3.4-0.4-12.1-3-56.8-16-40.2-13-34.5-12.9-51-21.6-87.1-40.5-112.4-50.6-36-17-40.5-20.1-84-44.1-51-28-49.6-28.2-46.4-27.5zM1225.7 1337l1.8-0.6 3-0.1 17 1.7-2 0.5-4.5-0.1z"/><path fill="#ffff43" d="M794.4 960l13.7 0 18.9 25.3 22.5 27.8 108 126.8 30 33.1 28.5 27.9 18 15.2 31.5 24.9 37.5 28.1 22.5 16 26.7 17.9 13.3 8 14 7.1 27.5 11.9-4.1 0-12.9-2.8-25.5-7.8-21-8.8-21-11.4-26.8-18.2-38.4-29-25.4-20-33.2-28-10.5-10-13.4-14-25.5-29-51.8-63.9-67.1-80.1-19-24zM910.1 960l19.4 0 35.5 42.2 37.5 41.8 43.5 45.9 34.5 34.1 28.5 25.8 24 20 36 28.1 55.5 42.2 28.7 19.9 22.5 14 31.3 17 49.8 25 20.4 9 17.2 6 17.6 4.3 22.7 3.7-7.7 0.1-19.5-1.9-31.5-4.8-28.5-6.8-21-7-30-13.3-40.5-21.7-27.8-16.6-29-20-32.6-25-53.8-44-27.4-24-23.9-23-35.8-37-46.4-51-36.1-42zM316.9 979l0.1-1.6 84 46.9 90 48 64.5 32.9 55.6 26.8 37.5 17 115.4 50.6 85.5 39.4 39 17.1 43.5 17.2 66.7 22.7-0.7 0.4-3-0.4-11.7-3-48-14-32.7-11-33.6-12.8-46.5-19.9-82.4-38.3-123.1-55.5-36-17.2-36-17.9-84-44.2-51-28.1-40.5-23.1-52.2-31zM1236.4 1338l1.6-0.4 7.4 0.4z"/><path fill="#ffff37" d="M795 960l12.5 0 18 24.1 22.5 27.8 106.5 125.3 28.5 31.8 16.5 16.9 13.5 12.9 16.5 14.2 31.5 25.1 40.5 30.4 21 15.1 27.3 18.4 13 8 13.7 7.2 24 10.9-4.5 0-9-2.1-24-7.6-21-9-19.5-10.7-26.1-17.7-40.9-31-25.3-20-29.7-25-10.6-10-13.5-14-25.6-29-50.3-62-69.5-83-19.8-25zM910.6 960l18.3 0 34.6 41.1 37.5 41.9 43.5 46 34.5 34.1 27 24.7 24 20.2 34.5 27 55.5 42.3 29.4 20.7 23.8 15 29.2 16 45 23 24 11 15.7 6 18.9 5.3 20.5 3.7-5.5 0.3-13.4-1.3-19.6-2.6-15-2.8-25.5-6.2-22.5-7.8-16.5-7-15-7.2-42-22.8-25.6-15.6-28.6-20-27.4-21-58.7-48-24-21-24.1-23-35.8-37-46.5-51-36.2-42zM328.8 986l0.2-0.6 1.6 0.6 82.4 45.4 79.5 42.1 64.5 32.9 49.5 23.9 37.5 17.1 121.5 53.4 81 37.4 34.5 15.3 42 17.1 49.1 17.4-1.1 0.4-2.5-0.4-11.1-3-35.7-11-28.6-10-33-13-39.1-16.9-78-36.3-132-59.6-67.8-33.2-77.9-41-80.9-45z"/><path fill="#ffff2a" d="M795.5 960l11.5 0 17 22.8 21 26.2 108 127.1 28.5 31.9 30 30.1 15 13 30 24 61.5 45.9 40.5 27 13.5 7.4 22.5 10.6 0.4 1-6-1-10.9-2.9-19.5-6.8-19.5-8.8-18.4-10.5-26.2-18-43.4-33-31.1-25-21-18-22.8-23-25.5-29-50.1-61.6-68.2-81.4-19.8-25zM911.1 960l17.4 0 33.5 39.9 37.5 42 43.5 46.1 33 32.8 28.5 26.2 22.5 19.1 31.5 24.8 58.5 44.8 30 21.2 23.7 15.1 27.1 15 40.7 21 27.5 13 17.3 7 16.7 5.1 18.8 3.9-0.8 0.5-3-0.1-14.4-1.4-17.1-2.6-15-2.9-25.5-6.8-22.5-8.3-25.5-11.7-48-26.2-24.9-15.5-28.2-20-27-21-57.4-47-23.9-21-23.9-23-35.8-37-43.7-48-38.7-45zM370.6 1010l0.4-0.4 1.2 0.4zM372.2 1011l0.3-0.8 1.7 0.8 73.3 39.4 75 39 42 21.1 39 18.8 42 19.2 121.7 53.5 103.3 47.5 37.5 16 32.5 12.5-1 0.4-5.8-1.4-33.3-11-24-9-31.6-13-31.6-14-76.2-35.4-127.7-57.6-55.3-27-61.7-32-64.4-35zM940.7 1279l0.3-0.4 1.9 0.4z"/><path fill="#ffff1e" d="M796 960l10.5 0 17.5 23.4 22.5 28 105 123.6 28.5 32 30 30.2 18 15.6 31.5 25.2 55.5 41.4 42 28.1 12 6.8 21.2 10.7-3 0-11.5-3-20.2-7.3-18-8.4-18-10.5-24.4-16.8-42.2-32-34.8-28-20.7-18-22.6-23-25.4-29-48.9-60.3-69.3-82.7-19.7-25zM911.6 960l16.4 0 31 37 37.5 42.2 45 47.8 33 32.9 27 24.9 22.5 19.3 30 23.8 60 46 30 21.4 24.4 15.7 24.9 14 42.5 22 25 12 18.9 8 17.3 5.5 16.5 4.1 3.4 0.4-5.8 0-16.7-2-30.4-5.8-24-6.7-25.5-10-22.5-10.7-48-26.5-24.1-15.3-28-20-28.1-22-52.6-43-23.9-21-27.1-26-37.5-39-41.8-46-36.1-42zM417.3 1036l0.2-0.4 1.2 0.4zM418.9 1037l0.1-0.7 1.7 0.7-0.2 0.9zM420.6 1038l1.9 0-0.5 0.6zM422.5 1039l1-0.4 3.1 1.4 104.9 54.6 73.5 35.9 39 17.8 115.5 50.7 91.5 42.4 58 25.6-1 0.4-1.9-0.4-25.3-9-46.3-19-94.5-43.5-127.6-57.5-43.4-21-51-26-52.5-28z"/><path fill="#ff1" d="M796.5 960l9.5 0 17.9 24 21 26 108.1 127.4 28.5 31.8 27 27.2 16.5 14.4 30 24.1 57 42.8 42 28.5 12 7 18.7 9.8-3.6 0-7.3-2-21.3-7.9-18-8.8-17.2-10.3-24.2-17-44.7-34-33.3-27-18.2-16-23.3-24-24.4-28-48.7-59.9-68-81.1-19.8-25zM912 960l15.5 0 34.5 41 33 37 45 47.9 33 33 27 25.1 27 23 82.5 64 25.5 18.5 23 15.5 21.8 13 24.2 13 39.1 20 28.2 13 19.7 7.1 19.2 4.9-6.4 0-14.3-1.9-28.5-5.8-24-7.1-24-9.7-22.5-10.9-46.5-25.7-23.5-14.9-29.3-21-30.5-24-52.4-43-22.6-20-27-26-34.6-36-41.8-46-36.2-42zM480.2 1070l0.3-0.5 3.4 1.5-0.4 0.6zM483.9 1072l1.1-0.3 3 1.3 66 33.5 54 26 33 15 130.6 57.5 107 50-0.6 0.6-1.5-0.4-8.8-3.2-40.8-17-85.4-39.4-121.5-54.6-67.8-33z"/><path fill="#ffff05" d="M797 960l8.5 0 17.9 24 21 26 108.6 128 28.5 31.8 27 27.1 15 13.2 28.5 22.9 57 43 43.5 29.7 27 15.3-3 0.2-7.5-2.2-18.1-7-17.9-8.9-16.5-10.1-22.8-16-43.4-33-33.4-27-19.4-17-22.5-23-25.3-29-48.8-60-67.9-81-19.8-25zM912.5 960l14.6 0 31.9 38 37.5 42.1 42 44.7 33 33.1 27 25.2 25.5 21.8 24 19.2 55.5 42.8 22.5 16.7 25.2 17.4 19.3 12 21.5 12 46.4 24 25.3 12 20 8 20.5 6-6.9 0-13.1-2-29.2-6.5-22.5-7.2-25.5-10.8-34.5-17.9-31.5-17.8-24.2-15.8-28.9-21-45.2-36-36.2-30-22.5-20-23.8-23-37.5-39-41.8-46-36.1-42zM578 1120l1.8 0-0.3 0.4zM582.2 1122l0.3-0.5 1.6 0.5-0.1 0.9zM584.1 1123l2 0-0.6 0.4zM586.3 1124l0.7-0.4 1.4 0.4zM588.2 1125l0.3-0.9 1.9 0.9-0.4 0.8zM590.2 1126l1.3-0.4 1 0.4 42.5 19.5 130.7 57.5 49.4 23 27 13 6 3-0.1 0.4-7.4-2.4-25.4-11-72.2-33.4-106.3-47.6z"/><path fill="#fffe01" d="M797.5 960l7.5 0 17.2 23 20.8 26 109.5 129 28.6 32 25.9 26 15 13.3 28.5 23 52.5 39.8 45 31.1 26.1 15.8-0.6 0.4-2.6-0.4-6.3-2-18.1-7.4-16.5-8.6-15.9-10-22.5-16-44.6-34-31.9-26-18.1-16-23.3-24-24.3-28-47.2-58-67.7-80.7-21-26.6zM912.8 960l13.9 0 33.8 40.2 34.5 38.7 40.5 43.2 34.5 34.8 27 25.2 24 20.8 22.5 18.1 55.5 42.9 25.5 19 23.2 16.1 18.8 12 19.4 11 47.9 25 22.7 11 21 9 21.5 7-0.5 0.5-6-0.4-12-2-28.5-6.6-21-7-25.5-11-36-18.8-30-17.2-25-16.5-30-22-46.2-37-31.4-26-22.4-20-25.9-25-37.3-39-39.1-43-36.1-42zM759.3 1202l0.2-0.4 1.7 0.4-0.2 0.4zM763.6 1204l0.4-0.4 1.6 0.4-0.1 0.6zM768 1206l0.5-0.4 3.6 1.4-0.6 0.4zM772.3 1208l0.7-0.4 3.5 1.4-0.5 0.5zM776.6 1210l0.9-0.4 1.2 0.4zM778.7 1211l0.3-0.8 1.9 0.8-0.4 0.7zM780.8 1212l2.2 0-1 0.4zM783 1213l0.5-0.6 3.8 1.6-0.8 0.5zM787.3 1215l0.7-0.5 3.5 1.5-0.5 0.5zM791.7 1217l0.8-0.4 1.2 0.4zM793.7 1218l0.3-0.7 1.8 0.7-0.3 0.5z"/><path fill="#fffc03" d="M798 960l6.5 0 18.7 25 21 26 63.8 74.6 41.4 49.4 28.4 32 25.5 26 10.8 10 15.4 12.9 25.5 20.4 25.5 19.4 37.5 27.6 31.5 21.4 19.4 12.3-2.1 0-6.3-2-18.5-7.9-16.4-9.1-16.7-11-22-16-43.1-33-30.5-25-16.8-15-22.5-23.3-24.1-27.7-48.8-60-68.1-81.2-19.5-24.7zM913.2 960l13.1 0 26.7 31.9 34.5 39.2 36 38.9 33 34 27 26.1 24 21.7 25.5 21.2 25.5 20 63 48.1 25.6 17.9 22.3 14 27.1 15 50.9 26 24.3 11 25.2 9-10.3-1-10.6-1.9-27-6.7-19.5-6.8-25.5-11.1-37.5-19.8-28.5-16.4-23-15.3-30-22-49.9-40-30-25-22.3-20-25.7-25-37.3-39-39-43-36-42z"/><path fill="#fffa05" d="M798.5 960l5.4 0 17.9 24 21 26 66.7 78 38.5 46 28.3 32 24.4 25 22.3 20 44 35 43 32 51.5 35 1.4 1 0.2 1-11.6-4-14.7-7-14.3-8.3-17.3-11.7-62.2-47.1-30.4-24.9-16.6-15-22.1-23-23.9-27.5-47.6-58.5-67.9-81-19.5-24.7zM913.6 960l12.4 0 28.5 34.1 30 34.1 33 35.8 34.5 35.9 25.5 25 24 22 22.5 19.2 30 23.8 66 50.5 25.1 17.6 20.4 13 26.7 15 50.5 26 25.9 12 23.9 9-4 0-16.8-3-25.7-6.7-16.5-5.9-27-11.9-37.5-19.9-27-15.7-26.7-17.9-29.7-22-44.8-36-30.1-25-22.4-20-26.8-26-36.4-38-39-43-34.5-40z"/><path fill="#fff807" d="M799.3 960l3.9 0 17.2 23 20.9 26 66.7 77.9 38.6 46.1 28.2 32 24.3 25 22.1 20 43.9 35 44.3 33 49 34-1.4 0.3-4.5-1.4-16.5-7.7-13.9-8.2-17.7-12-37.4-27.9-25.5-19.8-28.5-23.5-16.5-14.8-24-25.1-24-27.9-43-53-69.5-82.9-21-26.6zM914 960l11.6 0 25.9 31 31.5 35.9 28.5 31.1 34.5 36.1 24 24 25.5 23.8 19.5 17 28.5 23.1 73.5 56.5 25.5 18 20.8 13.5 30.3 17 46.5 24 25.6 12 22.6 9-4.8 0-10.9-2-14.6-3.5-13.5-3.9-19.5-7.3-24-10.8-39-20.8-25.5-15-27.6-18.7-31.9-24-44.7-36-28.7-24-22.1-20-25.6-25-36.3-38-38.9-43-34.4-40z"/><path fill="#fff609" d="M800 960l2.2 0 0.8 0.8 15.7 21.2 22.7 28 65.1 75.9 47.2 56.1 22.4 25 21.4 22 20.7 19 42.4 34 44 33 41.6 29 7.8 6.1-1.5 0-5.7-2.1-14-7-13.3-8.1-19.5-13.5-58.5-44.6-30-24.7-16.5-15.2-21-22-22.5-25.9-48.7-60-65.3-78-19.5-24.6zM914.3 960l11 0 27.7 33.2 27 30.8 33 36 34.5 36 24 23.8 22.5 21.1 19.5 17.1 27 22 75 57.8 24.3 17.2 19.8 13 27.9 16 48 25 27.3 13 21.6 9-5.4 0-10.1-2-24.4-6.5-25.5-9.9-19.5-9.1-39-20.9-24-14.2-25.7-17.4-32.1-24-44.8-36-28.7-24-22.3-20-25.7-25-39.1-41-38.8-43-34.3-40z"/><path fill="#fff40b" d="M914.7 960l10.2 0 26.6 31.8 30 34.2 33 35.9 31.5 32.9 24 23.9 22.5 21.2 19.5 17.2 25.5 20.8 76.5 59.1 24 17.1 19.6 12.9 23.9 14 49.6 26 26.9 13 22.8 10-0.3 0.4-5.5-0.4-9.6-2-23.9-6.7-24-9.6-21-10-39-21.1-24-14.4-30.6-21.2-28.8-22-44.6-36-27.4-23-20.9-19-25.6-25-34.3-36-39-43-34.4-40zM850.7 1023l0.4 0 0.1 1zM852.2 1025l0.3-0.4 0.2 0.4-0.2 0.8zM853.7 1027l0.3-0.7 0.3 0.7-0.3 0.6zM855.1 1028l0.8 1-0.4 0.4zM856.5 1030l0.5-0.3 0.6 1.3-0.6 0.3zM858 1032l0.5-0.5 0.9 1.5-0.9 0.1zM859.5 1034l0.5-0.8 1.5 1.7 0.6 1.1-0.6 0.7zM862 1037l1-0.3 19.5 22.3 80.2 94 21.3 23 21.2 21 22.1 19 39.2 31 38.9 29 28.8 20 14.7 11-0.9 0.6-4.5-1.6-13.5-7-12-7.5-16.5-11.5-55.5-42.1-27-22-18-15.8-18-18.1-24-26.9-50.4-62.1z"/><path fill="#fff20d" d="M915 960l9.6 0 26.7 32 27.2 31 33 36.1 31.5 33 24 24.1 24 22.6 19.5 17.3 25.5 20.9 75 58.1 24 17.2 20.6 13.7 18.3 11 24 13 40.7 21 38.8 18 0.6 1-6.9-1-13.1-3-21-6.5-28.5-12.1-27-13.9-33-18.3-20.9-13.2-31.1-22-28.3-22-42-34-27.1-23-20.7-19-25.4-25-36-38-36.2-40-34.3-40zM918.2 1103l0.3-0.4 0.2 0.4-0.2 0.7zM919.7 1105l0.3-0.6 0.3 0.6-0.3 0.6zM921.2 1107l0.3-1 0.4 1-0.4 0.6zM922.3 1108l0.7-0.2 0.6 1.2-0.6 0.5zM923.8 1110l0.7-0.4 27.7 32.4 22.5 25 19.5 20 18.1 17 18.1 15 34.2 27 36 27 34.2 24 10.2 8-1.5 0.1-3-1.1-12-6.4-10.6-6.6-16.4-11.5-51-38.5-43.5-36-19.5-19-21-23-22.5-27z"/><path fill="#fff00f" d="M915.4 960l8.8 0 28.5 34 27.2 31 30.1 32.8 31.5 33.1 24 24.1 21 20 22.5 20.1 24 19.8 76.5 59.3 25.5 18.4 20.2 13.4 20.1 12 24.1 13 38.7 20 37.6 18-2.9 0-14-3-12.8-3.6-10.5-3.7-28.5-12.2-27-14.1-28.5-15.7-23.5-14.7-29.7-21-28.4-22-42.1-34-27.2-23-20.8-19-25.5-25-36.1-38-38.8-43-34.2-40zM955.7 1148l0.3-0.2 0.4 1.2-0.4 0.1zM957.1 1150l0.4-0.5 1.5 1.5 0.6 1-0.6 0.8zM959.4 1153l1.1-0.3 19 20.3 17.9 18 22.4 20 48 38 37.5 28 26 18 8.5 7-0.8 0.3-3-1.2-7.7-4.1-25.3-16.9-46.5-35-30-24.1-16.5-14-15-14.1-19.5-20.8z"/><path fill="#fe1" d="M915.7 960l8.2 0 25.9 31 27.1 31 30.1 32.9 31.5 33.2 22.5 22.8 24 23 22.5 20.2 24 19.9 78 60.5 24 17.3 19.7 13.2 18.2 11 23.7 13 40.5 21 37.3 18-4.2 0-16.7-4-12-3.8-12-4.7-27-12.2-40.5-21.7-25.5-15.3-25.3-17.3-22.9-17-36.5-29-33-27-24.3-21-22.3-21-23.8-24-37.6-40-33.1-37-32.3-38zM988.8 1185l0.2-1 0.5 1zM990 1186l0.5-0.4 0.3 0.4-0.3 0.9zM990.7 1187l1.3-0.1 22 20.1 37.3 30 46.3 35 32.7 23 4.5 4-3.3-0.9-4.5-2.5-15-9.7-16.5-11.9-42-31.9-39-32-12-10.9z"/><path fill="#ffec13" d="M916.1 960l7.4 0 26 31 28.9 33 30.1 32.9 31.5 33.1 24 24.2 24 22.8 22.5 20 19.5 16.1 79.5 61.7 22.5 16.2 20.8 14 18.1 11 23.8 13 40.5 21 34.8 17.2-5-0.2-15.8-4-13.7-4.7-16.5-6.8-21-9.9-46.5-25.4-22.7-14.2-27-19-24.9-19-38.6-31-25.4-21-23.9-21-24.1-23-25.4-26-34.4-37-32.9-37-29.7-35zM1044 1233l0.7 0-0.2 0.6zM1045.4 1234l0.6-0.1 1 1.1-1 0zM1047.3 1236l0.2-0.9 0.7 0.9zM1048.7 1237l0.3-0.6 0.6 0.6zM1050 1238l0.5-0.4 0.5 0.4-0.5 0.5zM1051.3 1239l1.1 0-0.4 0.7zM1052.5 1240l1-0.2 4 3.2-1 0.3zM1057.5 1244l0.5-0.7 0.8 0.7-0.8 0.4zM1058.9 1245l0.6-0.5 0.6 0.5-0.6 0.6zM1060.2 1246l0.8-0.4 0.5 0.4-0.5 0.8zM1061.3 1247l1.2-0.3 5.6 4.3-1.1 0.4zM1067.9 1252l0.6-0.8 27.7 20.8 28.5 20 1.3 1-0.5 0.7-15-9.8z"/><path fill="#ffea15" d="M916.4 960l6.8 0 27.7 33 31.7 36 36 39 34.9 36.1 37.5 35.9 18 15.9 18 15 81 63.1 21 15.2 20.3 13.8 14.4 9 19.4 11 49.7 26 32.7 16 1.8 1-0.3 0.8-9.8-1.8-12.7-3.7-30-11.9-31.5-16-34.5-19.2-22.3-14.2-28.1-20-20.8-16-43.6-35-25.2-21-21.4-19-23.9-23-25.3-26-34.3-37-31.1-35-28.5-33.6z"/><path fill="#ffe817" d="M916.8 960l6 0 29.4 35 31.9 36 33.3 36 34.6 35.9 37.5 36 18 16 18 15.1 79.5 62 22.5 16.4 21.4 14.6 16.1 10 19.6 11 47.9 25.1 30.3 14.9 3 2-2.8 0-4.9-1-13.6-3.9-27-10.6-21-10.1-46.5-25.5-23.5-14.9-26.7-19-20.9-16-44.8-36-24.1-20-22.5-20-23.9-23-27.3-28-34.2-37-31.1-35.1-27-31.9z"/><path fill="#ffe619" d="M917.2 960l5.1 0 28.7 34 30.1 34 33.2 36 34.6 36 39.1 37.8 18 16.1 18 15.1 79.5 62.1 22.5 16.5 22.6 15.4 17.8 11 19.7 11 77.2 40-4 0-14.6-4-28.7-11.3-28.5-14.3-39-21.6-23.1-14.8-26.6-19-24.6-19-43.5-35-25-21-21.1-19-25.7-25-25.1-26-33.2-36-31.1-35.2-28.5-33.9z"/><path fill="#ffe41b" d="M917.7 960l4.2 0 30.5 36 28.3 32 33.2 36 31.7 33 39 38 19.9 17.9 18 15.1 79.5 62.2 22.5 16.5 22.2 15.3 17.6 11 19.6 11 77 40-1.4 0.5-3-0.4-11.2-3.1-29.3-11.5-31.5-15.9-37.5-20.9-22.7-14.7-27.9-20-70.2-56-23.7-20-20.8-19-22.5-22-27-28-31.3-34-29.9-33.8-27-32.1z"/><path fill="#ffe21d" d="M918.2 960l3.3 0 27.9 33 30.1 34 31.3 34 31.6 33 20.9 21 19.9 19 18.3 16.5 18 15.3 25.5 20.5 55.5 43 21 15.5 23.3 16.2 15.8 10 17.4 10 77 40 3.4 2 0.2 1-5.7-1-12.9-4-28.5-11.8-36-18.6-30-17.1-22.3-14.5-26.4-19-70.3-56-22.5-19-21-19-23.5-23-27-28-33-35.9-30-34.1-28.5-34z"/><path fill="#ffe01f" d="M919.2 960l1.3 0 1 0.9 24.8 29.1 30.1 34 28.5 31 33.3 35 40.5 40 20.8 19 18.5 15.8 27 21.7 55.5 43.1 19.5 14.4 24.5 17 15.8 10 17.4 10 74.7 39 4.6 3-2 0.1-4.5-1-10-3.1-29-11.9-37.5-19.5-30-17.2-21.9-14.4-26.3-19-24.4-19-49.4-40-25-21.4-21-19.6-24.1-24-28.4-30-34.5-38-28.5-33-25.5-31z"/><path fill="#ffde21" d="M928.7 971l0.3-0.2 0.5 1.2-0.5 0.2zM930 973l0.5-0.5 1.2 1.5-1.2 0.2zM931.4 975l0.6-0.9 54.9 61.9 29.9 32 29.9 31 39.2 38 16.7 15 18.4 15.6 81 63.4 19.5 14.3 22.7 15.7 15.7 10 17.4 10 77.6 41-3.7 0-10.1-3-29.3-12-37.8-19.6-28.7-16.4-21.4-14-26.5-19-67.9-54-23.8-20-21-19-23.7-23.1-24-24.8-31.5-34-28.5-32.2-28.5-33.8z"/><path fill="#ffdc23" d="M940.8 986l0.2-0.4 0.2 0.4-0.2 0.5zM942.2 988l0.3-0.9 0.4 0.9-0.4 0.5zM943.3 989l0.7-0.2 3 3.2 29.5 33 31.4 34 43.4 45 37.5 36 18.1 16 18 15 78.2 61 21.4 15.7 20.8 14.3 16 10 15.7 9 75.5 40-0.5 0.5-3-0.4-7.2-2.1-15.3-5.8-14.4-6.2-38.1-19.8-26.7-15.2-21.6-14-25.3-18-22-17-41.2-33-25.3-21-19.4-17.1-21-19.9-24-24.2-34.5-36.9-28.5-31.8-24-28.1-15-18.6z"/><path fill="#ffda25" d="M955.8 1004l0.2-0.9 0.4 0.9-0.4 0.4zM956.9 1005l0.6-0.2 0.7 1.2-0.7 0.4zM958.3 1007l0.7-0.6 1.5 1.5 51.7 56.1 49.9 51 34.2 32 34.5 29 73.3 57 21.9 16 19 13 15.9 10 16.1 9.2 73 38.8-1 0.6-1.5-0.2-7.9-2.4-26.6-10.8-25.5-13-31.4-17.2-19.6-12-19.5-13.3-21.6-15.7-25.5-20-60.9-49.7-19.5-17.4-21-20.1-30-30.8-31.5-34.1-31.5-35.8z"/><path fill="#ffd827" d="M970.6 1021l0.4-0.5 0.3 0.5-0.3 0.9zM971.4 1022l1.1 0 0.6 1-0.6 0.7zM973 1024l1-0.4 53.1 56.4 40.8 41 36 33 32.8 27 68.3 52.9 39 27.7 27 16.4 73.3 39 3.4 2-0.2 1-15-4.8-21-8.9-25.5-13.1-27.8-15.2-16.7-10-18.5-12.3-22.5-16.1-21-16.2-64.5-52.3-19.5-17-18-16.9-27-27-28.5-30.2-27-30z"/><path fill="#ffd629" d="M985.6 1038l0.4-0.6 0.4 0.6-0.4 0.7zM986.7 1039l0.8-0.1 60.7 63.1 29.9 29 30.2 27 40.8 33 58.3 45 38.5 27 14.6 9.2 16.5 9.4 63.1 33.4 5 3-0.6 0.7-11.9-3.7-21.4-9-50.9-27-16.9-10-16.7-11-21.7-15.4-18-13.6-64.5-51.8-21-18-16.5-15.1-22.5-22-27-28-33-36.2z"/><path fill="#ffd42b" d="M999.3 1053l0.2-0.4 0.2 0.4zM1000.7 1054l0.8 1-0.5 0.2zM1002 1056l0.5-0.4 1.5 1.4 54.9 56 37.5 35 35.9 30 62.9 49 34.1 25 28.2 18.5 22.5 12.9 54 28.6 8.5 5-1 0.5-1.5-0.3-6.7-2.2-21.8-9-47.3-25-17.2-10-15.6-10-20.4-14.2-19.5-14.5-67.5-54.2-34.5-30.1-22.5-21.7-25.5-26.3-28.5-31z"/><path fill="#ffd22d" d="M1015.8 1071l0.2-0.5 0.3 0.5zM1017.1 1072l0.4-0.2 0.6 1.2-0.6 0.1zM1018.6 1074l0.4-0.6 0.4 0.6-0.4 0.8zM1019.4 1075l1.1-0.2 27.8 28.2 22.7 22 34.2 31 33.1 27 64.5 50 30.5 22 24.6 16 23.6 13.4 53.7 28.6 4.8 3.1-2.8-0.1-5.9-2-19.4-8-45.6-24-17.3-10-14.2-9-35.8-25.3-61.5-48.8-39-33-18-16.8-19.5-19.3-25.5-26.7z"/><path fill="#ffd02f" d="M1033.7 1090l0.3-0.5 0.3 0.5-0.3 0.4zM1034.9 1091l0.6-0.2 0.8 1.2-0.8 0.2zM1036.5 1093l0.5-0.7 0.5 0.7-0.5 1zM1037.1 1094l1.4-0.2 38.4 37.2 32.7 29 34.7 28 66.2 51 26.8 19 23.2 14.8 22.5 12.6 48.1 25.6 6.3 4-1.9 0.1-6-2-15-6.1-12.3-6-31.9-17-30.6-18-33.2-23-21-15.9-39-31.2-42-35-33-30.9z"/><path fill="#ffce31" d="M1050.3 1107l0.4 0-0.2 0.4zM1051.6 1108l1 1-0.6 0.2zM1053.1 1110l0.4-0.6 0.4 0.6-0.4 0.8zM1053.9 1111l1.1-0.2 32.4 30.2 31.4 27 67.6 53 27.8 21 24.3 17 19 12.2 19.5 11.2 48.2 25.6 8.5 5 0.8 1-7.3-2-14.4-6-40.3-21-30.8-18-30.7-21-39-29.9-60-49-28.5-25.9-16.5-16.3z"/><path fill="#fc3" d="M1068.2 1125l0.3-0.5 0.4 0.5-0.4 0.5zM1069.3 1126l0.7-0.3 1.5 1.3 27.8 25 31.5 26 63 49 27 20 20.3 14 17.9 11.3 19.5 11.1 42.5 22.6 8.8 5 1.4 1-0.2 0.5-5.7-1.5-14.2-6-40.1-21-27.4-16-28.1-19-34.5-26-57-46.1-28.5-24.8-16.5-15.9z"/><path fill="#ffca35" d="M1083.2 1139l0.5 0-0.2 0.7zM1084.8 1141l0.2-1 0.7 1zM1086 1142l0.5-0.5 0.5 0.5-0.5 0.8zM1086.8 1143l1.2-0.3 39.9 33.3 62.9 49 21.3 16 19.7 14 30.2 19.3 56.8 30.7 9.8 6-2.1 0.1-3-1-12-5.1-34.6-18-29.7-17-24.2-16-30-21.9-54-43.1-28.5-24z"/><path fill="#ffc837" d="M1099.7 1154l0.4 0-0.1 0.7zM1101.2 1155l1 1-0.7 0.2zM1102.5 1157l0.5-0.6 0.6 0.6-0.6 0.6zM1103.6 1158l0.9-0.4 29.2 23.4 64.5 50 36.1 26 29.2 18.5 51.2 27.5 8.7 5 2.5 2-6.9-2-9.1-4-34.4-18-24.6-14-21.9-14.1-22.5-16-28.5-21.9-49.5-40.1z"/><path fill="#ffc639" d="M1117.8 1170l0.2-0.5 0.4 0.5zM1119.1 1171l0.4-0.4 0.4 0.4-0.4 0.4zM1120.4 1172l1 0-0.4 0.8zM1121.3 1173l1.2-0.2 1.5 1.1 72.5 56.1 40.3 29 29.7 18.5 49.5 26.5 6.4 4-0.4 0.4-2-0.4-11.5-4.9-27-14.1-28.5-16-19.5-12.4-21-14.6-22.5-16.9-45-36.1z"/><path fill="#ffc43b" d="M1137.4 1186l0.1-0.4 0.3 0.4zM1138.8 1187l0.2-0.4 0.5 0.4zM1140.1 1188l0.4-0.4 0.4 0.4-0.4 0.4zM1141.3 1189l1.1 0-0.4 0.8zM1142.3 1190l1.2-0.2 3 2.2 56.1 43 38.4 27.1 28.5 17.4 40.4 21.5 8.5 5-0.9 0.5-1.5-0.4-4.9-2.1-25.3-13-25.4-14-22.8-14-17.6-12-27-20z"/><path fill="#ffc23d" d="M1162.8 1206l0.2-0.4 0.4 0.4zM1164.1 1207l0.8 0-0.4 0.4zM1165.4 1208l0.9 0-0.3 0.6zM1166.6 1209l0.9-0.2 3 2.2 40.9 31 34.1 23.5 27 16 41.9 22.5-1.4 0.3-3.3-1.3-25.1-13-27.1-15-16.1-10-31.9-22-21-16zM1314.5 1305l0-0.5 0.3 0.5z"/><path fill="#ffc03f" d="M1203.1 1237l0.5 0-0.1 0.4zM1204.6 1238l0.5 0-0.1 0.6zM1206.4 1240l0.1-0.9 0.6 0.9zM1207.9 1241l0.1-0.6 0.6 0.6zM1209.3 1242l0.2-0.5 0.6 0.5zM1210.7 1243l0.3-0.4 0.5 0.4zM1212.1 1244l0.4-0.4 0.5 0.4zM1215 1246l0.9 0-0.4 0.4zM1216.4 1247l0.9 0-0.3 0.5zM1217.8 1248l1 0-0.3 0.6zM1219.2 1249l1 0-0.2 0.6zM1220.6 1250l1.1 0-0.2 0.8zM1221.9 1251l1.1-0.1 5.9 4.1-1.4 0.1zM1228.8 1256l0.2-0.9 1.2 0.9zM1230.3 1257l0.2-0.8 1 0.8zM1231.8 1258l0.2-0.7 1 0.7zM1233.3 1259l0.2-0.7 0.9 0.7zM1234.8 1260l0.2-0.6 0.9 0.6zM1236.3 1261l0.2-0.6 0.9 0.6zM1237.8 1262l0.2-0.6 0.9 0.6zM1239.3 1263l0.2-0.6 1 0.6zM1240.8 1264l0.2-0.6 1.1 0.6zM1242.3 1265l0.2-0.7 1.2 0.7zM1243.9 1266l0.1-0.8 1.5 0.8zM1245.4 1267l0.1-1 1.5 1 1.6 1-0.1 1zM1248.5 1269l1.6 0-0.1 0.6zM1250.4 1270l1.3 0-0.2 0.5zM1252.2 1271l1.1 0-0.3 0.4zM1253.8 1272l1.1 0-0.4 0.4zM1258.7 1275l0.3-0.4 0.8 0.4zM1260.3 1276l0.2-0.5 1.3 0.5zM1261.9 1277l0.1-0.7 1.6 0.7-0.1 0.5zM1264 1278l1.3 0-0.3 0.4zM1269.2 1281l0.3-0.4 0.9 0.4zM1270.9 1282l0.1-0.4 1.5 0.4 0 0.5zM1272.9 1283l1.3 0-0.2 0.4zM1278.3 1286l0.2-0.4 1.2 0.4zM1280 1287l0-0.4 1.7 0.4-0.2 0.4zM1285.7 1290l0.3-0.4 1.1 0.4zM1287.5 1291l0-0.4 1.7 0.4-0.2 0.4zM1293.3 1294l0.2-0.4 1.4 0.4zM1295 1295l1.7 0-0.2 0.4zM1300.8 1298l0.2-0.4 1.5 0.4 0 0.4zM1302.9 1299l1.4 0-0.3 0.4z"/></g></svg>
</div>
<svg id="ov" width="2448" height="3928" viewBox="0 0 2448 3928">
<rect x="323" y="183" width="1530" height="1" fill="#000" fill-opacity="0.31" shape-rendering="crispEdges"/>
<rect x="323" y="311" width="1530" height="1" fill="#000" fill-opacity="0.13" shape-rendering="crispEdges"/>
<rect x="323" y="440" width="1530" height="1" fill="#000" fill-opacity="0.15" shape-rendering="crispEdges"/>
<rect x="323" y="569" width="1530" height="1" fill="#000" fill-opacity="0.22" shape-rendering="crispEdges"/>
<rect x="323" y="698" width="1530" height="1" fill="#000" fill-opacity="0.14" shape-rendering="crispEdges"/>
<rect x="323" y="826" width="1530" height="1" fill="#000" fill-opacity="0.29" shape-rendering="crispEdges"/>
<rect x="323" y="955" width="1530" height="1" fill="#000" fill-opacity="0.3" shape-rendering="crispEdges"/>
<rect x="323" y="1084" width="1530" height="1" fill="#000" fill-opacity="0.27" shape-rendering="crispEdges"/>
<rect x="323" y="1212" width="1530" height="1" fill="#000" fill-opacity="0.36" shape-rendering="crispEdges"/>
<rect x="323" y="54.5" width="1530" height="1286.7" fill="none" stroke="#000" stroke-width="2.8"/>
<line x1="310.5" x2="323" y1="63.3" y2="63.3" stroke="#000" stroke-width="2.8"/>
<text x="297" y="80.1" font-size="42" font-family="'DejaVu Serif','Liberation Serif',serif" text-anchor="end" fill="#000">0.99900</text>
<line x1="310.5" x2="323" y1="212.6" y2="212.6" stroke="#000" stroke-width="2.8"/>
<text x="297" y="229.4" font-size="42" font-family="'DejaVu Serif','Liberation Serif',serif" text-anchor="end" fill="#000">0.99925</text>
<line x1="310.5" x2="323" y1="361.9" y2="361.9" stroke="#000" stroke-width="2.8"/>
<text x="297" y="378.7" font-size="42" font-family="'DejaVu Serif','Liberation Serif',serif" text-anchor="end" fill="#000">0.99950</text>
<line x1="310.5" x2="323" y1="511.2" y2="511.2" stroke="#000" stroke-width="2.8"/>
<text x="297" y="528" font-size="42" font-family="'DejaVu Serif','Liberation Serif',serif" text-anchor="end" fill="#000">0.99975</text>
<line x1="310.5" x2="323" y1="660.5" y2="660.5" stroke="#000" stroke-width="2.8"/>
<text x="297" y="677.3" font-size="42" font-family="'DejaVu Serif','Liberation Serif',serif" text-anchor="end" fill="#000">1.00000</text>
<line x1="310.5" x2="323" y1="809.8" y2="809.8" stroke="#000" stroke-width="2.8"/>
<text x="297" y="826.6" font-size="42" font-family="'DejaVu Serif','Liberation Serif',serif" text-anchor="end" fill="#000">1.00025</text>
<line x1="310.5" x2="323" y1="959.1" y2="959.1" stroke="#000" stroke-width="2.8"/>
<text x="297" y="975.9" font-size="42" font-family="'DejaVu Serif','Liberation Serif',serif" text-anchor="end" fill="#000">1.00050</text>
<line x1="310.5" x2="323" y1="1108.4" y2="1108.4" stroke="#000" stroke-width="2.8"/>
<text x="297" y="1125.2" font-size="42" font-family="'DejaVu Serif','Liberation Serif',serif" text-anchor="end" fill="#000">1.00075</text>
<line x1="310.5" x2="323" y1="1257.7" y2="1257.7" stroke="#000" stroke-width="2.8"/>
<text x="297" y="1274.5" font-size="42" font-family="'DejaVu Serif','Liberation Serif',serif" text-anchor="end" fill="#000">1.00100</text>
<line x1="1853" x2="1865.5" y1="54.5" y2="54.5" stroke="#000" stroke-width="2.8"/>
<text x="1877.6" y="70.7" font-size="42" font-family="'DejaVu Serif','Liberation Serif',serif" text-anchor="start" fill="#000">0.0023</text>
<line x1="1853" x2="1865.5" y1="183.17" y2="183.17" stroke="#000" stroke-width="2.8"/>
<text x="1877.6" y="199.37" font-size="42" font-family="'DejaVu Serif','Liberation Serif',serif" text-anchor="start" fill="#000">0.0023</text>
<line x1="1853" x2="1865.5" y1="311.84" y2="311.84" stroke="#000" stroke-width="2.8"/>
<text x="1877.6" y="328.04" font-size="42" font-family="'DejaVu Serif','Liberation Serif',serif" text-anchor="start" fill="#000">0.0020</text>
<line x1="1853" x2="1865.5" y1="440.51" y2="440.51" stroke="#000" stroke-width="2.8"/>
<text x="1877.6" y="456.71" font-size="42" font-family="'DejaVu Serif','Liberation Serif',serif" text-anchor="start" fill="#000">0.0018</text>
<line x1="1853" x2="1865.5" y1="569.18" y2="569.18" stroke="#000" stroke-width="2.8"/>
<text x="1877.6" y="585.38" font-size="42" font-family="'DejaVu Serif','Liberation Serif',serif" text-anchor="start" fill="#000">0.0015</text>
<line x1="1853" x2="1865.5" y1="697.85" y2="697.85" stroke="#000" stroke-width="2.8"/>
<text x="1877.6" y="714.05" font-size="42" font-family="'DejaVu Serif','Liberation Serif',serif" text-anchor="start" fill="#000">0.0013</text>
<line x1="1853" x2="1865.5" y1="826.52" y2="826.52" stroke="#000" stroke-width="2.8"/>
<text x="1877.6" y="842.72" font-size="42" font-family="'DejaVu Serif','Liberation Serif',serif" text-anchor="start" fill="#000">0.0010</text>
<line x1="1853" x2="1865.5" y1="955.19" y2="955.19" stroke="#000" stroke-width="2.8"/>
<text x="1877.6" y="971.39" font-size="42" font-family="'DejaVu Serif','Liberation Serif',serif" text-anchor="start" fill="#000">0.0008</text>
<line x1="1853" x2="1865.5" y1="1083.86" y2="1083.86" stroke="#000" stroke-width="2.8"/>
<text x="1877.6" y="1100.06" font-size="42" font-family="'DejaVu Serif','Liberation Serif',serif" text-anchor="start" fill="#000">0.0005</text>
<line x1="1853" x2="1865.5" y1="1212.53" y2="1212.53" stroke="#000" stroke-width="2.8"/>
<text x="1877.6" y="1228.73" font-size="42" font-family="'DejaVu Serif','Liberation Serif',serif" text-anchor="start" fill="#000">0.0003</text>
<line x1="1853" x2="1865.5" y1="1341.2" y2="1341.2" stroke="#000" stroke-width="2.8"/>
<text x="1877.6" y="1357.4" font-size="42" font-family="'DejaVu Serif','Liberation Serif',serif" text-anchor="start" fill="#000">0.0001</text>
<line x1="323.5" x2="323.5" y1="1341.2" y2="1353.2" stroke="#000" stroke-width="2.8"/>
<text x="324.5" y="1398" font-size="42" font-family="'DejaVu Serif','Liberation Serif',serif" text-anchor="middle" fill="#000">145</text>
<line x1="578.17" x2="578.17" y1="1341.2" y2="1353.2" stroke="#000" stroke-width="2.8"/>
<text x="579.17" y="1398" font-size="42" font-family="'DejaVu Serif','Liberation Serif',serif" text-anchor="middle" fill="#000">146</text>
<line x1="832.83" x2="832.83" y1="1341.2" y2="1353.2" stroke="#000" stroke-width="2.8"/>
<text x="833.83" y="1398" font-size="42" font-family="'DejaVu Serif','Liberation Serif',serif" text-anchor="middle" fill="#000">147</text>
<line x1="1087.5" x2="1087.5" y1="1341.2" y2="1353.2" stroke="#000" stroke-width="2.8"/>
<text x="1088.5" y="1398" font-size="42" font-family="'DejaVu Serif','Liberation Serif',serif" text-anchor="middle" fill="#000">148</text>
<line x1="1342.17" x2="1342.17" y1="1341.2" y2="1353.2" stroke="#000" stroke-width="2.8"/>
<text x="1343.17" y="1398" font-size="42" font-family="'DejaVu Serif','Liberation Serif',serif" text-anchor="middle" fill="#000">149</text>
<line x1="1596.83" x2="1596.83" y1="1341.2" y2="1353.2" stroke="#000" stroke-width="2.8"/>
<text x="1597.83" y="1398" font-size="42" font-family="'DejaVu Serif','Liberation Serif',serif" text-anchor="middle" fill="#000">150</text>
<line x1="1851.5" x2="1851.5" y1="1341.2" y2="1353.2" stroke="#000" stroke-width="2.8"/>
<text x="1852.5" y="1398" font-size="42" font-family="'DejaVu Serif','Liberation Serif',serif" text-anchor="middle" fill="#000">151</text>
<text x="1088" y="1457.5" font-size="49.65" font-family="'DejaVu Serif','Liberation Serif',serif" text-anchor="middle" fill="#000">Frequency [MHz]</text>
<text x="98.3" y="698.5" font-size="49.3" font-family="'DejaVu Serif','Liberation Serif',serif" text-anchor="middle" fill="#000" transform="rotate(-90 98.3 698.5)">Cavity Length [m]</text>
<text x="2084.8" y="697.3" font-size="49.3" font-family="'DejaVu Serif','Liberation Serif',serif" text-anchor="middle" fill="#000" transform="rotate(-90 2084.8 697.3)">Cavity g-factor</text>
<text x="574" y="383" font-size="52" font-family="'Liberation Sans',sans-serif" text-anchor="start" fill="#e36c0a" stroke="#e36c0a" stroke-width="1.6" letter-spacing=".35">2nd order</text>
<text x="489" y="1080" font-size="52" font-family="'Liberation Sans',sans-serif" text-anchor="start" fill="#e36c0a" stroke="#e36c0a" stroke-width="1.6" letter-spacing=".35">4th order</text>
<text x="370.7" y="1305" font-size="52" font-family="'Liberation Sans',sans-serif" text-anchor="start" fill="#e36c0a" stroke="#e36c0a" stroke-width="1.6" letter-spacing=".35">6th order</text>
<defs><linearGradient id="cb" x1="0" y1="0" x2="0" y2="1"><stop offset="0" stop-color="#fff"/><stop offset="0.08" stop-color="#ff0"/><stop offset="0.43" stop-color="#ff4cb3"/><stop offset="0.58" stop-color="#8700ff"/><stop offset="0.75" stop-color="#00f"/><stop offset="1" stop-color="#000"/></linearGradient></defs>
<rect x="2181" y="54.9" width="64.3" height="1285.8" fill="url(#cb)" stroke="#000" stroke-width="2.8"/>
<line x1="2245.3" x2="2257.8" y1="1248.5" y2="1248.5" stroke="#000" stroke-width="2.8"/>
<text x="2270" y="1264.7" font-size="42" font-family="'DejaVu Serif','Liberation Serif',serif" text-anchor="start" fill="#000">0.2</text>
<line x1="2245.3" x2="2257.8" y1="1099.2" y2="1099.2" stroke="#000" stroke-width="2.8"/>
<text x="2270" y="1115.4" font-size="42" font-family="'DejaVu Serif','Liberation Serif',serif" text-anchor="start" fill="#000">0.3</text>
<line x1="2245.3" x2="2257.8" y1="949.9" y2="949.9" stroke="#000" stroke-width="2.8"/>
<text x="2270" y="966.1" font-size="42" font-family="'DejaVu Serif','Liberation Serif',serif" text-anchor="start" fill="#000">0.4</text>
<line x1="2245.3" x2="2257.8" y1="800.6" y2="800.6" stroke="#000" stroke-width="2.8"/>
<text x="2270" y="816.8" font-size="42" font-family="'DejaVu Serif','Liberation Serif',serif" text-anchor="start" fill="#000">0.5</text>
<line x1="2245.3" x2="2257.8" y1="651.3" y2="651.3" stroke="#000" stroke-width="2.8"/>
<text x="2270" y="667.5" font-size="42" font-family="'DejaVu Serif','Liberation Serif',serif" text-anchor="start" fill="#000">0.6</text>
<line x1="2245.3" x2="2257.8" y1="502" y2="502" stroke="#000" stroke-width="2.8"/>
<text x="2270" y="518.2" font-size="42" font-family="'DejaVu Serif','Liberation Serif',serif" text-anchor="start" fill="#000">0.7</text>
<line x1="2245.3" x2="2257.8" y1="352.7" y2="352.7" stroke="#000" stroke-width="2.8"/>
<text x="2270" y="368.9" font-size="42" font-family="'DejaVu Serif','Liberation Serif',serif" text-anchor="start" fill="#000">0.8</text>
<line x1="2245.3" x2="2257.8" y1="203.4" y2="203.4" stroke="#000" stroke-width="2.8"/>
<text x="2270" y="219.6" font-size="42" font-family="'DejaVu Serif','Liberation Serif',serif" text-anchor="start" fill="#000">0.9</text>
<text x="2391.5" y="699" font-size="49.3" font-family="'DejaVu Serif','Liberation Serif',serif" text-anchor="middle" fill="#000" transform="rotate(-90 2391.5 699)">Power [W]</text>
<text transform="translate(1177.62 1590.3) scale(0.875 1)" font-size="80.5" font-family="'Liberation Serif',serif" fill="#000">(</text>
<text transform="translate(1237.83 1590.3) scale(0.875 1)" font-size="80.5" font-family="'Liberation Serif',serif" fill="#000">)</text>
<text x="1202.4" y="1589" font-size="72" font-family="'Liberation Serif',serif" font-weight="bold" fill="#000">a</text>
<text transform="translate(1173.52 3894.6) scale(0.875 1)" font-size="80.5" font-family="'Liberation Serif',serif" fill="#000">(</text>
<text transform="translate(1241.93 3894.6) scale(0.875 1)" font-size="80.5" font-family="'Liberation Serif',serif" fill="#000">)</text>
<text x="1195.44" y="3893.3" font-size="80" font-family="'Liberation Serif',serif" font-weight="bold" fill="#000">b</text>
<path d="M562.5 1727V3673.9M823.8 1727V3673.9M1085.1 1727V3673.9M1346.4 1727V3673.9M1607.7 1727V3673.9M301.2 1881.6H1869M301.2 2084.5H1869M301.2 2287.3H1869M301.2 2490.2H1869M301.2 2591.6H1869M301.2 2693.1H1869M301.2 2795.2H1869M301.2 2876.1H1869M301.2 2964.9H1869M301.2 3053.7H1869M301.2 3112.7H1869M301.2 3172.4H1869M301.2 3202.2H1869M301.2 3231.4H1869M301.2 3261.2H1869M301.2 3299.7H1869" fill="none" stroke="#b0b0b0" stroke-width="2"/>
<clipPath id="cpb"><rect x="301.2" y="1727" width="1567.8" height="1946.9"/></clipPath>
<g clip-path="url(#cpb)" fill="none">
<g stroke="#000" stroke-opacity=".88" stroke-width="1.8" stroke-linejoin="round">
<path d="M301.2 1882.8L326.2 1883.2L340.2 1884L344.2 1884.5L348.2 1885.4L356.2 1888.2L359.2 1888.8L362.2 1888.4L371.2 1885.5L378.2 1884.4L385.2 1884.1L398.2 1884.7L408.2 1884.3L414.2 1884.4L419.2 1884.9L424.2 1886L428.2 1887.4L434.2 1890.3L437.2 1890.8L440.2 1890L445.2 1887.5L449.2 1885.9L453.2 1884.9L458.2 1884.1L465.2 1883.6L475.2 1883.2L511.2 1882.8L1054.2 1882.7L1404.2 1882.9L1466.2 1883.3L1506.2 1883.8L1534.2 1884.7L1553.2 1886L1562.2 1887.1L1570.2 1888.6L1576.2 1890.3L1582.2 1892.8L1587.2 1895.8L1591.2 1899.3L1593.2 1901.5L1595.2 1904.2L1597.2 1907.5L1598.2 1909.4L1600.2 1913.8L1601.2 1916.4L1602.2 1919.3L1603.2 1922.5L1604.2 1926.1L1605.2 1930.1L1606.2 1934.6L1607.2 1939.5L1608.2 1945L1609.2 1951.1L1610.2 1957.7L1611.2 1964.8L1612.2 1972.4L1614.2 1988.2L1615.2 1995.8L1616.2 2002.7L1617.2 2008.4L1618.2 2012.4L1619.2 2014.4L1620.2 2014.2L1621.2 2011.8L1622.2 2007.4L1623.2 2001.4L1624.2 1994.3L1627.2 1970.9L1628.2 1963.4L1629.2 1956.3L1630.2 1949.8L1631.2 1943.9L1632.2 1938.5L1633.2 1933.7L1634.2 1929.3L1635.2 1925.4L1636.2 1921.9L1637.2 1918.7L1638.2 1915.9L1640.2 1911.1L1642.2 1907.1L1644.2 1903.9L1646.2 1901.3L1649.2 1898.1L1652.2 1895.7L1656.2 1893.2L1660.2 1891.3L1664.2 1889.9L1669.2 1888.6L1674.2 1887.6L1687.2 1885.9L1704.2 1884.7L1727.2 1883.9L1758.2 1883.4L1868.2 1882.8"/>
<path d="M301.2 2085.5L374.2 2085.8L403.2 2086.4L411.2 2087L417.2 2088L421.2 2089.2L428.2 2092.2L431.2 2092.7L434.2 2092.1L440.2 2089.6L443.2 2088.7L450.2 2087.5L457.2 2087.2L470.2 2087.7L479.2 2087.4L485.2 2087.4L492.2 2088.2L497.2 2089.5L501.2 2091.2L507.2 2094.8L509.2 2095.5L510.2 2095.7L511.2 2095.6L513.2 2094.9L519.2 2091.2L522.2 2089.7L526.2 2088.4L531.2 2087.4L538.2 2086.7L547.2 2086.2L578.2 2085.7L978.2 2085.5L1396.2 2085.8L1456.2 2086.1L1495.2 2086.7L1522.2 2087.5L1541.2 2088.9L1550.2 2090L1558.2 2091.5L1564.2 2093.1L1570.2 2095.6L1575.2 2098.6L1579.2 2102.1L1581.2 2104.3L1583.2 2107L1585.2 2110.2L1586.2 2112.1L1588.2 2116.5L1589.2 2119.1L1590.2 2122L1591.2 2125.2L1592.2 2128.7L1593.2 2132.7L1594.2 2137.1L1595.2 2142.1L1596.2 2147.5L1597.2 2153.5L1598.2 2160.1L1599.2 2167.2L1600.2 2174.8L1602.2 2190.6L1603.2 2198.2L1604.2 2205.1L1605.2 2210.9L1606.2 2215.1L1607.2 2217.2L1608.2 2217.1L1609.2 2214.9L1610.2 2210.6L1611.2 2204.7L1612.2 2197.7L1615.2 2174.3L1616.2 2166.7L1617.2 2159.7L1618.2 2153.1L1619.2 2147.1L1620.2 2141.7L1621.2 2136.8L1622.2 2132.4L1623.2 2128.5L1624.2 2124.9L1625.2 2121.8L1626.2 2118.9L1628.2 2114.1L1630.2 2110.1L1632.2 2106.9L1635.2 2103.1L1638.2 2100.1L1641.2 2097.9L1645.2 2095.6L1649.2 2093.8L1653.2 2092.5L1658.2 2091.2L1664.2 2090.1L1677.2 2088.6L1695.2 2087.4L1719.2 2086.7L1752.2 2086.2L1868.2 2085.7"/>
<path d="M301.2 2288.4L432.2 2288.6L458.2 2288.8L474.2 2289.2L485.2 2290L492.2 2291.3L497.2 2293.1L504.2 2296.9L506.2 2297.5L507.2 2297.6L508.2 2297.5L510.2 2296.8L516.2 2293.6L519.2 2292.3L523.2 2291.2L527.2 2290.6L536.2 2290.1L550.2 2290.6L560.2 2290.2L566.2 2290.3L574.2 2291.1L580.2 2292.6L583.2 2293.9L585.2 2295.1L591.2 2299.4L593.2 2300.4L594.2 2300.5L595.2 2300.4L597.2 2299.6L603.2 2295.3L607.2 2293L611.2 2291.6L615.2 2290.7L621.2 2289.9L630.2 2289.3L658.2 2288.7L731.2 2288.4L941.2 2288.4L1392.2 2288.7L1448.2 2289L1485.2 2289.6L1511.2 2290.5L1530.2 2291.8L1539.2 2293L1547.2 2294.6L1554.2 2296.7L1559.2 2298.9L1562.2 2300.7L1564.2 2302.2L1566.2 2303.9L1568.2 2305.9L1571.2 2309.8L1573.2 2313L1574.2 2314.9L1576.2 2319.2L1578.2 2324.7L1579.2 2327.8L1580.2 2331.4L1581.2 2335.3L1582.2 2339.7L1583.2 2344.6L1584.2 2350L1585.2 2356L1586.2 2362.5L1587.2 2369.6L1588.2 2377.1L1591.2 2400.6L1592.2 2407.6L1593.2 2413.5L1594.2 2417.7L1595.2 2420L1596.2 2420.1L1597.2 2417.9L1598.2 2413.8L1599.2 2408L1600.2 2401L1601.2 2393.4L1603.2 2377.6L1604.2 2370.1L1605.2 2363L1606.2 2356.4L1607.2 2350.4L1608.2 2344.9L1609.2 2340L1610.2 2335.6L1611.2 2331.6L1612.2 2328L1613.2 2324.8L1614.2 2322L1616.2 2317.1L1618.2 2313.1L1620.2 2309.9L1623.2 2306L1626.2 2303.1L1629.2 2300.8L1633.2 2298.5L1637.2 2296.7L1641.2 2295.4L1646.2 2294.1L1652.2 2293L1666.2 2291.4L1685.2 2290.2L1710.2 2289.5L1744.2 2289L1868.2 2288.5"/>
<path d="M301.2 2491.2L500.2 2491.4L536.2 2491.6L556.2 2492.1L569.2 2493L573.2 2493.6L577.2 2494.6L580.2 2495.6L583.2 2497.1L585.2 2498.3L590.2 2502.1L592.2 2503.1L593.2 2503.4L594.2 2503.4L596.2 2502.7L602.2 2498.4L606.2 2496.1L609.2 2495L613.2 2494L619.2 2493.1L628.2 2492.6L639.2 2492.4L651.2 2492.6L658.2 2493L664.2 2493.6L668.2 2494.4L672.2 2495.5L675.2 2496.8L678.2 2498.6L680.2 2500.2L686.2 2505.8L688.2 2506.8L689.2 2506.8L690.2 2506.6L692.2 2505.3L697.2 2500.5L700.2 2498.1L704.2 2496L708.2 2494.6L714.2 2493.4L722.2 2492.6L733.2 2492L748.2 2491.7L801.2 2491.4L931.2 2491.3L1237.2 2491.3L1385.2 2491.6L1439.2 2491.9L1475.2 2492.5L1500.2 2493.4L1518.2 2494.7L1527.2 2495.8L1535.2 2497.4L1542.2 2499.5L1547.2 2501.8L1550.2 2503.6L1552.2 2505L1554.2 2506.7L1556.2 2508.7L1559.2 2512.5L1561.2 2515.8L1562.2 2517.6L1564.2 2522L1566.2 2527.3L1567.2 2530.5L1568.2 2534L1569.2 2537.9L1570.2 2542.3L1571.2 2547.1L1572.2 2552.5L1573.2 2558.5L1574.2 2565L1575.2 2572L1576.2 2579.5L1579.2 2603L1580.2 2610L1581.2 2616L1582.2 2620.4L1583.2 2622.8L1584.2 2623L1585.2 2621L1586.2 2617L1587.2 2611.3L1588.2 2604.4L1589.2 2596.8L1591.2 2581L1592.2 2573.4L1593.2 2566.3L1594.2 2559.7L1595.2 2553.6L1596.2 2548.1L1597.2 2543.2L1598.2 2538.7L1599.2 2534.7L1600.2 2531.1L1601.2 2527.9L1603.2 2522.4L1605.2 2518L1607.2 2514.4L1609.2 2511.4L1612.2 2507.9L1615.2 2505.2L1618.2 2503.1L1622.2 2500.9L1626.2 2499.3L1631.2 2497.7L1636.2 2496.6L1642.2 2495.6L1657.2 2494L1676.2 2493L1702.2 2492.3L1738.2 2491.9L1868.2 2491.4"/>
<path d="M301.2 2592.7L539.2 2592.8L579.2 2593L601.2 2593.5L615.2 2594.4L620.2 2595.1L624.2 2596.1L629.2 2598.1L632.2 2599.9L637.2 2603.6L639.2 2604.6L640.2 2604.8L641.2 2604.8L643.2 2604L649.2 2599.7L653.2 2597.5L657.2 2596L661.2 2595.2L668.2 2594.3L677.2 2593.9L690.2 2593.7L702.2 2594L710.2 2594.4L716.2 2595.1L721.2 2596L725.2 2597.3L728.2 2598.7L730.2 2600L733.2 2602.5L738.2 2607.4L740.2 2608.6L741.2 2608.8L742.2 2608.6L744.2 2607.5L750.2 2601.7L753.2 2599.4L757.2 2597.3L761.2 2596L767.2 2594.8L774.2 2594.1L784.2 2593.5L799.2 2593.2L849.2 2592.8L966.2 2592.7L1243.2 2592.8L1383.2 2593.1L1434.2 2593.4L1469.2 2593.9L1494.2 2594.8L1512.2 2596.1L1521.2 2597.3L1529.2 2598.8L1536.2 2601L1541.2 2603.2L1544.2 2605L1546.2 2606.4L1548.2 2608.1L1550.2 2610.1L1553.2 2613.9L1555.2 2617.1L1556.2 2619L1558.2 2623.3L1560.2 2628.7L1561.2 2631.8L1562.2 2635.3L1563.2 2639.2L1564.2 2643.6L1565.2 2648.4L1566.2 2653.8L1567.2 2659.7L1568.2 2666.2L1569.2 2673.2L1570.2 2680.7L1573.2 2704.1L1574.2 2711.2L1575.2 2717.2L1576.2 2721.7L1577.2 2724.2L1578.2 2724.5L1579.2 2722.6L1580.2 2718.6L1581.2 2712.9L1582.2 2706.1L1586.2 2675.1L1587.2 2668L1588.2 2661.3L1589.2 2655.3L1590.2 2649.7L1591.2 2644.8L1592.2 2640.3L1593.2 2636.3L1594.2 2632.7L1595.2 2629.4L1597.2 2624L1599.2 2619.5L1601.2 2615.9L1603.2 2612.9L1606.2 2609.4L1609.2 2606.6L1612.2 2604.5L1616.2 2602.3L1620.2 2600.7L1625.2 2599.2L1630.2 2598L1636.2 2597L1651.2 2595.4L1670.2 2594.4L1696.2 2593.7L1733.2 2593.3L1868.2 2592.8"/>
<path d="M301.2 2694.1L575.2 2694.2L620.2 2694.4L644.2 2694.9L659.2 2695.8L664.2 2696.5L668.2 2697.3L672.2 2698.7L675.2 2700.3L683.2 2706.2L685.2 2706.9L686.2 2706.9L687.2 2706.7L689.2 2705.6L694.2 2701.7L698.2 2699.3L702.2 2697.7L706.2 2696.8L713.2 2695.9L723.2 2695.3L737.2 2695.1L751.2 2695.4L759.2 2695.8L766.2 2696.6L771.2 2697.5L775.2 2698.7L778.2 2700.1L781.2 2702.1L784.2 2704.8L789.2 2710.4L791.2 2711.8L792.2 2712.1L793.2 2712L795.2 2710.9L801.2 2704.4L804.2 2701.7L808.2 2699.4L812.2 2697.8L818.2 2696.5L825.2 2695.7L835.2 2695.1L848.2 2694.7L892.2 2694.3L990.2 2694.2L1244.2 2694.2L1380.2 2694.5L1430.2 2694.8L1464.2 2695.4L1488.2 2696.2L1506.2 2697.6L1515.2 2698.7L1523.2 2700.3L1530.2 2702.4L1535.2 2704.6L1538.2 2706.4L1540.2 2707.8L1542.2 2709.5L1544.2 2711.5L1547.2 2715.3L1549.2 2718.5L1550.2 2720.4L1552.2 2724.7L1554.2 2730L1555.2 2733.1L1556.2 2736.6L1557.2 2740.5L1558.2 2744.8L1559.2 2749.7L1560.2 2755L1561.2 2760.9L1562.2 2767.4L1563.2 2774.4L1564.2 2781.9L1567.2 2805.3L1568.2 2812.5L1569.2 2818.5L1570.2 2823L1571.2 2825.6L1572.2 2826L1573.2 2824.1L1574.2 2820.2L1575.2 2814.6L1576.2 2807.8L1577.2 2800.2L1579.2 2784.4L1580.2 2776.8L1581.2 2769.6L1582.2 2763L1583.2 2756.9L1584.2 2751.4L1585.2 2746.4L1586.2 2741.9L1587.2 2737.8L1588.2 2734.2L1589.2 2731L1591.2 2725.5L1593.2 2721L1595.2 2717.4L1598.2 2713.1L1601.2 2709.8L1604.2 2707.3L1607.2 2705.4L1611.2 2703.3L1615.2 2701.8L1620.2 2700.4L1631.2 2698.3L1646.2 2696.8L1666.2 2695.8L1693.2 2695.1L1730.2 2694.7L1864.2 2694.3"/>
<path d="M301.2 2796.2L621.2 2796.3L671.2 2796.5L697.2 2797L713.2 2798L719.2 2798.9L723.2 2799.9L726.2 2801L729.2 2802.5L732.2 2804.7L738.2 2810L740.2 2811L741.2 2811L742.2 2810.8L744.2 2809.6L749.2 2805.1L753.2 2802.2L757.2 2800.4L762.2 2799.1L770.2 2798L780.2 2797.5L795.2 2797.2L811.2 2797.5L820.2 2798L827.2 2798.8L833.2 2800L837.2 2801.5L840.2 2803L843.2 2805.3L846.2 2808.4L851.2 2814.6L853.2 2816.2L854.2 2816.5L855.2 2816.4L856.2 2815.9L857.2 2815L863.2 2807.7L866.2 2804.7L869.2 2802.6L873.2 2800.7L878.2 2799.3L885.2 2798.2L894.2 2797.5L907.2 2797L945.2 2796.5L1025.2 2796.3L1247.2 2796.3L1377.2 2796.6L1426.2 2797L1459.2 2797.5L1483.2 2798.4L1500.2 2799.7L1509.2 2800.8L1517.2 2802.4L1524.2 2804.5L1529.2 2806.7L1532.2 2808.5L1534.2 2809.9L1536.2 2811.6L1538.2 2813.6L1541.2 2817.4L1543.2 2820.6L1544.2 2822.5L1546.2 2826.8L1548.2 2832.1L1549.2 2835.2L1550.2 2838.7L1551.2 2842.6L1552.2 2847L1553.2 2851.8L1554.2 2857.1L1555.2 2863.1L1556.2 2869.5L1557.2 2876.5L1558.2 2884L1561.2 2907.5L1562.2 2914.6L1563.2 2920.6L1564.2 2925.1L1565.2 2927.7L1566.2 2928L1567.2 2926.2L1568.2 2922.3L1569.2 2916.6L1570.2 2909.8L1571.2 2902.2L1573.2 2886.5L1574.2 2878.9L1575.2 2871.7L1576.2 2865L1577.2 2858.9L1578.2 2853.4L1579.2 2848.4L1580.2 2843.9L1581.2 2839.9L1582.2 2836.3L1583.2 2833.1L1585.2 2827.6L1587.2 2823.1L1589.2 2819.5L1592.2 2815.2L1595.2 2811.9L1598.2 2809.4L1601.2 2807.5L1605.2 2805.4L1609.2 2803.9L1614.2 2802.5L1625.2 2800.4L1640.2 2798.9L1661.2 2797.8L1688.2 2797.2L1726.2 2796.8L1864.2 2796.3"/>
<path d="M301.2 2877.1L661.2 2877.2L715.2 2877.4L743.2 2877.9L753.2 2878.4L760.2 2879L766.2 2879.9L771.2 2881.3L774.2 2882.6L777.2 2884.4L780.2 2886.9L785.2 2891.9L787.2 2893.3L788.2 2893.5L789.2 2893.5L791.2 2892.4L797.2 2886.5L799.2 2884.9L801.2 2883.5L805.2 2881.6L811.2 2880L819.2 2878.9L831.2 2878.3L848.2 2878.1L864.2 2878.5L874.2 2879.1L881.2 2879.9L887.2 2881.3L891.2 2882.8L894.2 2884.5L897.2 2886.9L900.2 2890.3L906.2 2898.8L907.2 2899.8L908.2 2900.4L909.2 2900.6L910.2 2900.3L911.2 2899.6L912.2 2898.5L917.2 2891.3L920.2 2887.7L923.2 2885L927.2 2882.6L932.2 2880.9L939.2 2879.5L948.2 2878.6L959.2 2878L992.2 2877.5L1060.2 2877.2L1251.2 2877.2L1376.2 2877.5L1423.2 2877.9L1456.2 2878.5L1479.2 2879.3L1496.2 2880.6L1505.2 2881.8L1512.2 2883.2L1519.2 2885.3L1524.2 2887.5L1529.2 2890.6L1531.2 2892.3L1533.2 2894.3L1536.2 2898L1538.2 2901.1L1539.2 2902.9L1541.2 2907.1L1542.2 2909.6L1543.2 2912.3L1544.2 2915.3L1545.2 2918.7L1546.2 2922.5L1547.2 2926.8L1548.2 2931.5L1549.2 2936.7L1550.2 2942.5L1551.2 2948.8L1552.2 2955.7L1553.2 2963.1L1556.2 2986.5L1557.2 2993.8L1558.2 3000.2L1559.2 3005.1L1560.2 3008.2L1561.2 3009.1L1562.2 3007.7L1563.2 3004.3L1564.2 2999L1565.2 2992.4L1566.2 2985L1569.2 2961.5L1570.2 2954.3L1571.2 2947.5L1572.2 2941.3L1573.2 2935.6L1574.2 2930.5L1575.2 2925.9L1576.2 2921.7L1577.2 2918L1578.2 2914.7L1579.2 2911.7L1580.2 2909L1582.2 2904.5L1584.2 2900.7L1587.2 2896.4L1590.2 2893L1593.2 2890.5L1596.2 2888.5L1600.2 2886.4L1604.2 2884.9L1609.2 2883.4L1614.2 2882.3L1620.2 2881.3L1635.2 2879.8L1656.2 2878.7L1683.2 2878.1L1722.2 2877.7L1864.2 2877.2"/>
<path d="M301.2 2966.2L343.2 2966.8L356.2 2967.4L365.2 2968.3L372.2 2969.5L377.2 2970.9L381.2 2972.6L389.2 2976.8L391.2 2977.6L393.2 2977.9L395.2 2977.8L397.2 2977.2L408.2 2971.7L412.2 2970.3L416.2 2969.3L421.2 2968.4L428.2 2967.6L447.2 2966.7L502.2 2966.1L648.2 2966L756.2 2966.2L800.2 2966.8L811.2 2967.4L819.2 2968.1L825.2 2969.2L830.2 2970.8L833.2 2972.3L836.2 2974.3L839.2 2977.2L844.2 2983.1L846.2 2984.7L847.2 2985.1L848.2 2985L849.2 2984.6L850.2 2983.9L852.2 2981.8L856.2 2977.1L858.2 2975.1L860.2 2973.5L864.2 2971.2L867.2 2970.1L870.2 2969.3L879.2 2968L891.2 2967.3L910.2 2967.1L928.2 2967.5L938.2 2968.1L946.2 2969.2L952.2 2970.7L957.2 2972.8L960.2 2974.9L963.2 2977.8L966.2 2981.9L971.2 2990.7L972.2 2992.3L973.2 2993.6L974.2 2994.4L975.2 2994.7L976.2 2994.4L977.2 2993.6L978.2 2992.3L979.2 2990.7L984.2 2981.8L987.2 2977.8L990.2 2974.8L993.2 2972.8L998.2 2970.6L1004.2 2969.1L1012.2 2968L1023.2 2967.2L1052.2 2966.5L1106.2 2966.2L1251.2 2966.1L1370.2 2966.4L1417.2 2966.7L1450.2 2967.3L1473.2 2968.1L1490.2 2969.4L1499.2 2970.5L1507.2 2972.1L1514.2 2974.2L1519.2 2976.4L1522.2 2978.2L1524.2 2979.7L1526.2 2981.3L1528.2 2983.4L1531.2 2987.1L1533.2 2990.3L1534.2 2992.2L1536.2 2996.5L1538.2 3001.8L1539.2 3004.9L1540.2 3008.4L1541.2 3012.3L1542.2 3016.6L1543.2 3021.4L1544.2 3026.8L1545.2 3032.7L1546.2 3039.1L1547.2 3046.1L1548.2 3053.6L1551.2 3077.1L1552.2 3084.2L1553.2 3090.3L1554.2 3094.8L1555.2 3097.4L1556.2 3097.8L1557.2 3095.9L1558.2 3092.1L1559.2 3086.5L1560.2 3079.7L1561.2 3072.1L1563.2 3056.3L1564.2 3048.7L1565.2 3041.5L1566.2 3034.9L1567.2 3028.8L1568.2 3023.2L1569.2 3018.2L1570.2 3013.7L1571.2 3009.7L1572.2 3006.1L1573.2 3002.8L1575.2 2997.3L1577.2 2992.8L1579.2 2989.2L1582.2 2984.9L1585.2 2981.7L1588.2 2979.2L1591.2 2977.2L1595.2 2975.2L1599.2 2973.6L1604.2 2972.2L1610.2 2970.9L1616.2 2970L1631.2 2968.6L1652.2 2967.5L1680.2 2966.9L1719.2 2966.5L1864.2 2966.1"/>
<path d="M301.2 3055.3L317.2 3055.8L328.2 3056.6L335.2 3057.7L346.2 3060.5L350.2 3061L354.2 3060.6L363.2 3058.3L369.2 3057.2L376.2 3056.5L385.2 3056.1L399.2 3055.9L413.2 3056.4L423.2 3057.2L436.2 3058.8L441.2 3059.1L446.2 3058.8L461.2 3056.9L471.2 3056.3L488.2 3056L506.2 3056.4L518.2 3057.3L523.2 3058L527.2 3058.9L531.2 3060.2L534.2 3061.4L543.2 3066L545.2 3066.7L547.2 3066.9L549.2 3066.7L551.2 3066L561.2 3060.9L565.2 3059.4L569.2 3058.3L574.2 3057.4L580.2 3056.7L596.2 3055.8L636.2 3055.1L721.2 3054.9L821.2 3055.1L864.2 3055.7L875.2 3056.2L883.2 3056.9L889.2 3057.9L894.2 3059.4L898.2 3061.3L901.2 3063.4L904.2 3066.3L909.2 3072.5L910.2 3073.6L911.2 3074.4L912.2 3074.9L913.2 3074.9L914.2 3074.6L916.2 3073L922.2 3065.7L924.2 3063.8L926.2 3062.2L928.2 3061L931.2 3059.6L937.2 3057.9L946.2 3056.7L960.2 3056L982.2 3055.8L1002.2 3056.3L1013.2 3056.9L1022.2 3058.1L1029.2 3059.9L1032.2 3061.1L1034.2 3062.2L1036.2 3063.6L1038.2 3065.3L1041.2 3068.8L1042.2 3070.3L1044.2 3073.7L1049.2 3083.6L1050.2 3085.2L1051.2 3086.3L1052.2 3086.9L1053.2 3086.8L1054.2 3086.1L1055.2 3084.9L1057.2 3081.3L1061.2 3073.3L1062.2 3071.6L1064.2 3068.5L1067.2 3065.1L1070.2 3062.7L1074.2 3060.5L1080.2 3058.6L1087.2 3057.3L1097.2 3056.4L1121.2 3055.5L1164.2 3055.1L1265.2 3055L1368.2 3055.2L1413.2 3055.6L1445.2 3056.1L1468.2 3057L1485.2 3058.3L1494.2 3059.4L1502.2 3061L1509.2 3063.1L1514.2 3065.4L1517.2 3067.2L1519.2 3068.7L1521.2 3070.4L1523.2 3072.5L1526.2 3076.3L1528.2 3079.6L1529.2 3081.5L1531.2 3085.9L1532.2 3088.4L1533.2 3091.3L1534.2 3094.5L1535.2 3098.1L1536.2 3102.1L1537.2 3106.5L1538.2 3111.4L1539.2 3116.9L1540.2 3122.9L1541.2 3129.5L1542.2 3136.6L1543.2 3144.2L1545.2 3160L1546.2 3167.6L1547.2 3174.5L1548.2 3180.3L1549.2 3184.4L1550.2 3186.5L1551.2 3186.4L1552.2 3184.1L1553.2 3179.8L1554.2 3173.9L1555.2 3166.8L1558.2 3143.4L1559.2 3135.9L1560.2 3128.8L1561.2 3122.3L1562.2 3116.3L1563.2 3110.9L1564.2 3106L1565.2 3101.6L1566.2 3097.7L1567.2 3094.2L1568.2 3091L1570.2 3085.6L1572.2 3081.2L1574.2 3077.7L1577.2 3073.5L1580.2 3070.3L1583.2 3067.8L1586.2 3065.9L1590.2 3063.9L1594.2 3062.4L1599.2 3061L1605.2 3059.7L1611.2 3058.8L1627.2 3057.3L1648.2 3056.3L1676.2 3055.7L1716.2 3055.3L1864.2 3054.9"/>
<path d="M301.2 3113.9L386.2 3114.1L422.2 3114.8L432.2 3115.4L439.2 3116.2L445.2 3117.4L455.2 3120.3L459.2 3120.7L463.2 3120.1L471.2 3117.8L477.2 3116.6L484.2 3115.8L492.2 3115.3L507.2 3115.2L520.2 3115.8L529.2 3116.7L542.2 3118.8L547.2 3119.1L552.2 3118.8L567.2 3116.4L577.2 3115.5L595.2 3115L616.2 3115.2L630.2 3116.1L635.2 3116.7L640.2 3117.6L644.2 3118.7L648.2 3120.3L658.2 3125.5L660.2 3126.1L662.2 3126.2L664.2 3125.9L666.2 3125.2L675.2 3120.4L678.2 3119.1L682.2 3117.9L687.2 3116.8L692.2 3116.1L706.2 3115L736.2 3114.3L794.2 3114L875.2 3114.2L914.2 3114.8L926.2 3115.4L934.2 3116.2L940.2 3117.3L945.2 3118.9L949.2 3121.1L952.2 3123.4L955.2 3126.7L959.2 3132.3L961.2 3134.7L962.2 3135.5L963.2 3135.9L964.2 3135.9L965.2 3135.5L966.2 3134.7L968.2 3132.3L971.2 3128.1L973.2 3125.6L975.2 3123.5L977.2 3121.8L979.2 3120.5L982.2 3119L988.2 3117.2L993.2 3116.3L998.2 3115.8L1013.2 3115.1L1037.2 3114.9L1060.2 3115.4L1072.2 3116.2L1081.2 3117.5L1085.2 3118.5L1088.2 3119.5L1091.2 3120.9L1093.2 3122.1L1095.2 3123.6L1097.2 3125.4L1099.2 3127.8L1100.2 3129.3L1102.2 3132.6L1103.2 3134.6L1105.2 3139L1108.2 3146.1L1109.2 3148.1L1110.2 3149.6L1111.2 3150.6L1112.2 3150.9L1113.2 3150.5L1114.2 3149.4L1115.2 3147.7L1116.2 3145.6L1120.2 3136.3L1122.2 3132.2L1123.2 3130.5L1124.2 3128.9L1126.2 3126.3L1129.2 3123.4L1133.2 3120.7L1136.2 3119.4L1139.2 3118.4L1146.2 3116.8L1154.2 3115.9L1174.2 3114.8L1208.2 3114.3L1276.2 3114.1L1363.2 3114.3L1410.2 3114.6L1442.2 3115.2L1465.2 3116L1482.2 3117.3L1491.2 3118.5L1498.2 3119.9L1504.2 3121.6L1510.2 3124.1L1515.2 3127.3L1517.2 3128.9L1519.2 3130.9L1522.2 3134.6L1524.2 3137.7L1525.2 3139.4L1527.2 3143.6L1528.2 3146.1L1529.2 3148.8L1530.2 3151.8L1531.2 3155.2L1532.2 3158.9L1533.2 3163.1L1534.2 3167.8L1535.2 3173L1536.2 3178.7L1537.2 3185L1538.2 3191.8L1539.2 3199.2L1542.2 3222.6L1543.2 3230L1544.2 3236.4L1545.2 3241.5L1546.2 3244.7L1547.2 3245.8L1548.2 3244.6L1549.2 3241.3L1550.2 3236.2L1551.2 3229.7L1552.2 3222.3L1555.2 3198.8L1556.2 3191.5L1557.2 3184.7L1558.2 3178.4L1559.2 3172.7L1560.2 3167.6L1561.2 3162.9L1562.2 3158.7L1563.2 3155L1564.2 3151.6L1565.2 3148.6L1566.2 3145.9L1568.2 3141.3L1570.2 3137.6L1573.2 3133.2L1576.2 3129.8L1579.2 3127.2L1583.2 3124.6L1587.2 3122.7L1591.2 3121.3L1596.2 3119.9L1602.2 3118.7L1608.2 3117.8L1624.2 3116.3L1645.2 3115.3L1674.2 3114.7L1714.2 3114.3L1864.2 3113.9"/>
<path d="M301.2 3174.3L320.2 3175.8L324.2 3176L347.2 3174.3L370.2 3173.8L461.2 3173.6L521.2 3174L536.2 3174.5L547.2 3175.4L555.2 3176.7L565.2 3179.3L569.2 3179.7L573.2 3179.1L581.2 3177.1L587.2 3176L594.2 3175.2L602.2 3174.8L618.2 3174.7L633.2 3175.2L643.2 3176.2L657.2 3178.4L662.2 3178.7L667.2 3178.4L682.2 3176L692.2 3175.1L711.2 3174.6L733.2 3174.7L750.2 3175.5L756.2 3176.2L761.2 3177.1L765.2 3178.2L768.2 3179.2L772.2 3181L779.2 3184.7L781.2 3185.4L783.2 3185.6L785.2 3185.4L787.2 3184.8L796.2 3180.1L799.2 3178.9L803.2 3177.6L811.2 3176L822.2 3175L843.2 3174.2L878.2 3173.9L933.2 3174L967.2 3174.5L979.2 3175L988.2 3175.8L995.2 3177.1L1000.2 3178.8L1004.2 3180.9L1007.2 3183.4L1010.2 3186.8L1015.2 3193.9L1016.2 3195.1L1017.2 3196L1018.2 3196.6L1019.2 3196.7L1020.2 3196.3L1021.2 3195.5L1022.2 3194.4L1028.2 3186L1030.2 3183.8L1032.2 3182L1034.2 3180.6L1037.2 3179L1040.2 3177.9L1044.2 3176.8L1049.2 3176L1055.2 3175.4L1071.2 3174.7L1098.2 3174.5L1122.2 3175.1L1135.2 3175.9L1144.2 3177.3L1148.2 3178.3L1151.2 3179.3L1154.2 3180.6L1157.2 3182.5L1159.2 3184.2L1161.2 3186.3L1163.2 3189L1164.2 3190.6L1165.2 3192.4L1167.2 3196.5L1172.2 3208.6L1173.2 3210.5L1174.2 3211.9L1175.2 3212.6L1176.2 3212.5L1177.2 3211.7L1178.2 3210.2L1179.2 3208.2L1180.2 3205.8L1184.2 3196L1186.2 3192L1187.2 3190.3L1189.2 3187.3L1192.2 3184L1194.2 3182.4L1196.2 3181.1L1201.2 3178.8L1207.2 3177.2L1214.2 3176.1L1230.2 3174.9L1254.2 3174.3L1296.2 3174L1358.2 3174L1404.2 3174.3L1437.2 3174.8L1461.2 3175.7L1478.2 3177L1487.2 3178.1L1495.2 3179.7L1502.2 3181.8L1507.2 3184.1L1510.2 3185.9L1512.2 3187.4L1514.2 3189.1L1516.2 3191.1L1519.2 3195L1521.2 3198.2L1522.2 3200.1L1524.2 3204.5L1525.2 3207.1L1526.2 3210L1527.2 3213.2L1528.2 3216.7L1529.2 3220.7L1530.2 3225.1L1531.2 3230L1532.2 3235.5L1533.2 3241.5L1534.2 3248.1L1535.2 3255.2L1536.2 3262.8L1538.2 3278.5L1539.2 3286.2L1540.2 3293.1L1541.2 3298.9L1542.2 3303.1L1543.2 3305.2L1544.2 3305.1L1545.2 3302.8L1546.2 3298.6L1547.2 3292.7L1548.2 3285.7L1551.2 3262.2L1552.2 3254.7L1553.2 3247.6L1554.2 3241.1L1555.2 3235.1L1556.2 3229.7L1557.2 3224.8L1558.2 3220.4L1559.2 3216.5L1560.2 3212.9L1561.2 3209.8L1563.2 3204.3L1565.2 3200L1567.2 3196.4L1570.2 3192.2L1573.2 3189L1576.2 3186.5L1579.2 3184.6L1583.2 3182.6L1587.2 3181.1L1592.2 3179.7L1598.2 3178.4L1604.2 3177.5L1620.2 3176L1641.2 3175L1670.2 3174.4L1710.2 3174L1858.2 3173.6"/>
<path d="M301.2 3203.4L346.2 3203.5L371.2 3203.9L385.2 3204.5L402.2 3206.1L407.2 3206.3L412.2 3206.1L431.2 3204.4L453.2 3203.7L523.2 3203.5L581.2 3203.9L597.2 3204.5L608.2 3205.5L615.2 3206.7L625.2 3209.6L629.2 3210.2L633.2 3209.7L642.2 3207.2L648.2 3205.9L655.2 3205.1L665.2 3204.6L682.2 3204.4L698.2 3204.7L708.2 3205.4L723.2 3207.3L728.2 3207.6L733.2 3207.3L748.2 3205.4L759.2 3204.7L777.2 3204.2L799.2 3204.4L817.2 3205.2L824.2 3205.9L829.2 3206.7L836.2 3208.7L840.2 3210.4L847.2 3213.9L849.2 3214.6L851.2 3215L853.2 3214.8L855.2 3214.3L865.2 3209.4L871.2 3207.4L878.2 3206L888.2 3204.9L905.2 3204.2L932.2 3203.9L973.2 3203.9L1001.2 3204.3L1013.2 3204.9L1022.2 3205.7L1029.2 3207L1034.2 3208.7L1038.2 3210.9L1041.2 3213.4L1044.2 3216.8L1049.2 3223.8L1050.2 3224.9L1051.2 3225.7L1052.2 3226.1L1053.2 3226.1L1054.2 3225.6L1055.2 3224.7L1056.2 3223.6L1060.2 3217.9L1062.2 3215.3L1064.2 3213.2L1066.2 3211.5L1068.2 3210.2L1071.2 3208.6L1074.2 3207.6L1078.2 3206.6L1083.2 3205.8L1089.2 3205.2L1107.2 3204.5L1137.2 3204.4L1162.2 3205L1175.2 3206L1184.2 3207.4L1188.2 3208.4L1191.2 3209.5L1194.2 3210.9L1197.2 3212.8L1199.2 3214.5L1201.2 3216.7L1203.2 3219.4L1205.2 3222.8L1206.2 3224.8L1208.2 3229.5L1212.2 3240.6L1213.2 3243.2L1214.2 3245.3L1215.2 3246.8L1216.2 3247.5L1217.2 3247.3L1218.2 3246.3L1219.2 3244.5L1220.2 3242.2L1224.2 3231.1L1226.2 3226.2L1227.2 3224L1229.2 3220.3L1230.2 3218.8L1232.2 3216.2L1234.2 3214.1L1236.2 3212.5L1240.2 3210.1L1243.2 3208.9L1246.2 3208L1253.2 3206.5L1266.2 3205.2L1285.2 3204.4L1315.2 3204L1358.2 3203.9L1403.2 3204.2L1436.2 3204.7L1460.2 3205.6L1477.2 3206.9L1486.2 3208.1L1493.2 3209.5L1500.2 3211.6L1505.2 3213.8L1508.2 3215.6L1510.2 3217L1512.2 3218.7L1514.2 3220.7L1517.2 3224.5L1519.2 3227.6L1520.2 3229.5L1522.2 3233.8L1523.2 3236.3L1524.2 3239.1L1525.2 3242.2L1526.2 3245.7L1527.2 3249.5L1528.2 3253.8L1529.2 3258.6L1530.2 3264L1531.2 3269.8L1532.2 3276.3L1533.2 3283.3L1534.2 3290.7L1537.2 3314.2L1538.2 3321.4L1539.2 3327.5L1540.2 3332.1L1541.2 3334.7L1542.2 3335.2L1543.2 3333.4L1544.2 3329.6L1545.2 3324.1L1546.2 3317.3L1547.2 3309.8L1549.2 3294L1550.2 3286.4L1551.2 3279.2L1552.2 3272.5L1553.2 3266.4L1554.2 3260.8L1555.2 3255.8L1556.2 3251.3L1557.2 3247.2L1558.2 3243.6L1559.2 3240.3L1561.2 3234.8L1563.2 3230.3L1565.2 3226.7L1568.2 3222.4L1571.2 3219.1L1574.2 3216.6L1578.2 3214L1582.2 3212.1L1586.2 3210.7L1591.2 3209.3L1597.2 3208.1L1603.2 3207.3L1619.2 3205.8L1640.2 3204.8L1669.2 3204.2L1709.2 3203.8L1858.2 3203.4"/>
<path d="M301.2 3232.5L394.2 3232.6L434.2 3232.9L454.2 3233.6L473.2 3235.3L478.2 3235.5L483.2 3235.3L502.2 3233.6L523.2 3232.9L583.2 3232.7L640.2 3233L657.2 3233.6L668.2 3234.4L676.2 3235.8L687.2 3238.9L691.2 3239.3L695.2 3238.8L704.2 3236.2L710.2 3235L717.2 3234.2L727.2 3233.6L748.2 3233.4L768.2 3233.8L779.2 3234.5L795.2 3236.5L800.2 3236.8L805.2 3236.5L819.2 3234.7L828.2 3234L843.2 3233.5L862.2 3233.6L879.2 3234.2L890.2 3235.5L894.2 3236.3L898.2 3237.4L909.2 3242L911.2 3242.5L913.2 3242.7L915.2 3242.4L917.2 3241.9L926.2 3238L931.2 3236.4L938.2 3235L946.2 3234.2L960.2 3233.5L980.2 3233.2L1010.2 3233.2L1033.2 3233.5L1045.2 3234L1054.2 3234.9L1061.2 3236.1L1066.2 3237.8L1070.2 3239.9L1073.2 3242.4L1076.2 3245.8L1081.2 3252.5L1082.2 3253.5L1083.2 3254.2L1084.2 3254.5L1085.2 3254.4L1086.2 3253.8L1087.2 3252.9L1089.2 3250.5L1092.2 3246.3L1094.2 3243.9L1096.2 3241.9L1098.2 3240.3L1101.2 3238.5L1104.2 3237.2L1107.2 3236.3L1111.2 3235.4L1116.2 3234.8L1123.2 3234.2L1142.2 3233.5L1173.2 3233.5L1198.2 3234.2L1211.2 3235.1L1221.2 3236.6L1225.2 3237.7L1228.2 3238.8L1231.2 3240.3L1234.2 3242.3L1236.2 3244.1L1238.2 3246.4L1240.2 3249.3L1241.2 3251L1243.2 3255L1244.2 3257.3L1245.2 3259.9L1249.2 3270.9L1250.2 3273.2L1251.2 3275L1252.2 3276.1L1253.2 3276.4L1254.2 3275.8L1255.2 3274.4L1256.2 3272.3L1257.2 3269.8L1261.2 3258.8L1263.2 3254.1L1265.2 3250.3L1266.2 3248.6L1268.2 3245.9L1270.2 3243.7L1272.2 3242L1276.2 3239.6L1281.2 3237.6L1287.2 3236.2L1298.2 3234.8L1313.2 3233.9L1335.2 3233.5L1366.2 3233.3L1405.2 3233.5L1436.2 3234L1458.2 3234.8L1475.2 3236.1L1484.2 3237.2L1491.2 3238.6L1497.2 3240.3L1503.2 3242.9L1508.2 3246L1510.2 3247.6L1512.2 3249.6L1515.2 3253.3L1517.2 3256.3L1518.2 3258.1L1520.2 3262.3L1521.2 3264.7L1522.2 3267.4L1523.2 3270.5L1524.2 3273.8L1525.2 3277.6L1526.2 3281.8L1527.2 3286.4L1528.2 3291.6L1529.2 3297.3L1530.2 3303.6L1531.2 3310.4L1532.2 3317.7L1535.2 3341.2L1536.2 3348.6L1537.2 3355L1538.2 3360.1L1539.2 3363.4L1540.2 3364.5L1541.2 3363.3L1542.2 3360.1L1543.2 3355L1544.2 3348.5L1545.2 3341.1L1548.2 3317.7L1549.2 3310.3L1550.2 3303.5L1551.2 3297.2L1552.2 3291.5L1553.2 3286.4L1554.2 3281.7L1555.2 3277.5L1556.2 3273.8L1557.2 3270.4L1558.2 3267.4L1559.2 3264.7L1561.2 3260.1L1563.2 3256.3L1566.2 3251.9L1569.2 3248.5L1572.2 3246L1576.2 3243.4L1580.2 3241.4L1584.2 3240L1589.2 3238.6L1595.2 3237.4L1601.2 3236.5L1617.2 3235L1638.2 3234L1666.2 3233.4L1706.2 3233L1853.2 3232.6"/>
<path d="M301.2 3262.3L396.2 3262.4L438.2 3262.7L460.2 3263.4L480.2 3265.1L486.2 3265.3L491.2 3265.1L513.2 3263.4L539.2 3262.7L622.2 3262.5L690.2 3262.9L710.2 3263.5L723.2 3264.6L731.2 3265.9L743.2 3269.2L748.2 3270L750.2 3269.9L753.2 3269.4L763.2 3266.5L770.2 3265.1L778.2 3264.2L789.2 3263.6L811.2 3263.3L834.2 3263.6L847.2 3264.4L864.2 3266.3L870.2 3266.7L875.2 3266.4L889.2 3264.8L899.2 3264.1L912.2 3263.7L927.2 3263.7L943.2 3264.2L955.2 3265.5L963.2 3267.2L975.2 3271.1L979.2 3271.6L983.2 3271L993.2 3267.7L998.2 3266.3L1004.2 3265.2L1011.2 3264.4L1022.2 3263.8L1036.2 3263.4L1054.2 3263.3L1071.2 3263.6L1082.2 3264L1091.2 3264.8L1098.2 3266.1L1103.2 3267.7L1107.2 3269.9L1110.2 3272.4L1113.2 3275.8L1118.2 3282.5L1119.2 3283.5L1120.2 3284.2L1121.2 3284.4L1122.2 3284.3L1123.2 3283.7L1124.2 3282.7L1125.2 3281.6L1129.2 3276.1L1131.2 3273.7L1133.2 3271.7L1135.2 3270.1L1138.2 3268.3L1141.2 3267.1L1144.2 3266.2L1148.2 3265.3L1154.2 3264.5L1161.2 3264L1181.2 3263.4L1215.2 3263.4L1242.2 3264.1L1256.2 3265.2L1261.2 3265.9L1266.2 3266.9L1270.2 3268L1273.2 3269.2L1276.2 3270.8L1279.2 3272.9L1281.2 3274.8L1283.2 3277.2L1285.2 3280.3L1286.2 3282.1L1288.2 3286.3L1289.2 3288.8L1291.2 3294.5L1294.2 3303.8L1295.2 3306.5L1296.2 3308.8L1297.2 3310.3L1298.2 3311L1299.2 3310.7L1300.2 3309.5L1301.2 3307.5L1302.2 3304.9L1303.2 3302L1306.2 3292.7L1308.2 3287.3L1310.2 3282.9L1311.2 3281L1313.2 3277.8L1316.2 3274.3L1318.2 3272.5L1320.2 3271.1L1322.2 3269.9L1325.2 3268.6L1330.2 3267L1338.2 3265.6L1349.2 3264.5L1364.2 3263.9L1384.2 3263.6L1413.2 3263.6L1439.2 3264.1L1459.2 3264.9L1474.2 3266.1L1483.2 3267.3L1490.2 3268.7L1497.2 3270.9L1502.2 3273.2L1505.2 3275L1507.2 3276.5L1509.2 3278.2L1511.2 3280.3L1514.2 3284.2L1516.2 3287.6L1517.2 3289.5L1519.2 3294L1521.2 3299.6L1522.2 3302.8L1523.2 3306.5L1524.2 3310.6L1525.2 3315.1L1526.2 3320.1L1527.2 3325.7L1528.2 3331.9L1529.2 3338.6L1530.2 3345.8L1531.2 3353.4L1533.2 3369.2L1534.2 3376.7L1535.2 3383.4L1536.2 3388.9L1537.2 3392.6L1538.2 3394.3L1539.2 3393.7L1540.2 3390.9L1541.2 3386.3L1542.2 3380.1L1543.2 3372.9L1546.2 3349.4L1547.2 3342L1548.2 3335L1549.2 3328.6L1550.2 3322.7L1551.2 3317.4L1552.2 3312.7L1553.2 3308.4L1554.2 3304.5L1555.2 3301.1L1556.2 3298L1558.2 3292.7L1560.2 3288.4L1562.2 3284.9L1565.2 3280.8L1568.2 3277.7L1571.2 3275.3L1574.2 3273.4L1578.2 3271.4L1582.2 3269.9L1587.2 3268.5L1593.2 3267.3L1599.2 3266.4L1614.2 3264.9L1635.2 3263.9L1663.2 3263.3L1703.2 3262.9L1849.2 3262.4"/>
<path d="M301.2 3301.4L558.2 3302L736.2 3302.9L864.2 3304.3L915.2 3305.3L960.2 3306.4L997.2 3307.7L1030.2 3309.2L1060.2 3311L1089.2 3313.1L1113.2 3315.2L1138.2 3317.8L1226.2 3328.2L1242.2 3329.6L1254.2 3330.2L1264.2 3330.1L1275.2 3329.6L1330.2 3324.9L1360.2 3323.1L1375.2 3322.8L1388.2 3322.9L1401.2 3323.4L1412.2 3324.3L1422.2 3325.7L1431.2 3327.4L1440.2 3329.6L1448.2 3332.3L1455.2 3335.3L1462.2 3339L1469.2 3343.6L1475.2 3348.5L1480.2 3353.4L1485.2 3359L1490.2 3365.6L1495.2 3373.1L1499.2 3379.8L1503.2 3387.1L1517.2 3414.6L1520.2 3419.9L1523.2 3424.5L1526.2 3428.2L1528.2 3430L1531.2 3431.7L1533.2 3432L1534.2 3432L1536.2 3431.4L1539.2 3429.3L1542.2 3426.1L1545.2 3421.8L1547.2 3418.4L1550.2 3412.9L1563.2 3386.5L1566.2 3380.7L1569.2 3375.2L1573.2 3368.5L1576.2 3363.8L1580.2 3358.2L1584.2 3353.1L1588.2 3348.6L1593.2 3343.6L1597.2 3340.2L1602.2 3336.3L1607.2 3333L1612.2 3330.1L1617.2 3327.6L1623.2 3325L1630.2 3322.4L1637.2 3320.2L1645.2 3318.1L1654.2 3316.1L1664.2 3314.3L1674.2 3312.8L1698.2 3310.2L1726.2 3308.1L1760.2 3306.4L1802.2 3305.1L1853.2 3304"/>
</g>
<path d="M404 1813.3L410.6 1833.3L417.2 1853.3L423.9 1873.3L430.7 1893.3L437.5 1913.3L444.4 1933.3L451.3 1953.3L458.3 1973.3L465.3 1993.3L472.4 2013.3L479.6 2033.3L486.8 2053.3L494.1 2073.3L501.4 2093.3L508.8 2113.3L516.3 2133.3L523.9 2153.3L531.5 2173.3L539.2 2193.3L546.9 2213.3L554.8 2233.3L562.7 2253.3L570.7 2273.3L578.8 2293.3L587 2313.3L595.2 2333.3L603.6 2353.3L612 2373.3L620.5 2393.3L629.2 2413.3L637.9 2433.3L646.7 2453.3L655.6 2473.3L664.7 2493.3L673.8 2513.3L683.1 2533.3L692.4 2553.3L701.9 2573.3L711.5 2593.3L721.3 2613.3L731.2 2633.3L741.2 2653.3L751.3 2673.3L761.7 2693.3L772.2 2713.3L782.8 2733.3L793.6 2753.3L804.7 2773.3L815.9 2793.3L827.3 2813.3L839 2833.3L850.8 2853.3L863 2873.3L875.4 2893.3L888 2913.3L901 2933.3L914.3 2953.3L928 2973.3L942.1 2993.3L956.5 3013.3L971.3 3033.3L986.5 3053.3L1002.1 3073.3L1018.3 3093.3L1035 3113.3L1052.3 3133.3L1070.3 3153.3L1089.1 3173.3L1108.8 3193.3L1129.5 3213.3L1151.5 3233.3L1175.3 3253.3L1200.9 3273.3L1228.6 3293.3L1259.5 3313.3L1295.5 3333.3L1306 3338.7L1311.6 3341.4L1317.1 3344.1L1322.6 3346.7L1328.1 3349.2L1333.6 3351.7L1339.1 3354.1L1344.6 3356.5L1350 3358.7L1355.5 3361L1361 3363.1L1366.4 3365.2L1371.8 3367.2L1377.2 3369.2L1382.6 3371.1L1388 3373L1393.3 3374.7L1398.6 3376.4L1403.9 3378.1L1409.1 3379.7L1414.2 3381.2L1419.4 3382.7L1424.6 3384L1429.7 3385.4L1434.9 3386.6L1440.1 3387.9L1445.3 3389L1450.6 3390.1L1456.1 3391.1L1461.8 3392L1467.3 3392.9L1472.8 3393.8L1478 3394.5L1482.6 3395.2L1487.1 3395.8L1491.6 3396.4L1496.1 3396.9L1500.7 3397.4L1505.2 3397.7L1509.7 3398.1L1526.6 3398.6" stroke="#f00" stroke-width="6.3"/>
<path d="M441.6 1813.3L448.4 1833.3L455.2 1853.3L462.1 1873.3L469.1 1893.3L476.1 1913.3L483.2 1933.3L490.3 1953.3L497.5 1973.3L504.8 1993.3L512.1 2013.3L519.5 2033.3L526.9 2053.3L534.4 2073.3L542 2093.3L549.7 2113.3L557.5 2133.3L565.3 2153.3L573.2 2173.3L581.2 2193.3L589.2 2213.3L597.4 2233.3L605.6 2253.3L613.9 2273.3L622.4 2293.3L630.9 2313.3L639.5 2333.3L648.2 2353.3L657 2373.3L666 2393.3L675 2413.3L684.2 2433.3L693.4 2453.3L702.8 2473.3L712.4 2493.3L722 2513.3L731.8 2533.3L741.8 2553.3L751.9 2573.3L762.1 2593.3L772.6 2613.3L783.2 2633.3L794 2653.3L805 2673.3L816.2 2693.3L827.7 2713.3L839.3 2733.3L851.2 2753.3L863.3 2773.3L875.7 2793.3L888.4 2813.3L901.3 2833.3L914.6 2853.3L928.2 2873.3L942.1 2893.3L956.4 2913.3L971.1 2933.3L986.3 2953.3L1001.9 2973.3L1018 2993.3L1034.7 3013.3L1052 3033.3L1070.1 3053.3L1089.1 3073.3L1109.3 3093.3L1130.6 3113.3L1153 3133.3L1176.6 3153.3L1201.5 3173.3L1228.3 3193.3L1257.8 3213.3L1290.9 3233.3L1305.8 3241.5L1311 3244.2L1316.2 3246.9L1321.4 3249.5L1326.6 3252L1331.8 3254.5L1337 3256.9L1342.2 3259.3L1347.4 3261.5L1352.6 3263.8L1357.9 3265.9L1363.1 3268L1368.3 3270L1373.6 3272L1378.8 3273.9L1384.1 3275.8L1389.4 3277.5L1394.7 3279.2L1400 3280.9L1405.4 3282.5L1411 3284L1416.5 3285.5L1422.1 3286.8L1427.7 3288.2L1433.2 3289.4L1438.7 3290.7L1444.2 3291.8L1449.6 3292.9L1455.1 3293.9L1460.5 3294.8L1465.9 3295.7L1471.2 3296.6L1476.6 3297.3L1481.8 3298L1487 3298.6L1492.1 3299.2L1497.2 3299.7L1502.4 3300.2L1507.5 3300.5L1512.7 3300.9L1531.5 3301.4" stroke="#00f" stroke-width="6.3"/>
<path d="M1624 1813.3L1521.4 3544.8" stroke="#008000" stroke-width="6.3"/>
</g>
<g fill="#fff" stroke="#000" stroke-width="3.1" stroke-linejoin="miter">
<rect x="407.9" y="1850.6" width="18.4" height="18.4"/>
<rect x="479.3" y="2049.7" width="18.4" height="18.4"/>
<rect x="557.9" y="2248.8" width="18.4" height="18.4"/>
<rect x="640.4" y="2447.8" width="18.4" height="18.4"/>
<rect x="733.9" y="2646.9" width="18.4" height="18.4"/>
<rect x="806" y="2779.6" width="18.4" height="18.4"/>
<rect x="885.8" y="2912.4" width="18.4" height="18.4"/>
<rect x="977.9" y="3045.1" width="18.4" height="18.4"/>
<rect x="1024.8" y="3111.4" width="18.4" height="18.4"/>
<rect x="1074.8" y="3177.8" width="18.4" height="18.4"/>
<rect x="1101" y="3211" width="18.4" height="18.4"/>
<rect x="1122.8" y="3244.2" width="18.4" height="18.4"/>
<rect x="1144.5" y="3277.3" width="18.4" height="18.4"/>
<rect x="1163.4" y="3310.5" width="18.4" height="18.4"/>
<rect x="1184.1" y="3376.9" width="18.4" height="18.4"/>
<rect x="1180.9" y="3443.2" width="18.4" height="18.4"/>
<rect x="1148.3" y="3509.6" width="18.4" height="18.4"/>
<rect x="1083.8" y="3576" width="18.4" height="18.4"/>
<circle cx="470.6" cy="1859.8" r="9.2"/>
<circle cx="543.7" cy="2058.9" r="9.2"/>
<circle cx="623.8" cy="2258" r="9.2"/>
<circle cx="709.1" cy="2457" r="9.2"/>
<circle cx="806.3" cy="2656.1" r="9.2"/>
<circle cx="882.4" cy="2788.8" r="9.2"/>
<circle cx="962.1" cy="2921.6" r="9.2"/>
<circle cx="1053.8" cy="3054.3" r="9.2"/>
<circle cx="1099.4" cy="3120.6" r="9.2"/>
<circle cx="1146.7" cy="3187" r="9.2"/>
<circle cx="1174" cy="3220.2" r="9.2"/>
<circle cx="1198.9" cy="3253.4" r="9.2"/>
<circle cx="1221.5" cy="3286.5" r="9.2"/>
<circle cx="1246" cy="3319.7" r="9.2"/>
<circle cx="1286.5" cy="3386.1" r="9.2"/>
<circle cx="1327" cy="3452.4" r="9.2"/>
<circle cx="1361.5" cy="3518.8" r="9.2"/>
<circle cx="1385.7" cy="3585.2" r="9.2"/>
<path d="M1622.2 1851.9L1630.7 1868.9H1613.7Z"/>
<path d="M1610.4 2051L1618.9 2068H1601.9Z"/>
<path d="M1598.7 2250.1L1607.2 2267.1H1590.2Z"/>
<path d="M1586.9 2449.1L1595.4 2466.1H1578.4Z"/>
<path d="M1575.1 2648.2L1583.6 2665.2H1566.6Z"/>
<path d="M1567.2 2780.9L1575.7 2797.9H1558.7Z"/>
<path d="M1559.3 2913.7L1567.8 2930.7H1550.8Z"/>
<path d="M1551.5 3046.4L1560 3063.4H1543Z"/>
<path d="M1547.5 3112.7L1556 3129.7H1539Z"/>
<path d="M1543.6 3179.1L1552.1 3196.1H1535.1Z"/>
<path d="M1541.6 3212.3L1550.1 3229.3H1533.1Z"/>
<path d="M1539.7 3245.5L1548.2 3262.5H1531.2Z"/>
<path d="M1537.7 3278.6L1546.2 3295.6H1529.2Z"/>
<path d="M1535.7 3311.8L1544.2 3328.8H1527.2Z"/>
<path d="M1532.5 3378.2L1541 3395.2H1524Z"/>
<path d="M1525.8 3444.5L1534.3 3461.5H1517.3Z"/>
<path d="M1523.8 3510.9L1532.3 3527.9H1515.3Z"/>
<path d="M1519.8 3577.3L1528.3 3594.3H1511.3Z"/>
</g>
<rect x="301.2" y="1727" width="1567.8" height="1946.9" fill="none" stroke="#000" stroke-width="2.3"/>
<g font-family="'DejaVu Sans','Liberation Sans',sans-serif" font-size="37.3" fill="#000" stroke="#000" stroke-width="1.25">
<text x="293.6" y="1895.6" text-anchor="end">0.999000</text>
<text x="293.6" y="2098.5" text-anchor="end">0.999306</text>
<text x="293.6" y="2301.3" text-anchor="end">0.999612</text>
<text x="293.6" y="2504.2" text-anchor="end">0.999918</text>
<text x="293.6" y="2605.6" text-anchor="end">1.000071</text>
<text x="293.6" y="2707.1" text-anchor="end">1.000224</text>
<text x="293.6" y="2809.2" text-anchor="end">1.000378</text>
<text x="293.6" y="2890.1" text-anchor="end">1.000500</text>
<text x="293.6" y="2978.9" text-anchor="end">1.000634</text>
<text x="293.6" y="3067.7" text-anchor="end">1.000768</text>
<text x="293.6" y="3126.7" text-anchor="end">1.000857</text>
<text x="293.6" y="3186.4" text-anchor="end">1.000947</text>
<text x="293.6" y="3216.2" text-anchor="end">1.000992</text>
<text x="293.6" y="3245.4" text-anchor="end">1.001036</text>
<text x="293.6" y="3275.2" text-anchor="end">1.001081</text>
<text x="293.6" y="3313.7" text-anchor="end">1.001139</text>
<text x="301.2" y="3709.9" text-anchor="middle">145</text>
<text x="562.5" y="3709.9" text-anchor="middle">146</text>
<text x="823.8" y="3709.9" text-anchor="middle">147</text>
<text x="1085.1" y="3709.9" text-anchor="middle">148</text>
<text x="1346.4" y="3709.9" text-anchor="middle">149</text>
<text x="1607.7" y="3709.9" text-anchor="middle">150</text>
<text x="1869" y="3709.9" text-anchor="middle">151</text>
</g>
<g font-family="'DejaVu Sans','Liberation Sans',sans-serif" font-size="45.7" fill="#000" stroke="#000" stroke-width="1.25">
<text x="1085" y="3763" text-anchor="middle">Frequency [MHz]</text>
<text x="98" y="2700" text-anchor="middle" transform="rotate(-90 98 2700)">Cavity Length [m]</text>
</g>
<rect x="1918.1" y="1745.4" width="479.2" height="400.5" rx="7" fill="#fff" stroke="#ccc" stroke-width="2.6"/>
<path d="M1931.2 1776.9H2010.9" stroke="#f00" stroke-width="6.3"/>
<path d="M1931.2 1833.1H2010.9" stroke="#00f" stroke-width="6.3"/>
<path d="M1931.2 1887.8H2010.9" stroke="#008000" stroke-width="6.3"/>
<path d="M1931.6 2108.8H2010.3" stroke="#000" stroke-width="4.1"/>
<g fill="#fff" stroke="#000" stroke-width="2.8">
<rect x="1962.3" y="1934.2" width="17.3" height="17.3"/>
<circle cx="1971" cy="1999.1" r="8.7"/>
<path d="M1971 2047.8L1979 2063.8H1963Z"/>
</g>
<g font-family="'DejaVu Sans','Liberation Sans',sans-serif" font-size="37.3" fill="#000" stroke="#000" stroke-width="1.25">
<text x="2038.5" y="1788.7">Fit of <tspan font-style="italic">f</tspan><tspan dy="6" font-size="26.1">20</tspan></text>
<text x="2038.5" y="1844.9">Fit of <tspan font-style="italic">f</tspan><tspan dy="6" font-size="26.1">02</tspan></text>
<text x="2038.5" y="1900.5">Fit of FSR</text>
<text x="2038.5" y="1954.9">Data HG<tspan dy="6" font-size="26.1">20</tspan></text>
<text x="2038.5" y="2011.1">Data HG<tspan dy="6" font-size="26.1">02</tspan></text>
<text x="2038.5" y="2067.3">Data HG<tspan dy="6" font-size="26.1">00</tspan></text>
<text x="2038.5" y="2122">Finesse simulation</text>
</g>
</svg>
</div></body></html>
